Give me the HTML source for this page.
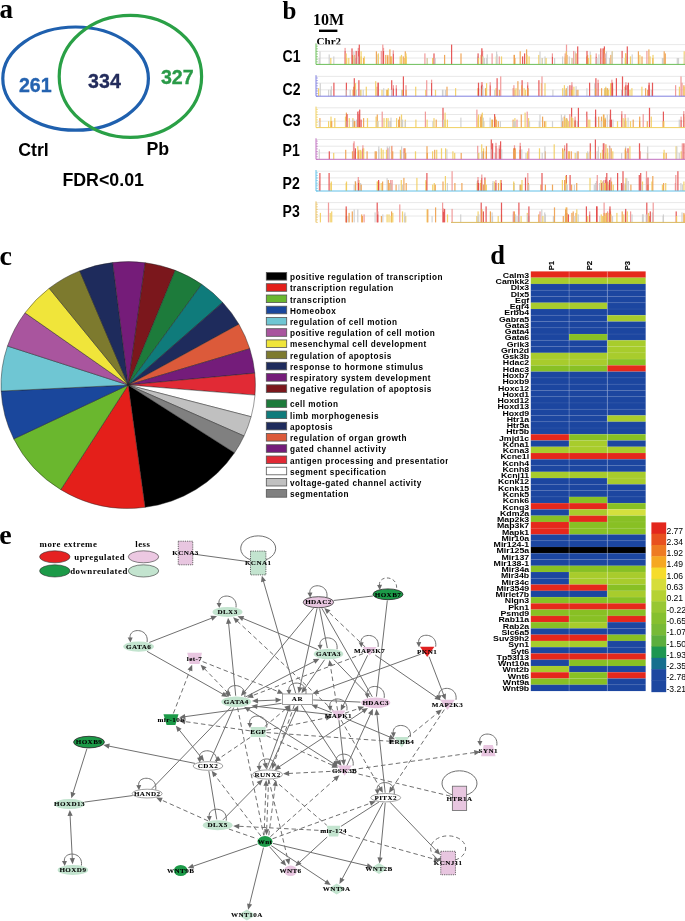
<!DOCTYPE html>
<html><head><meta charset="utf-8"><style>
html,body{margin:0;padding:0;background:#fff;overflow:hidden;}
svg{display:block;will-change:transform;}
</style></head><body>
<svg width="685" height="921" viewBox="0 0 685 921">
<rect width="685" height="921" fill="#fff"/>
<text x="-0.6" y="17.8" font-family='"Liberation Serif", serif' font-weight="bold" font-size="27">a</text>
<ellipse cx="75.6" cy="78.6" rx="72.8" ry="51.6" fill="none" stroke="#1f60ae" stroke-width="3.2"/>
<ellipse cx="130.4" cy="76.4" rx="71.2" ry="61" fill="none" stroke="#2aa046" stroke-width="3.2"/>
<text x="18.9" y="92.1" font-family='"Liberation Sans", sans-serif' font-weight="bold" font-size="19.6" fill="#2563b0" stroke="#2563b0" stroke-width="0.35">261</text>
<text x="88.1" y="87.8" font-family='"Liberation Sans", sans-serif' font-weight="bold" font-size="19.6" fill="#232c5c" stroke="#232c5c" stroke-width="0.35">334</text>
<text x="160.9" y="84" font-family='"Liberation Sans", sans-serif' font-weight="bold" font-size="19.6" fill="#2a9a48" stroke="#2a9a48" stroke-width="0.35">327</text>
<text x="18.2" y="156" font-family='"Liberation Sans", sans-serif' font-weight="bold" font-size="17.8">Ctrl</text>
<text x="146.5" y="155" font-family='"Liberation Sans", sans-serif' font-weight="bold" font-size="17.8">Pb</text>
<text x="62.4" y="185.8" font-family='"Liberation Sans", sans-serif' font-weight="bold" font-size="17.8">FDR&lt;0.01</text>
<text x="282.6" y="18.5" font-family='"Liberation Serif", serif' font-weight="bold" font-size="25">b</text>
<text x="313" y="24.6" font-family='"Liberation Serif", serif' font-weight="bold" font-size="16">10M</text>
<rect x="319" y="29.6" width="18.4" height="2.4" fill="#000"/>
<text x="316.6" y="45.4" font-family='"Liberation Serif", serif' font-weight="bold" font-size="11">Chr2</text>
<text x="282.6" y="61.9" font-family='"Liberation Sans", sans-serif' font-weight="bold" font-size="15.6" transform="translate(282.6 0) scale(0.9 1) translate(-282.6 0)">C1</text>
<line x1="316" y1="44.6" x2="685" y2="44.6" stroke="#e2e2e2" stroke-width="0.8"/>
<line x1="316" y1="51.3" x2="685" y2="51.3" stroke="#e2e2e2" stroke-width="0.8"/>
<line x1="316" y1="58.0" x2="685" y2="58.0" stroke="#e2e2e2" stroke-width="0.8"/>
<rect x="319.4" y="51.4" width="1.2" height="13.0" fill="#cdcdcd" opacity="0.9"/>
<rect x="318.6" y="58.0" width="1.2" height="6.4" fill="#cdcdcd" opacity="0.9"/>
<rect x="328.6" y="54.4" width="1.2" height="10.0" fill="#cdcdcd" opacity="0.9"/>
<rect x="330.2" y="58.0" width="1.2" height="6.4" fill="#f2cd5e" opacity="0.9"/>
<rect x="333.2" y="56.4" width="1.2" height="8.0" fill="#cdcdcd" opacity="0.9"/>
<rect x="344.5" y="50.9" width="1.2" height="13.5" fill="#e34747" opacity="0.9"/>
<rect x="344.5" y="47.9" width="1.2" height="3" fill="#f09090" opacity="0.9"/>
<rect x="345.6" y="53.4" width="1.2" height="11.0" fill="#f2cd5e" opacity="0.9"/>
<rect x="346.1" y="58.0" width="1.2" height="6.4" fill="#f2cd5e" opacity="0.9"/>
<rect x="348.2" y="58.0" width="1.2" height="6.4" fill="#f2cd5e" opacity="0.9"/>
<rect x="351.9" y="54.9" width="1.2" height="9.5" fill="#ee9f4a" opacity="0.9"/>
<rect x="351.4" y="48.4" width="1.2" height="16.0" fill="#e34747" opacity="0.9"/>
<rect x="353.0" y="58.0" width="1.2" height="6.4" fill="#f2cd5e" opacity="0.9"/>
<rect x="353.0" y="56.4" width="1.2" height="8.0" fill="#f2cd5e" opacity="0.9"/>
<rect x="353.9" y="54.9" width="1.2" height="9.5" fill="#ee9f4a" opacity="0.9"/>
<rect x="353.3" y="51.4" width="1.2" height="13.0" fill="#cdcdcd" opacity="0.9"/>
<rect x="355.2" y="58.0" width="1.2" height="6.4" fill="#cdcdcd" opacity="0.9"/>
<rect x="355.6" y="50.9" width="1.2" height="13.5" fill="#e34747" opacity="0.9"/>
<rect x="357.7" y="50.9" width="1.2" height="13.5" fill="#e34747" opacity="0.9"/>
<rect x="357.7" y="47.9" width="1.2" height="3" fill="#f09090" opacity="0.9"/>
<rect x="358.1" y="56.4" width="1.2" height="8.0" fill="#cdcdcd" opacity="0.9"/>
<rect x="358.7" y="44.6" width="1.2" height="19.8" fill="#e34747" opacity="0.9"/>
<rect x="360.5" y="51.3" width="1.2" height="13.1" fill="#f2cd5e" opacity="0.9"/>
<rect x="360.5" y="56.4" width="1.2" height="8.0" fill="#f2cd5e" opacity="0.9"/>
<rect x="362.9" y="58.0" width="1.2" height="6.4" fill="#ee9f4a" opacity="0.9"/>
<rect x="363.7" y="56.4" width="1.2" height="8.0" fill="#f2cd5e" opacity="0.9"/>
<rect x="376.5" y="54.4" width="1.2" height="10.0" fill="#cdcdcd" opacity="0.9"/>
<rect x="375.8" y="51.3" width="1.2" height="13.1" fill="#ee9f4a" opacity="0.9"/>
<rect x="377.8" y="53.4" width="1.2" height="11.0" fill="#f2cd5e" opacity="0.9"/>
<rect x="380.7" y="50.9" width="1.2" height="13.5" fill="#f09090" opacity="0.9"/>
<rect x="382.2" y="44.6" width="1.2" height="19.8" fill="#f09090" opacity="0.9"/>
<rect x="382.9" y="50.9" width="1.2" height="13.5" fill="#e34747" opacity="0.9"/>
<rect x="382.9" y="47.9" width="1.2" height="3" fill="#f09090" opacity="0.9"/>
<rect x="385.2" y="54.9" width="1.2" height="9.5" fill="#ee9f4a" opacity="0.9"/>
<rect x="387.0" y="56.4" width="1.2" height="8.0" fill="#ee9f4a" opacity="0.9"/>
<rect x="387.2" y="54.9" width="1.2" height="9.5" fill="#ee9f4a" opacity="0.9"/>
<rect x="389.3" y="49.4" width="1.2" height="15.0" fill="#ee9f4a" opacity="0.9"/>
<rect x="391.0" y="56.4" width="1.2" height="8.0" fill="#f2cd5e" opacity="0.9"/>
<rect x="390.1" y="56.4" width="1.2" height="8.0" fill="#ee9f4a" opacity="0.9"/>
<rect x="392.7" y="53.4" width="1.2" height="11.0" fill="#e34747" opacity="0.9"/>
<rect x="392.7" y="50.4" width="1.2" height="3" fill="#f09090" opacity="0.9"/>
<rect x="399.6" y="56.4" width="1.2" height="8.0" fill="#f2cd5e" opacity="0.9"/>
<rect x="400.9" y="54.9" width="1.2" height="9.5" fill="#f2cd5e" opacity="0.9"/>
<rect x="402.7" y="56.4" width="1.2" height="8.0" fill="#ee9f4a" opacity="0.9"/>
<rect x="404.2" y="58.0" width="1.2" height="6.4" fill="#f2cd5e" opacity="0.9"/>
<rect x="404.7" y="51.3" width="1.2" height="13.1" fill="#ee9f4a" opacity="0.9"/>
<rect x="405.4" y="53.4" width="1.2" height="11.0" fill="#f2cd5e" opacity="0.9"/>
<rect x="405.6" y="56.4" width="1.2" height="8.0" fill="#f2cd5e" opacity="0.9"/>
<rect x="424.3" y="53.4" width="1.2" height="11.0" fill="#f09090" opacity="0.9"/>
<rect x="426.7" y="58.0" width="1.2" height="6.4" fill="#f2cd5e" opacity="0.9"/>
<rect x="426.5" y="58.0" width="1.2" height="6.4" fill="#cdcdcd" opacity="0.9"/>
<rect x="432.0" y="58.0" width="1.2" height="6.4" fill="#f2cd5e" opacity="0.9"/>
<rect x="433.4" y="53.4" width="1.2" height="11.0" fill="#e34747" opacity="0.9"/>
<rect x="434.6" y="58.0" width="1.2" height="6.4" fill="#cdcdcd" opacity="0.9"/>
<rect x="444.0" y="54.9" width="1.2" height="9.5" fill="#ee9f4a" opacity="0.9"/>
<rect x="451.0" y="44.6" width="1.2" height="19.8" fill="#e34747" opacity="0.9"/>
<rect x="460.4" y="53.4" width="1.2" height="11.0" fill="#ee9f4a" opacity="0.9"/>
<rect x="477.1" y="56.4" width="1.2" height="8.0" fill="#cdcdcd" opacity="0.9"/>
<rect x="477.5" y="53.4" width="1.2" height="11.0" fill="#e34747" opacity="0.9"/>
<rect x="478.0" y="58.0" width="1.2" height="6.4" fill="#f2cd5e" opacity="0.9"/>
<rect x="481.1" y="48.4" width="1.2" height="16.0" fill="#e34747" opacity="0.9"/>
<rect x="480.5" y="54.9" width="1.2" height="9.5" fill="#ee9f4a" opacity="0.9"/>
<rect x="481.2" y="53.4" width="1.2" height="11.0" fill="#e34747" opacity="0.9"/>
<rect x="481.9" y="50.9" width="1.2" height="13.5" fill="#e34747" opacity="0.9"/>
<rect x="481.5" y="48.4" width="1.2" height="16.0" fill="#f09090" opacity="0.9"/>
<rect x="482.0" y="56.4" width="1.2" height="8.0" fill="#f2cd5e" opacity="0.9"/>
<rect x="482.5" y="56.4" width="1.2" height="8.0" fill="#cdcdcd" opacity="0.9"/>
<rect x="483.9" y="58.0" width="1.2" height="6.4" fill="#cdcdcd" opacity="0.9"/>
<rect x="486.1" y="58.0" width="1.2" height="6.4" fill="#cdcdcd" opacity="0.9"/>
<rect x="486.7" y="54.4" width="1.2" height="10.0" fill="#cdcdcd" opacity="0.9"/>
<rect x="491.5" y="53.4" width="1.2" height="11.0" fill="#f09090" opacity="0.9"/>
<rect x="495.7" y="56.4" width="1.2" height="8.0" fill="#f2cd5e" opacity="0.9"/>
<rect x="496.0" y="51.4" width="1.2" height="13.0" fill="#cdcdcd" opacity="0.9"/>
<rect x="496.5" y="54.4" width="1.2" height="10.0" fill="#cdcdcd" opacity="0.9"/>
<rect x="498.7" y="56.4" width="1.2" height="8.0" fill="#f09090" opacity="0.9"/>
<rect x="500.9" y="56.4" width="1.2" height="8.0" fill="#f2cd5e" opacity="0.9"/>
<rect x="513.7" y="54.9" width="1.2" height="9.5" fill="#ee9f4a" opacity="0.9"/>
<rect x="513.7" y="54.9" width="1.2" height="9.5" fill="#ee9f4a" opacity="0.9"/>
<rect x="514.3" y="58.0" width="1.2" height="6.4" fill="#ee9f4a" opacity="0.9"/>
<rect x="519.6" y="51.3" width="1.2" height="13.1" fill="#ee9f4a" opacity="0.9"/>
<rect x="522.0" y="56.4" width="1.2" height="8.0" fill="#e34747" opacity="0.9"/>
<rect x="524.0" y="53.4" width="1.2" height="11.0" fill="#e34747" opacity="0.9"/>
<rect x="526.0" y="49.4" width="1.2" height="15.0" fill="#ee9f4a" opacity="0.9"/>
<rect x="526.4" y="54.9" width="1.2" height="9.5" fill="#f2cd5e" opacity="0.9"/>
<rect x="528.5" y="56.4" width="1.2" height="8.0" fill="#f2cd5e" opacity="0.9"/>
<rect x="538.2" y="54.9" width="1.2" height="9.5" fill="#f2cd5e" opacity="0.9"/>
<rect x="539.4" y="51.4" width="1.2" height="13.0" fill="#cdcdcd" opacity="0.9"/>
<rect x="541.6" y="58.0" width="1.2" height="6.4" fill="#f2cd5e" opacity="0.9"/>
<rect x="541.8" y="58.0" width="1.2" height="6.4" fill="#cdcdcd" opacity="0.9"/>
<rect x="544.4" y="56.4" width="1.2" height="8.0" fill="#cdcdcd" opacity="0.9"/>
<rect x="545.5" y="58.0" width="1.2" height="6.4" fill="#f2cd5e" opacity="0.9"/>
<rect x="551.8" y="56.4" width="1.2" height="8.0" fill="#e34747" opacity="0.9"/>
<rect x="551.8" y="53.4" width="1.2" height="3" fill="#f09090" opacity="0.9"/>
<rect x="554.0" y="58.0" width="1.2" height="6.4" fill="#cdcdcd" opacity="0.9"/>
<rect x="562.0" y="56.4" width="1.2" height="8.0" fill="#cdcdcd" opacity="0.9"/>
<rect x="564.6" y="56.4" width="1.2" height="8.0" fill="#f2cd5e" opacity="0.9"/>
<rect x="564.7" y="58.0" width="1.2" height="6.4" fill="#f2cd5e" opacity="0.9"/>
<rect x="564.6" y="53.4" width="1.2" height="11.0" fill="#f09090" opacity="0.9"/>
<rect x="566.4" y="54.9" width="1.2" height="9.5" fill="#ee9f4a" opacity="0.9"/>
<rect x="565.9" y="44.6" width="1.2" height="19.8" fill="#f09090" opacity="0.9"/>
<rect x="565.6" y="51.3" width="1.2" height="13.1" fill="#f2cd5e" opacity="0.9"/>
<rect x="568.7" y="56.4" width="1.2" height="8.0" fill="#cdcdcd" opacity="0.9"/>
<rect x="571.4" y="58.0" width="1.2" height="6.4" fill="#f2cd5e" opacity="0.9"/>
<rect x="571.5" y="58.0" width="1.2" height="6.4" fill="#cdcdcd" opacity="0.9"/>
<rect x="573.1" y="50.9" width="1.2" height="13.5" fill="#f09090" opacity="0.9"/>
<rect x="574.7" y="51.4" width="1.2" height="13.0" fill="#cdcdcd" opacity="0.9"/>
<rect x="575.5" y="53.4" width="1.2" height="11.0" fill="#ee9f4a" opacity="0.9"/>
<rect x="577.1" y="46.4" width="1.2" height="18.0" fill="#e34747" opacity="0.9"/>
<rect x="586.3" y="56.4" width="1.2" height="8.0" fill="#ee9f4a" opacity="0.9"/>
<rect x="587.1" y="54.9" width="1.2" height="9.5" fill="#f2cd5e" opacity="0.9"/>
<rect x="586.4" y="50.9" width="1.2" height="13.5" fill="#e34747" opacity="0.9"/>
<rect x="588.0" y="58.0" width="1.2" height="6.4" fill="#f2cd5e" opacity="0.9"/>
<rect x="589.6" y="51.4" width="1.2" height="13.0" fill="#cdcdcd" opacity="0.9"/>
<rect x="590.1" y="54.9" width="1.2" height="9.5" fill="#f2cd5e" opacity="0.9"/>
<rect x="595.6" y="56.4" width="1.2" height="8.0" fill="#e34747" opacity="0.9"/>
<rect x="595.6" y="53.4" width="1.2" height="3" fill="#f09090" opacity="0.9"/>
<rect x="596.4" y="58.0" width="1.2" height="6.4" fill="#cdcdcd" opacity="0.9"/>
<rect x="598.3" y="54.4" width="1.2" height="10.0" fill="#cdcdcd" opacity="0.9"/>
<rect x="600.2" y="48.4" width="1.2" height="16.0" fill="#e34747" opacity="0.9"/>
<rect x="601.9" y="48.4" width="1.2" height="16.0" fill="#f09090" opacity="0.9"/>
<rect x="603.1" y="48.4" width="1.2" height="16.0" fill="#e34747" opacity="0.9"/>
<rect x="603.8" y="46.4" width="1.2" height="18.0" fill="#e34747" opacity="0.9"/>
<rect x="604.3" y="54.4" width="1.2" height="10.0" fill="#cdcdcd" opacity="0.9"/>
<rect x="604.4" y="58.0" width="1.2" height="6.4" fill="#ee9f4a" opacity="0.9"/>
<rect x="603.7" y="58.0" width="1.2" height="6.4" fill="#ee9f4a" opacity="0.9"/>
<rect x="603.6" y="49.4" width="1.2" height="15.0" fill="#ee9f4a" opacity="0.9"/>
<rect x="604.5" y="53.4" width="1.2" height="11.0" fill="#f09090" opacity="0.9"/>
<rect x="605.9" y="51.4" width="1.2" height="13.0" fill="#cdcdcd" opacity="0.9"/>
<rect x="608.9" y="58.0" width="1.2" height="6.4" fill="#cdcdcd" opacity="0.9"/>
<rect x="610.3" y="54.9" width="1.2" height="9.5" fill="#ee9f4a" opacity="0.9"/>
<rect x="611.7" y="51.3" width="1.2" height="13.1" fill="#f2cd5e" opacity="0.9"/>
<rect x="611.5" y="51.4" width="1.2" height="13.0" fill="#cdcdcd" opacity="0.9"/>
<rect x="621.5" y="50.9" width="1.2" height="13.5" fill="#e34747" opacity="0.9"/>
<rect x="621.7" y="58.0" width="1.2" height="6.4" fill="#cdcdcd" opacity="0.9"/>
<rect x="625.0" y="53.4" width="1.2" height="11.0" fill="#ee9f4a" opacity="0.9"/>
<rect x="624.6" y="58.0" width="1.2" height="6.4" fill="#f2cd5e" opacity="0.9"/>
<rect x="626.2" y="56.4" width="1.2" height="8.0" fill="#cdcdcd" opacity="0.9"/>
<rect x="625.1" y="53.4" width="1.2" height="11.0" fill="#f2cd5e" opacity="0.9"/>
<rect x="626.7" y="46.4" width="1.2" height="18.0" fill="#e34747" opacity="0.9"/>
<rect x="629.9" y="56.4" width="1.2" height="8.0" fill="#f2cd5e" opacity="0.9"/>
<rect x="631.6" y="54.4" width="1.2" height="10.0" fill="#cdcdcd" opacity="0.9"/>
<rect x="637.8" y="51.3" width="1.2" height="13.1" fill="#ee9f4a" opacity="0.9"/>
<rect x="639.3" y="54.9" width="1.2" height="9.5" fill="#f2cd5e" opacity="0.9"/>
<rect x="641.4" y="56.4" width="1.2" height="8.0" fill="#ee9f4a" opacity="0.9"/>
<rect x="646.3" y="50.9" width="1.2" height="13.5" fill="#f09090" opacity="0.9"/>
<rect x="648.3" y="49.4" width="1.2" height="15.0" fill="#ee9f4a" opacity="0.9"/>
<rect x="649.5" y="56.4" width="1.2" height="8.0" fill="#f2cd5e" opacity="0.9"/>
<rect x="652.2" y="58.0" width="1.2" height="6.4" fill="#ee9f4a" opacity="0.9"/>
<rect x="652.4" y="54.9" width="1.2" height="9.5" fill="#f2cd5e" opacity="0.9"/>
<rect x="661.8" y="58.0" width="1.2" height="6.4" fill="#cdcdcd" opacity="0.9"/>
<rect x="662.5" y="58.0" width="1.2" height="6.4" fill="#cdcdcd" opacity="0.9"/>
<rect x="663.6" y="51.3" width="1.2" height="13.1" fill="#ee9f4a" opacity="0.9"/>
<rect x="664.7" y="53.4" width="1.2" height="11.0" fill="#ee9f4a" opacity="0.9"/>
<rect x="676.7" y="58.0" width="1.2" height="6.4" fill="#cdcdcd" opacity="0.9"/>
<rect x="677.9" y="58.0" width="1.2" height="6.4" fill="#cdcdcd" opacity="0.9"/>
<rect x="683.6" y="51.3" width="1.2" height="13.1" fill="#f2cd5e" opacity="0.9"/>
<rect x="684.4" y="54.4" width="1.2" height="10.0" fill="#cdcdcd" opacity="0.9"/>
<line x1="316" y1="43.400000000000006" x2="316" y2="64.4" stroke="#6cbf5a" stroke-width="1"/>
<line x1="316" y1="64.4" x2="318" y2="64.4" stroke="#6cbf5a" stroke-width="0.6"/>
<line x1="316" y1="61.8" x2="318" y2="61.8" stroke="#6cbf5a" stroke-width="0.6"/>
<line x1="316" y1="59.2" x2="318" y2="59.2" stroke="#6cbf5a" stroke-width="0.6"/>
<line x1="316" y1="56.6" x2="318" y2="56.6" stroke="#6cbf5a" stroke-width="0.6"/>
<line x1="316" y1="54.0" x2="318" y2="54.0" stroke="#6cbf5a" stroke-width="0.6"/>
<line x1="316" y1="51.4" x2="318" y2="51.4" stroke="#6cbf5a" stroke-width="0.6"/>
<line x1="316" y1="48.8" x2="318" y2="48.8" stroke="#6cbf5a" stroke-width="0.6"/>
<line x1="316" y1="46.2" x2="318" y2="46.2" stroke="#6cbf5a" stroke-width="0.6"/>
<line x1="316" y1="64.4" x2="685" y2="64.4" stroke="#6cbf5a" stroke-width="1"/>
<text x="282.6" y="95.3" font-family='"Liberation Sans", sans-serif' font-weight="bold" font-size="15.6" transform="translate(282.6 0) scale(0.9 1) translate(-282.6 0)">C2</text>
<line x1="316" y1="76.4" x2="685" y2="76.4" stroke="#e2e2e2" stroke-width="0.8"/>
<line x1="316" y1="83.1" x2="685" y2="83.1" stroke="#e2e2e2" stroke-width="0.8"/>
<line x1="316" y1="89.8" x2="685" y2="89.8" stroke="#e2e2e2" stroke-width="0.8"/>
<rect x="318.0" y="88.2" width="1.2" height="8.0" fill="#f2cd5e" opacity="0.9"/>
<rect x="319.7" y="83.2" width="1.2" height="13.0" fill="#cdcdcd" opacity="0.9"/>
<rect x="328.0" y="89.8" width="1.2" height="6.4" fill="#cdcdcd" opacity="0.9"/>
<rect x="330.1" y="89.8" width="1.2" height="6.4" fill="#cdcdcd" opacity="0.9"/>
<rect x="330.8" y="86.2" width="1.2" height="10.0" fill="#cdcdcd" opacity="0.9"/>
<rect x="333.3" y="82.7" width="1.2" height="13.5" fill="#e34747" opacity="0.9"/>
<rect x="345.8" y="82.7" width="1.2" height="13.5" fill="#e34747" opacity="0.9"/>
<rect x="345.5" y="89.8" width="1.2" height="6.4" fill="#cdcdcd" opacity="0.9"/>
<rect x="349.6" y="89.8" width="1.2" height="6.4" fill="#cdcdcd" opacity="0.9"/>
<rect x="352.5" y="89.8" width="1.2" height="6.4" fill="#ee9f4a" opacity="0.9"/>
<rect x="353.1" y="86.7" width="1.2" height="9.5" fill="#ee9f4a" opacity="0.9"/>
<rect x="353.7" y="78.2" width="1.2" height="18.0" fill="#e34747" opacity="0.9"/>
<rect x="354.9" y="83.1" width="1.2" height="13.1" fill="#f2cd5e" opacity="0.9"/>
<rect x="355.6" y="89.8" width="1.2" height="6.4" fill="#cdcdcd" opacity="0.9"/>
<rect x="358.3" y="80.2" width="1.2" height="16.0" fill="#e34747" opacity="0.9"/>
<rect x="360.0" y="89.8" width="1.2" height="6.4" fill="#cdcdcd" opacity="0.9"/>
<rect x="360.3" y="89.8" width="1.2" height="6.4" fill="#f2cd5e" opacity="0.9"/>
<rect x="362.6" y="89.8" width="1.2" height="6.4" fill="#cdcdcd" opacity="0.9"/>
<rect x="365.7" y="86.7" width="1.2" height="9.5" fill="#f2cd5e" opacity="0.9"/>
<rect x="375.1" y="81.2" width="1.2" height="15.0" fill="#f2cd5e" opacity="0.9"/>
<rect x="376.5" y="86.7" width="1.2" height="9.5" fill="#ee9f4a" opacity="0.9"/>
<rect x="377.3" y="88.2" width="1.2" height="8.0" fill="#cdcdcd" opacity="0.9"/>
<rect x="377.4" y="82.7" width="1.2" height="13.5" fill="#f09090" opacity="0.9"/>
<rect x="377.6" y="82.7" width="1.2" height="13.5" fill="#e34747" opacity="0.9"/>
<rect x="381.4" y="89.8" width="1.2" height="6.4" fill="#f2cd5e" opacity="0.9"/>
<rect x="383.1" y="88.2" width="1.2" height="8.0" fill="#cdcdcd" opacity="0.9"/>
<rect x="385.9" y="89.8" width="1.2" height="6.4" fill="#f2cd5e" opacity="0.9"/>
<rect x="386.8" y="89.8" width="1.2" height="6.4" fill="#ee9f4a" opacity="0.9"/>
<rect x="387.7" y="88.2" width="1.2" height="8.0" fill="#f2cd5e" opacity="0.9"/>
<rect x="391.1" y="80.2" width="1.2" height="16.0" fill="#e34747" opacity="0.9"/>
<rect x="391.0" y="89.8" width="1.2" height="6.4" fill="#cdcdcd" opacity="0.9"/>
<rect x="392.8" y="88.2" width="1.2" height="8.0" fill="#e34747" opacity="0.9"/>
<rect x="392.8" y="85.2" width="1.2" height="3" fill="#f09090" opacity="0.9"/>
<rect x="395.7" y="88.2" width="1.2" height="8.0" fill="#e34747" opacity="0.9"/>
<rect x="395.7" y="85.2" width="1.2" height="3" fill="#f09090" opacity="0.9"/>
<rect x="401.0" y="89.8" width="1.2" height="6.4" fill="#cdcdcd" opacity="0.9"/>
<rect x="401.9" y="89.8" width="1.2" height="6.4" fill="#f2cd5e" opacity="0.9"/>
<rect x="402.8" y="76.4" width="1.2" height="19.8" fill="#e34747" opacity="0.9"/>
<rect x="405.4" y="85.2" width="1.2" height="11.0" fill="#f09090" opacity="0.9"/>
<rect x="405.5" y="89.8" width="1.2" height="6.4" fill="#ee9f4a" opacity="0.9"/>
<rect x="415.1" y="86.7" width="1.2" height="9.5" fill="#f2cd5e" opacity="0.9"/>
<rect x="425.1" y="89.8" width="1.2" height="6.4" fill="#f2cd5e" opacity="0.9"/>
<rect x="426.1" y="80.2" width="1.2" height="16.0" fill="#f09090" opacity="0.9"/>
<rect x="431.0" y="82.7" width="1.2" height="13.5" fill="#e34747" opacity="0.9"/>
<rect x="431.0" y="79.7" width="1.2" height="3" fill="#f09090" opacity="0.9"/>
<rect x="434.9" y="89.8" width="1.2" height="6.4" fill="#f2cd5e" opacity="0.9"/>
<rect x="441.9" y="89.8" width="1.2" height="6.4" fill="#cdcdcd" opacity="0.9"/>
<rect x="442.3" y="89.8" width="1.2" height="6.4" fill="#cdcdcd" opacity="0.9"/>
<rect x="444.8" y="89.8" width="1.2" height="6.4" fill="#cdcdcd" opacity="0.9"/>
<rect x="446.4" y="86.7" width="1.2" height="9.5" fill="#ee9f4a" opacity="0.9"/>
<rect x="455.0" y="88.2" width="1.2" height="8.0" fill="#f2cd5e" opacity="0.9"/>
<rect x="477.4" y="88.2" width="1.2" height="8.0" fill="#f2cd5e" opacity="0.9"/>
<rect x="477.9" y="88.2" width="1.2" height="8.0" fill="#e34747" opacity="0.9"/>
<rect x="477.9" y="82.7" width="1.2" height="13.5" fill="#e34747" opacity="0.9"/>
<rect x="481.0" y="86.7" width="1.2" height="9.5" fill="#ee9f4a" opacity="0.9"/>
<rect x="480.8" y="86.2" width="1.2" height="10.0" fill="#cdcdcd" opacity="0.9"/>
<rect x="480.9" y="85.2" width="1.2" height="11.0" fill="#e34747" opacity="0.9"/>
<rect x="480.9" y="82.2" width="1.2" height="3" fill="#f09090" opacity="0.9"/>
<rect x="481.7" y="88.2" width="1.2" height="8.0" fill="#f2cd5e" opacity="0.9"/>
<rect x="481.7" y="85.2" width="1.2" height="11.0" fill="#e34747" opacity="0.9"/>
<rect x="481.7" y="82.2" width="1.2" height="3" fill="#f09090" opacity="0.9"/>
<rect x="482.2" y="89.8" width="1.2" height="6.4" fill="#cdcdcd" opacity="0.9"/>
<rect x="482.2" y="86.2" width="1.2" height="10.0" fill="#cdcdcd" opacity="0.9"/>
<rect x="484.9" y="88.2" width="1.2" height="8.0" fill="#ee9f4a" opacity="0.9"/>
<rect x="486.0" y="83.1" width="1.2" height="13.1" fill="#f2cd5e" opacity="0.9"/>
<rect x="489.6" y="85.2" width="1.2" height="11.0" fill="#e34747" opacity="0.9"/>
<rect x="489.6" y="82.2" width="1.2" height="3" fill="#f09090" opacity="0.9"/>
<rect x="494.1" y="89.8" width="1.2" height="6.4" fill="#cdcdcd" opacity="0.9"/>
<rect x="495.4" y="88.2" width="1.2" height="8.0" fill="#f2cd5e" opacity="0.9"/>
<rect x="496.5" y="78.2" width="1.2" height="18.0" fill="#e34747" opacity="0.9"/>
<rect x="498.8" y="89.8" width="1.2" height="6.4" fill="#ee9f4a" opacity="0.9"/>
<rect x="500.1" y="76.4" width="1.2" height="19.8" fill="#f09090" opacity="0.9"/>
<rect x="512.5" y="88.2" width="1.2" height="8.0" fill="#f09090" opacity="0.9"/>
<rect x="513.2" y="88.2" width="1.2" height="8.0" fill="#f2cd5e" opacity="0.9"/>
<rect x="514.4" y="89.8" width="1.2" height="6.4" fill="#f2cd5e" opacity="0.9"/>
<rect x="513.3" y="85.2" width="1.2" height="11.0" fill="#f09090" opacity="0.9"/>
<rect x="515.4" y="88.2" width="1.2" height="8.0" fill="#f2cd5e" opacity="0.9"/>
<rect x="517.3" y="81.2" width="1.2" height="15.0" fill="#ee9f4a" opacity="0.9"/>
<rect x="518.9" y="89.8" width="1.2" height="6.4" fill="#cdcdcd" opacity="0.9"/>
<rect x="521.5" y="80.2" width="1.2" height="16.0" fill="#e34747" opacity="0.9"/>
<rect x="521.2" y="85.2" width="1.2" height="11.0" fill="#ee9f4a" opacity="0.9"/>
<rect x="523.5" y="88.2" width="1.2" height="8.0" fill="#f2cd5e" opacity="0.9"/>
<rect x="525.0" y="89.8" width="1.2" height="6.4" fill="#f2cd5e" opacity="0.9"/>
<rect x="527.3" y="88.2" width="1.2" height="8.0" fill="#ee9f4a" opacity="0.9"/>
<rect x="527.1" y="85.2" width="1.2" height="11.0" fill="#e34747" opacity="0.9"/>
<rect x="527.1" y="82.2" width="1.2" height="3" fill="#f09090" opacity="0.9"/>
<rect x="527.1" y="88.2" width="1.2" height="8.0" fill="#ee9f4a" opacity="0.9"/>
<rect x="538.3" y="80.2" width="1.2" height="16.0" fill="#e34747" opacity="0.9"/>
<rect x="540.8" y="83.1" width="1.2" height="13.1" fill="#f2cd5e" opacity="0.9"/>
<rect x="541.4" y="76.4" width="1.2" height="19.8" fill="#f09090" opacity="0.9"/>
<rect x="544.4" y="83.1" width="1.2" height="13.1" fill="#f2cd5e" opacity="0.9"/>
<rect x="552.3" y="89.8" width="1.2" height="6.4" fill="#cdcdcd" opacity="0.9"/>
<rect x="562.1" y="88.2" width="1.2" height="8.0" fill="#f2cd5e" opacity="0.9"/>
<rect x="563.8" y="85.2" width="1.2" height="11.0" fill="#f2cd5e" opacity="0.9"/>
<rect x="563.7" y="89.8" width="1.2" height="6.4" fill="#cdcdcd" opacity="0.9"/>
<rect x="565.7" y="88.2" width="1.2" height="8.0" fill="#ee9f4a" opacity="0.9"/>
<rect x="565.2" y="89.8" width="1.2" height="6.4" fill="#f2cd5e" opacity="0.9"/>
<rect x="567.1" y="86.2" width="1.2" height="10.0" fill="#cdcdcd" opacity="0.9"/>
<rect x="569.3" y="85.2" width="1.2" height="11.0" fill="#e34747" opacity="0.9"/>
<rect x="571.3" y="85.2" width="1.2" height="11.0" fill="#e34747" opacity="0.9"/>
<rect x="571.3" y="82.2" width="1.2" height="3" fill="#f09090" opacity="0.9"/>
<rect x="571.1" y="89.8" width="1.2" height="6.4" fill="#ee9f4a" opacity="0.9"/>
<rect x="571.9" y="89.8" width="1.2" height="6.4" fill="#f2cd5e" opacity="0.9"/>
<rect x="573.3" y="86.7" width="1.2" height="9.5" fill="#f2cd5e" opacity="0.9"/>
<rect x="575.9" y="89.8" width="1.2" height="6.4" fill="#ee9f4a" opacity="0.9"/>
<rect x="575.5" y="86.2" width="1.2" height="10.0" fill="#cdcdcd" opacity="0.9"/>
<rect x="577.3" y="89.8" width="1.2" height="6.4" fill="#ee9f4a" opacity="0.9"/>
<rect x="586.3" y="88.2" width="1.2" height="8.0" fill="#cdcdcd" opacity="0.9"/>
<rect x="589.0" y="82.7" width="1.2" height="13.5" fill="#e34747" opacity="0.9"/>
<rect x="594.1" y="83.2" width="1.2" height="13.0" fill="#cdcdcd" opacity="0.9"/>
<rect x="595.3" y="78.2" width="1.2" height="18.0" fill="#e34747" opacity="0.9"/>
<rect x="595.0" y="88.2" width="1.2" height="8.0" fill="#ee9f4a" opacity="0.9"/>
<rect x="597.5" y="82.7" width="1.2" height="13.5" fill="#e34747" opacity="0.9"/>
<rect x="597.5" y="79.7" width="1.2" height="3" fill="#f09090" opacity="0.9"/>
<rect x="601.0" y="88.2" width="1.2" height="8.0" fill="#ee9f4a" opacity="0.9"/>
<rect x="603.9" y="89.8" width="1.2" height="6.4" fill="#f2cd5e" opacity="0.9"/>
<rect x="604.2" y="88.2" width="1.2" height="8.0" fill="#f2cd5e" opacity="0.9"/>
<rect x="604.7" y="88.2" width="1.2" height="8.0" fill="#cdcdcd" opacity="0.9"/>
<rect x="604.9" y="88.2" width="1.2" height="8.0" fill="#ee9f4a" opacity="0.9"/>
<rect x="605.9" y="88.2" width="1.2" height="8.0" fill="#cdcdcd" opacity="0.9"/>
<rect x="605.2" y="86.7" width="1.2" height="9.5" fill="#f2cd5e" opacity="0.9"/>
<rect x="607.0" y="88.2" width="1.2" height="8.0" fill="#ee9f4a" opacity="0.9"/>
<rect x="606.3" y="89.8" width="1.2" height="6.4" fill="#f2cd5e" opacity="0.9"/>
<rect x="607.9" y="89.8" width="1.2" height="6.4" fill="#f2cd5e" opacity="0.9"/>
<rect x="609.8" y="88.2" width="1.2" height="8.0" fill="#f2cd5e" opacity="0.9"/>
<rect x="610.0" y="83.1" width="1.2" height="13.1" fill="#f2cd5e" opacity="0.9"/>
<rect x="611.3" y="82.7" width="1.2" height="13.5" fill="#e34747" opacity="0.9"/>
<rect x="611.3" y="79.7" width="1.2" height="3" fill="#f09090" opacity="0.9"/>
<rect x="611.9" y="88.2" width="1.2" height="8.0" fill="#ee9f4a" opacity="0.9"/>
<rect x="611.9" y="82.7" width="1.2" height="13.5" fill="#e34747" opacity="0.9"/>
<rect x="615.8" y="78.2" width="1.2" height="18.0" fill="#e34747" opacity="0.9"/>
<rect x="621.0" y="89.8" width="1.2" height="6.4" fill="#cdcdcd" opacity="0.9"/>
<rect x="621.9" y="76.4" width="1.2" height="19.8" fill="#e34747" opacity="0.9"/>
<rect x="624.5" y="86.7" width="1.2" height="9.5" fill="#ee9f4a" opacity="0.9"/>
<rect x="625.2" y="88.2" width="1.2" height="8.0" fill="#e34747" opacity="0.9"/>
<rect x="625.2" y="85.2" width="1.2" height="3" fill="#f09090" opacity="0.9"/>
<rect x="625.3" y="85.2" width="1.2" height="11.0" fill="#e34747" opacity="0.9"/>
<rect x="625.3" y="82.2" width="1.2" height="3" fill="#f09090" opacity="0.9"/>
<rect x="625.6" y="89.8" width="1.2" height="6.4" fill="#cdcdcd" opacity="0.9"/>
<rect x="627.2" y="85.2" width="1.2" height="11.0" fill="#e34747" opacity="0.9"/>
<rect x="627.8" y="82.7" width="1.2" height="13.5" fill="#e34747" opacity="0.9"/>
<rect x="629.4" y="89.8" width="1.2" height="6.4" fill="#f2cd5e" opacity="0.9"/>
<rect x="631.3" y="88.2" width="1.2" height="8.0" fill="#f2cd5e" opacity="0.9"/>
<rect x="641.3" y="86.7" width="1.2" height="9.5" fill="#f2cd5e" opacity="0.9"/>
<rect x="645.0" y="88.2" width="1.2" height="8.0" fill="#ee9f4a" opacity="0.9"/>
<rect x="647.1" y="89.8" width="1.2" height="6.4" fill="#ee9f4a" opacity="0.9"/>
<rect x="648.4" y="85.2" width="1.2" height="11.0" fill="#e34747" opacity="0.9"/>
<rect x="648.5" y="82.7" width="1.2" height="13.5" fill="#e34747" opacity="0.9"/>
<rect x="650.7" y="89.8" width="1.2" height="6.4" fill="#cdcdcd" opacity="0.9"/>
<rect x="651.9" y="82.7" width="1.2" height="13.5" fill="#e34747" opacity="0.9"/>
<rect x="675.0" y="85.2" width="1.2" height="11.0" fill="#f09090" opacity="0.9"/>
<rect x="678.8" y="86.7" width="1.2" height="9.5" fill="#f2cd5e" opacity="0.9"/>
<rect x="681.4" y="82.7" width="1.2" height="13.5" fill="#f09090" opacity="0.9"/>
<rect x="680.4" y="76.4" width="1.2" height="19.8" fill="#f09090" opacity="0.9"/>
<rect x="683.3" y="85.2" width="1.2" height="11.0" fill="#ee9f4a" opacity="0.9"/>
<rect x="683.5" y="86.7" width="1.2" height="9.5" fill="#f2cd5e" opacity="0.9"/>
<line x1="316" y1="75.2" x2="316" y2="96.2" stroke="#8080e0" stroke-width="1"/>
<line x1="316" y1="96.2" x2="318" y2="96.2" stroke="#8080e0" stroke-width="0.6"/>
<line x1="316" y1="93.6" x2="318" y2="93.6" stroke="#8080e0" stroke-width="0.6"/>
<line x1="316" y1="91.0" x2="318" y2="91.0" stroke="#8080e0" stroke-width="0.6"/>
<line x1="316" y1="88.4" x2="318" y2="88.4" stroke="#8080e0" stroke-width="0.6"/>
<line x1="316" y1="85.8" x2="318" y2="85.8" stroke="#8080e0" stroke-width="0.6"/>
<line x1="316" y1="83.2" x2="318" y2="83.2" stroke="#8080e0" stroke-width="0.6"/>
<line x1="316" y1="80.6" x2="318" y2="80.6" stroke="#8080e0" stroke-width="0.6"/>
<line x1="316" y1="78.0" x2="318" y2="78.0" stroke="#8080e0" stroke-width="0.6"/>
<line x1="316" y1="96.2" x2="685" y2="96.2" stroke="#8080e0" stroke-width="1"/>
<text x="282.6" y="126.2" font-family='"Liberation Sans", sans-serif' font-weight="bold" font-size="15.6" transform="translate(282.6 0) scale(0.9 1) translate(-282.6 0)">C3</text>
<line x1="316" y1="107.8" x2="685" y2="107.8" stroke="#e2e2e2" stroke-width="0.8"/>
<line x1="316" y1="114.5" x2="685" y2="114.5" stroke="#e2e2e2" stroke-width="0.8"/>
<line x1="316" y1="121.2" x2="685" y2="121.2" stroke="#e2e2e2" stroke-width="0.8"/>
<rect x="319.3" y="118.1" width="1.2" height="9.5" fill="#ee9f4a" opacity="0.9"/>
<rect x="318.8" y="121.2" width="1.2" height="6.4" fill="#cdcdcd" opacity="0.9"/>
<rect x="328.0" y="121.2" width="1.2" height="6.4" fill="#f2cd5e" opacity="0.9"/>
<rect x="330.4" y="116.6" width="1.2" height="11.0" fill="#f2cd5e" opacity="0.9"/>
<rect x="330.0" y="121.2" width="1.2" height="6.4" fill="#f2cd5e" opacity="0.9"/>
<rect x="331.1" y="121.2" width="1.2" height="6.4" fill="#ee9f4a" opacity="0.9"/>
<rect x="334.2" y="118.1" width="1.2" height="9.5" fill="#f2cd5e" opacity="0.9"/>
<rect x="344.9" y="116.6" width="1.2" height="11.0" fill="#f2cd5e" opacity="0.9"/>
<rect x="345.8" y="112.6" width="1.2" height="15.0" fill="#ee9f4a" opacity="0.9"/>
<rect x="345.8" y="121.2" width="1.2" height="6.4" fill="#cdcdcd" opacity="0.9"/>
<rect x="346.5" y="114.1" width="1.2" height="13.5" fill="#e34747" opacity="0.9"/>
<rect x="348.7" y="118.1" width="1.2" height="9.5" fill="#f2cd5e" opacity="0.9"/>
<rect x="352.3" y="118.1" width="1.2" height="9.5" fill="#f2cd5e" opacity="0.9"/>
<rect x="352.0" y="119.6" width="1.2" height="8.0" fill="#cdcdcd" opacity="0.9"/>
<rect x="353.5" y="119.6" width="1.2" height="8.0" fill="#cdcdcd" opacity="0.9"/>
<rect x="353.7" y="121.2" width="1.2" height="6.4" fill="#ee9f4a" opacity="0.9"/>
<rect x="354.2" y="121.2" width="1.2" height="6.4" fill="#ee9f4a" opacity="0.9"/>
<rect x="356.0" y="119.6" width="1.2" height="8.0" fill="#cdcdcd" opacity="0.9"/>
<rect x="357.2" y="111.6" width="1.2" height="16.0" fill="#e34747" opacity="0.9"/>
<rect x="358.4" y="114.1" width="1.2" height="13.5" fill="#e34747" opacity="0.9"/>
<rect x="358.4" y="111.1" width="1.2" height="3" fill="#f09090" opacity="0.9"/>
<rect x="358.8" y="121.2" width="1.2" height="6.4" fill="#ee9f4a" opacity="0.9"/>
<rect x="359.1" y="109.6" width="1.2" height="18.0" fill="#e34747" opacity="0.9"/>
<rect x="360.5" y="119.6" width="1.2" height="8.0" fill="#e34747" opacity="0.9"/>
<rect x="363.0" y="118.1" width="1.2" height="9.5" fill="#ee9f4a" opacity="0.9"/>
<rect x="366.9" y="118.1" width="1.2" height="9.5" fill="#f2cd5e" opacity="0.9"/>
<rect x="375.5" y="116.6" width="1.2" height="11.0" fill="#f2cd5e" opacity="0.9"/>
<rect x="376.7" y="114.5" width="1.2" height="13.1" fill="#ee9f4a" opacity="0.9"/>
<rect x="377.3" y="121.2" width="1.2" height="6.4" fill="#f2cd5e" opacity="0.9"/>
<rect x="377.1" y="121.2" width="1.2" height="6.4" fill="#cdcdcd" opacity="0.9"/>
<rect x="381.6" y="111.6" width="1.2" height="16.0" fill="#f09090" opacity="0.9"/>
<rect x="383.4" y="118.1" width="1.2" height="9.5" fill="#f2cd5e" opacity="0.9"/>
<rect x="385.9" y="118.1" width="1.2" height="9.5" fill="#f2cd5e" opacity="0.9"/>
<rect x="387.5" y="118.1" width="1.2" height="9.5" fill="#f2cd5e" opacity="0.9"/>
<rect x="388.0" y="121.2" width="1.2" height="6.4" fill="#cdcdcd" opacity="0.9"/>
<rect x="389.7" y="121.2" width="1.2" height="6.4" fill="#ee9f4a" opacity="0.9"/>
<rect x="390.0" y="121.2" width="1.2" height="6.4" fill="#cdcdcd" opacity="0.9"/>
<rect x="390.4" y="117.6" width="1.2" height="10.0" fill="#cdcdcd" opacity="0.9"/>
<rect x="396.0" y="118.1" width="1.2" height="9.5" fill="#f2cd5e" opacity="0.9"/>
<rect x="398.0" y="119.6" width="1.2" height="8.0" fill="#ee9f4a" opacity="0.9"/>
<rect x="399.0" y="116.6" width="1.2" height="11.0" fill="#ee9f4a" opacity="0.9"/>
<rect x="400.9" y="114.5" width="1.2" height="13.1" fill="#f2cd5e" opacity="0.9"/>
<rect x="402.0" y="119.6" width="1.2" height="8.0" fill="#cdcdcd" opacity="0.9"/>
<rect x="401.2" y="119.6" width="1.2" height="8.0" fill="#cdcdcd" opacity="0.9"/>
<rect x="404.7" y="119.6" width="1.2" height="8.0" fill="#f2cd5e" opacity="0.9"/>
<rect x="404.8" y="121.2" width="1.2" height="6.4" fill="#cdcdcd" opacity="0.9"/>
<rect x="415.3" y="119.6" width="1.2" height="8.0" fill="#f2cd5e" opacity="0.9"/>
<rect x="424.8" y="111.6" width="1.2" height="16.0" fill="#f09090" opacity="0.9"/>
<rect x="426.5" y="119.6" width="1.2" height="8.0" fill="#f2cd5e" opacity="0.9"/>
<rect x="432.3" y="121.2" width="1.2" height="6.4" fill="#cdcdcd" opacity="0.9"/>
<rect x="433.4" y="118.1" width="1.2" height="9.5" fill="#f2cd5e" opacity="0.9"/>
<rect x="435.6" y="119.6" width="1.2" height="8.0" fill="#ee9f4a" opacity="0.9"/>
<rect x="442.4" y="107.8" width="1.2" height="19.8" fill="#e34747" opacity="0.9"/>
<rect x="442.9" y="119.6" width="1.2" height="8.0" fill="#cdcdcd" opacity="0.9"/>
<rect x="444.4" y="119.6" width="1.2" height="8.0" fill="#f2cd5e" opacity="0.9"/>
<rect x="444.5" y="112.6" width="1.2" height="15.0" fill="#f2cd5e" opacity="0.9"/>
<rect x="446.8" y="119.6" width="1.2" height="8.0" fill="#f2cd5e" opacity="0.9"/>
<rect x="460.3" y="117.6" width="1.2" height="10.0" fill="#cdcdcd" opacity="0.9"/>
<rect x="476.3" y="109.6" width="1.2" height="18.0" fill="#f09090" opacity="0.9"/>
<rect x="478.0" y="114.5" width="1.2" height="13.1" fill="#f2cd5e" opacity="0.9"/>
<rect x="477.7" y="119.6" width="1.2" height="8.0" fill="#f2cd5e" opacity="0.9"/>
<rect x="477.7" y="116.6" width="1.2" height="11.0" fill="#f2cd5e" opacity="0.9"/>
<rect x="477.8" y="118.1" width="1.2" height="9.5" fill="#f2cd5e" opacity="0.9"/>
<rect x="480.1" y="116.6" width="1.2" height="11.0" fill="#ee9f4a" opacity="0.9"/>
<rect x="480.4" y="121.2" width="1.2" height="6.4" fill="#f2cd5e" opacity="0.9"/>
<rect x="480.7" y="114.5" width="1.2" height="13.1" fill="#ee9f4a" opacity="0.9"/>
<rect x="481.7" y="112.6" width="1.2" height="15.0" fill="#f2cd5e" opacity="0.9"/>
<rect x="482.7" y="117.6" width="1.2" height="10.0" fill="#cdcdcd" opacity="0.9"/>
<rect x="483.2" y="121.2" width="1.2" height="6.4" fill="#f2cd5e" opacity="0.9"/>
<rect x="482.9" y="121.2" width="1.2" height="6.4" fill="#cdcdcd" opacity="0.9"/>
<rect x="489.5" y="117.6" width="1.2" height="10.0" fill="#cdcdcd" opacity="0.9"/>
<rect x="491.1" y="119.6" width="1.2" height="8.0" fill="#f2cd5e" opacity="0.9"/>
<rect x="491.9" y="119.6" width="1.2" height="8.0" fill="#ee9f4a" opacity="0.9"/>
<rect x="494.0" y="114.1" width="1.2" height="13.5" fill="#e34747" opacity="0.9"/>
<rect x="494.7" y="116.6" width="1.2" height="11.0" fill="#ee9f4a" opacity="0.9"/>
<rect x="495.7" y="119.6" width="1.2" height="8.0" fill="#ee9f4a" opacity="0.9"/>
<rect x="497.7" y="121.2" width="1.2" height="6.4" fill="#ee9f4a" opacity="0.9"/>
<rect x="499.8" y="121.2" width="1.2" height="6.4" fill="#cdcdcd" opacity="0.9"/>
<rect x="512.5" y="119.6" width="1.2" height="8.0" fill="#ee9f4a" opacity="0.9"/>
<rect x="513.4" y="121.2" width="1.2" height="6.4" fill="#cdcdcd" opacity="0.9"/>
<rect x="514.3" y="118.1" width="1.2" height="9.5" fill="#f2cd5e" opacity="0.9"/>
<rect x="513.4" y="121.2" width="1.2" height="6.4" fill="#cdcdcd" opacity="0.9"/>
<rect x="514.7" y="121.2" width="1.2" height="6.4" fill="#cdcdcd" opacity="0.9"/>
<rect x="516.4" y="119.6" width="1.2" height="8.0" fill="#f09090" opacity="0.9"/>
<rect x="520.7" y="114.5" width="1.2" height="13.1" fill="#ee9f4a" opacity="0.9"/>
<rect x="524.5" y="112.6" width="1.2" height="15.0" fill="#f2cd5e" opacity="0.9"/>
<rect x="526.6" y="111.6" width="1.2" height="16.0" fill="#f09090" opacity="0.9"/>
<rect x="528.0" y="118.1" width="1.2" height="9.5" fill="#f2cd5e" opacity="0.9"/>
<rect x="528.9" y="121.2" width="1.2" height="6.4" fill="#cdcdcd" opacity="0.9"/>
<rect x="538.7" y="121.2" width="1.2" height="6.4" fill="#cdcdcd" opacity="0.9"/>
<rect x="539.4" y="114.6" width="1.2" height="13.0" fill="#cdcdcd" opacity="0.9"/>
<rect x="542.0" y="116.6" width="1.2" height="11.0" fill="#ee9f4a" opacity="0.9"/>
<rect x="543.9" y="121.2" width="1.2" height="6.4" fill="#ee9f4a" opacity="0.9"/>
<rect x="545.2" y="121.2" width="1.2" height="6.4" fill="#f2cd5e" opacity="0.9"/>
<rect x="551.9" y="121.2" width="1.2" height="6.4" fill="#cdcdcd" opacity="0.9"/>
<rect x="560.8" y="114.6" width="1.2" height="13.0" fill="#cdcdcd" opacity="0.9"/>
<rect x="561.5" y="117.6" width="1.2" height="10.0" fill="#cdcdcd" opacity="0.9"/>
<rect x="562.1" y="121.2" width="1.2" height="6.4" fill="#ee9f4a" opacity="0.9"/>
<rect x="564.2" y="114.6" width="1.2" height="13.0" fill="#cdcdcd" opacity="0.9"/>
<rect x="563.6" y="116.6" width="1.2" height="11.0" fill="#ee9f4a" opacity="0.9"/>
<rect x="564.2" y="118.1" width="1.2" height="9.5" fill="#f2cd5e" opacity="0.9"/>
<rect x="565.2" y="119.6" width="1.2" height="8.0" fill="#f2cd5e" opacity="0.9"/>
<rect x="566.1" y="118.1" width="1.2" height="9.5" fill="#ee9f4a" opacity="0.9"/>
<rect x="566.6" y="119.6" width="1.2" height="8.0" fill="#cdcdcd" opacity="0.9"/>
<rect x="566.7" y="119.6" width="1.2" height="8.0" fill="#f2cd5e" opacity="0.9"/>
<rect x="568.1" y="121.2" width="1.2" height="6.4" fill="#f2cd5e" opacity="0.9"/>
<rect x="569.2" y="114.1" width="1.2" height="13.5" fill="#f09090" opacity="0.9"/>
<rect x="571.0" y="107.8" width="1.2" height="19.8" fill="#e34747" opacity="0.9"/>
<rect x="570.7" y="116.6" width="1.2" height="11.0" fill="#f2cd5e" opacity="0.9"/>
<rect x="572.2" y="118.1" width="1.2" height="9.5" fill="#f2cd5e" opacity="0.9"/>
<rect x="574.4" y="121.2" width="1.2" height="6.4" fill="#ee9f4a" opacity="0.9"/>
<rect x="574.5" y="119.6" width="1.2" height="8.0" fill="#e34747" opacity="0.9"/>
<rect x="574.5" y="116.6" width="1.2" height="3" fill="#f09090" opacity="0.9"/>
<rect x="576.7" y="121.2" width="1.2" height="6.4" fill="#cdcdcd" opacity="0.9"/>
<rect x="577.8" y="107.8" width="1.2" height="19.8" fill="#e34747" opacity="0.9"/>
<rect x="586.2" y="111.6" width="1.2" height="16.0" fill="#e34747" opacity="0.9"/>
<rect x="586.2" y="116.6" width="1.2" height="11.0" fill="#f09090" opacity="0.9"/>
<rect x="587.6" y="119.6" width="1.2" height="8.0" fill="#f2cd5e" opacity="0.9"/>
<rect x="589.2" y="119.6" width="1.2" height="8.0" fill="#f2cd5e" opacity="0.9"/>
<rect x="594.9" y="116.6" width="1.2" height="11.0" fill="#e34747" opacity="0.9"/>
<rect x="595.2" y="117.6" width="1.2" height="10.0" fill="#cdcdcd" opacity="0.9"/>
<rect x="595.0" y="109.6" width="1.2" height="18.0" fill="#e34747" opacity="0.9"/>
<rect x="598.1" y="116.6" width="1.2" height="11.0" fill="#ee9f4a" opacity="0.9"/>
<rect x="600.9" y="116.6" width="1.2" height="11.0" fill="#ee9f4a" opacity="0.9"/>
<rect x="600.8" y="121.2" width="1.2" height="6.4" fill="#cdcdcd" opacity="0.9"/>
<rect x="602.8" y="114.5" width="1.2" height="13.1" fill="#f2cd5e" opacity="0.9"/>
<rect x="603.2" y="118.1" width="1.2" height="9.5" fill="#f2cd5e" opacity="0.9"/>
<rect x="603.3" y="114.5" width="1.2" height="13.1" fill="#ee9f4a" opacity="0.9"/>
<rect x="604.3" y="121.2" width="1.2" height="6.4" fill="#f2cd5e" opacity="0.9"/>
<rect x="604.8" y="117.6" width="1.2" height="10.0" fill="#cdcdcd" opacity="0.9"/>
<rect x="604.5" y="118.1" width="1.2" height="9.5" fill="#f2cd5e" opacity="0.9"/>
<rect x="604.7" y="119.6" width="1.2" height="8.0" fill="#ee9f4a" opacity="0.9"/>
<rect x="604.5" y="119.6" width="1.2" height="8.0" fill="#ee9f4a" opacity="0.9"/>
<rect x="606.7" y="114.6" width="1.2" height="13.0" fill="#cdcdcd" opacity="0.9"/>
<rect x="609.4" y="114.6" width="1.2" height="13.0" fill="#cdcdcd" opacity="0.9"/>
<rect x="609.9" y="109.6" width="1.2" height="18.0" fill="#e34747" opacity="0.9"/>
<rect x="609.6" y="119.6" width="1.2" height="8.0" fill="#cdcdcd" opacity="0.9"/>
<rect x="609.7" y="119.6" width="1.2" height="8.0" fill="#e34747" opacity="0.9"/>
<rect x="610.8" y="119.6" width="1.2" height="8.0" fill="#e34747" opacity="0.9"/>
<rect x="612.4" y="119.6" width="1.2" height="8.0" fill="#cdcdcd" opacity="0.9"/>
<rect x="616.9" y="121.2" width="1.2" height="6.4" fill="#f2cd5e" opacity="0.9"/>
<rect x="621.2" y="114.1" width="1.2" height="13.5" fill="#e34747" opacity="0.9"/>
<rect x="621.2" y="111.1" width="1.2" height="3" fill="#f09090" opacity="0.9"/>
<rect x="622.5" y="118.1" width="1.2" height="9.5" fill="#f2cd5e" opacity="0.9"/>
<rect x="624.3" y="119.6" width="1.2" height="8.0" fill="#cdcdcd" opacity="0.9"/>
<rect x="624.5" y="121.2" width="1.2" height="6.4" fill="#f2cd5e" opacity="0.9"/>
<rect x="624.5" y="114.1" width="1.2" height="13.5" fill="#f09090" opacity="0.9"/>
<rect x="625.0" y="118.1" width="1.2" height="9.5" fill="#f2cd5e" opacity="0.9"/>
<rect x="625.3" y="121.2" width="1.2" height="6.4" fill="#f2cd5e" opacity="0.9"/>
<rect x="627.5" y="117.6" width="1.2" height="10.0" fill="#cdcdcd" opacity="0.9"/>
<rect x="629.9" y="121.2" width="1.2" height="6.4" fill="#f2cd5e" opacity="0.9"/>
<rect x="632.6" y="119.6" width="1.2" height="8.0" fill="#ee9f4a" opacity="0.9"/>
<rect x="639.0" y="121.2" width="1.2" height="6.4" fill="#ee9f4a" opacity="0.9"/>
<rect x="639.1" y="116.6" width="1.2" height="11.0" fill="#ee9f4a" opacity="0.9"/>
<rect x="642.6" y="114.1" width="1.2" height="13.5" fill="#f09090" opacity="0.9"/>
<rect x="646.7" y="121.2" width="1.2" height="6.4" fill="#ee9f4a" opacity="0.9"/>
<rect x="648.9" y="107.8" width="1.2" height="19.8" fill="#e34747" opacity="0.9"/>
<rect x="650.7" y="116.6" width="1.2" height="11.0" fill="#f2cd5e" opacity="0.9"/>
<rect x="662.8" y="111.6" width="1.2" height="16.0" fill="#e34747" opacity="0.9"/>
<rect x="662.6" y="121.2" width="1.2" height="6.4" fill="#ee9f4a" opacity="0.9"/>
<rect x="663.3" y="121.2" width="1.2" height="6.4" fill="#f2cd5e" opacity="0.9"/>
<rect x="678.7" y="119.6" width="1.2" height="8.0" fill="#cdcdcd" opacity="0.9"/>
<rect x="680.5" y="119.6" width="1.2" height="8.0" fill="#e34747" opacity="0.9"/>
<rect x="680.5" y="116.6" width="1.2" height="3" fill="#f09090" opacity="0.9"/>
<rect x="683.2" y="114.1" width="1.2" height="13.5" fill="#e34747" opacity="0.9"/>
<rect x="683.2" y="111.1" width="1.2" height="3" fill="#f09090" opacity="0.9"/>
<rect x="684.7" y="116.6" width="1.2" height="11.0" fill="#ee9f4a" opacity="0.9"/>
<line x1="316" y1="106.6" x2="316" y2="127.6" stroke="#f0d060" stroke-width="1"/>
<line x1="316" y1="127.6" x2="318" y2="127.6" stroke="#f0d060" stroke-width="0.6"/>
<line x1="316" y1="125.0" x2="318" y2="125.0" stroke="#f0d060" stroke-width="0.6"/>
<line x1="316" y1="122.4" x2="318" y2="122.4" stroke="#f0d060" stroke-width="0.6"/>
<line x1="316" y1="119.8" x2="318" y2="119.8" stroke="#f0d060" stroke-width="0.6"/>
<line x1="316" y1="117.2" x2="318" y2="117.2" stroke="#f0d060" stroke-width="0.6"/>
<line x1="316" y1="114.6" x2="318" y2="114.6" stroke="#f0d060" stroke-width="0.6"/>
<line x1="316" y1="112.0" x2="318" y2="112.0" stroke="#f0d060" stroke-width="0.6"/>
<line x1="316" y1="109.4" x2="318" y2="109.4" stroke="#f0d060" stroke-width="0.6"/>
<line x1="316" y1="127.6" x2="685" y2="127.6" stroke="#f0d060" stroke-width="1"/>
<text x="282.6" y="156.5" font-family='"Liberation Sans", sans-serif' font-weight="bold" font-size="15.6" transform="translate(282.6 0) scale(0.9 1) translate(-282.6 0)">P1</text>
<line x1="316" y1="139.5" x2="685" y2="139.5" stroke="#e2e2e2" stroke-width="0.8"/>
<line x1="316" y1="146.2" x2="685" y2="146.2" stroke="#e2e2e2" stroke-width="0.8"/>
<line x1="316" y1="152.9" x2="685" y2="152.9" stroke="#e2e2e2" stroke-width="0.8"/>
<rect x="318.7" y="149.3" width="1.2" height="10.0" fill="#cdcdcd" opacity="0.9"/>
<rect x="328.7" y="151.3" width="1.2" height="8.0" fill="#e34747" opacity="0.9"/>
<rect x="333.1" y="152.9" width="1.2" height="6.4" fill="#f2cd5e" opacity="0.9"/>
<rect x="345.1" y="149.8" width="1.2" height="9.5" fill="#ee9f4a" opacity="0.9"/>
<rect x="351.9" y="151.3" width="1.2" height="8.0" fill="#ee9f4a" opacity="0.9"/>
<rect x="352.9" y="143.3" width="1.2" height="16.0" fill="#f09090" opacity="0.9"/>
<rect x="353.9" y="151.3" width="1.2" height="8.0" fill="#ee9f4a" opacity="0.9"/>
<rect x="353.5" y="141.3" width="1.2" height="18.0" fill="#f09090" opacity="0.9"/>
<rect x="354.8" y="148.3" width="1.2" height="11.0" fill="#e34747" opacity="0.9"/>
<rect x="357.2" y="146.2" width="1.2" height="13.1" fill="#f2cd5e" opacity="0.9"/>
<rect x="358.3" y="149.8" width="1.2" height="9.5" fill="#ee9f4a" opacity="0.9"/>
<rect x="357.8" y="151.3" width="1.2" height="8.0" fill="#ee9f4a" opacity="0.9"/>
<rect x="360.1" y="149.8" width="1.2" height="9.5" fill="#f2cd5e" opacity="0.9"/>
<rect x="360.4" y="151.3" width="1.2" height="8.0" fill="#f2cd5e" opacity="0.9"/>
<rect x="362.3" y="148.3" width="1.2" height="11.0" fill="#e34747" opacity="0.9"/>
<rect x="362.3" y="145.3" width="1.2" height="3" fill="#f09090" opacity="0.9"/>
<rect x="363.1" y="148.3" width="1.2" height="11.0" fill="#f2cd5e" opacity="0.9"/>
<rect x="366.5" y="151.3" width="1.2" height="8.0" fill="#ee9f4a" opacity="0.9"/>
<rect x="374.6" y="151.3" width="1.2" height="8.0" fill="#ee9f4a" opacity="0.9"/>
<rect x="375.7" y="151.3" width="1.2" height="8.0" fill="#ee9f4a" opacity="0.9"/>
<rect x="378.2" y="146.3" width="1.2" height="13.0" fill="#cdcdcd" opacity="0.9"/>
<rect x="378.1" y="149.3" width="1.2" height="10.0" fill="#cdcdcd" opacity="0.9"/>
<rect x="380.7" y="148.3" width="1.2" height="11.0" fill="#f2cd5e" opacity="0.9"/>
<rect x="382.5" y="149.8" width="1.2" height="9.5" fill="#f2cd5e" opacity="0.9"/>
<rect x="386.7" y="146.3" width="1.2" height="13.0" fill="#cdcdcd" opacity="0.9"/>
<rect x="385.9" y="149.8" width="1.2" height="9.5" fill="#f2cd5e" opacity="0.9"/>
<rect x="387.4" y="148.3" width="1.2" height="11.0" fill="#f09090" opacity="0.9"/>
<rect x="388.8" y="146.3" width="1.2" height="13.0" fill="#cdcdcd" opacity="0.9"/>
<rect x="390.9" y="146.2" width="1.2" height="13.1" fill="#f2cd5e" opacity="0.9"/>
<rect x="391.3" y="145.8" width="1.2" height="13.5" fill="#f09090" opacity="0.9"/>
<rect x="392.1" y="151.3" width="1.2" height="8.0" fill="#ee9f4a" opacity="0.9"/>
<rect x="399.8" y="149.8" width="1.2" height="9.5" fill="#f2cd5e" opacity="0.9"/>
<rect x="400.8" y="151.3" width="1.2" height="8.0" fill="#ee9f4a" opacity="0.9"/>
<rect x="401.0" y="146.3" width="1.2" height="13.0" fill="#cdcdcd" opacity="0.9"/>
<rect x="403.5" y="148.3" width="1.2" height="11.0" fill="#e34747" opacity="0.9"/>
<rect x="403.6" y="152.9" width="1.2" height="6.4" fill="#cdcdcd" opacity="0.9"/>
<rect x="405.1" y="152.9" width="1.2" height="6.4" fill="#ee9f4a" opacity="0.9"/>
<rect x="404.5" y="148.3" width="1.2" height="11.0" fill="#ee9f4a" opacity="0.9"/>
<rect x="414.9" y="151.3" width="1.2" height="8.0" fill="#f2cd5e" opacity="0.9"/>
<rect x="426.4" y="146.2" width="1.2" height="13.1" fill="#ee9f4a" opacity="0.9"/>
<rect x="426.7" y="152.9" width="1.2" height="6.4" fill="#ee9f4a" opacity="0.9"/>
<rect x="432.0" y="151.3" width="1.2" height="8.0" fill="#f2cd5e" opacity="0.9"/>
<rect x="434.1" y="149.8" width="1.2" height="9.5" fill="#ee9f4a" opacity="0.9"/>
<rect x="436.1" y="149.8" width="1.2" height="9.5" fill="#f2cd5e" opacity="0.9"/>
<rect x="440.9" y="148.3" width="1.2" height="11.0" fill="#f2cd5e" opacity="0.9"/>
<rect x="445.0" y="148.3" width="1.2" height="11.0" fill="#f2cd5e" opacity="0.9"/>
<rect x="446.3" y="149.3" width="1.2" height="10.0" fill="#cdcdcd" opacity="0.9"/>
<rect x="452.3" y="151.3" width="1.2" height="8.0" fill="#f2cd5e" opacity="0.9"/>
<rect x="454.1" y="152.9" width="1.2" height="6.4" fill="#f2cd5e" opacity="0.9"/>
<rect x="460.6" y="152.9" width="1.2" height="6.4" fill="#ee9f4a" opacity="0.9"/>
<rect x="477.1" y="145.8" width="1.2" height="13.5" fill="#f09090" opacity="0.9"/>
<rect x="477.6" y="152.9" width="1.2" height="6.4" fill="#cdcdcd" opacity="0.9"/>
<rect x="478.2" y="152.9" width="1.2" height="6.4" fill="#f2cd5e" opacity="0.9"/>
<rect x="481.1" y="144.3" width="1.2" height="15.0" fill="#f2cd5e" opacity="0.9"/>
<rect x="481.3" y="152.9" width="1.2" height="6.4" fill="#cdcdcd" opacity="0.9"/>
<rect x="481.8" y="151.3" width="1.2" height="8.0" fill="#cdcdcd" opacity="0.9"/>
<rect x="483.0" y="148.3" width="1.2" height="11.0" fill="#f2cd5e" opacity="0.9"/>
<rect x="482.8" y="151.3" width="1.2" height="8.0" fill="#ee9f4a" opacity="0.9"/>
<rect x="485.7" y="151.3" width="1.2" height="8.0" fill="#ee9f4a" opacity="0.9"/>
<rect x="485.8" y="146.2" width="1.2" height="13.1" fill="#ee9f4a" opacity="0.9"/>
<rect x="490.7" y="139.5" width="1.2" height="19.8" fill="#e34747" opacity="0.9"/>
<rect x="491.4" y="149.3" width="1.2" height="10.0" fill="#cdcdcd" opacity="0.9"/>
<rect x="492.0" y="143.3" width="1.2" height="16.0" fill="#e34747" opacity="0.9"/>
<rect x="494.4" y="152.9" width="1.2" height="6.4" fill="#cdcdcd" opacity="0.9"/>
<rect x="495.4" y="145.8" width="1.2" height="13.5" fill="#e34747" opacity="0.9"/>
<rect x="495.4" y="142.8" width="1.2" height="3" fill="#f09090" opacity="0.9"/>
<rect x="496.1" y="148.3" width="1.2" height="11.0" fill="#f09090" opacity="0.9"/>
<rect x="498.7" y="148.3" width="1.2" height="11.0" fill="#e34747" opacity="0.9"/>
<rect x="498.7" y="145.3" width="1.2" height="3" fill="#f09090" opacity="0.9"/>
<rect x="500.0" y="141.3" width="1.2" height="18.0" fill="#e34747" opacity="0.9"/>
<rect x="501.1" y="149.3" width="1.2" height="10.0" fill="#cdcdcd" opacity="0.9"/>
<rect x="513.0" y="148.3" width="1.2" height="11.0" fill="#f2cd5e" opacity="0.9"/>
<rect x="513.9" y="148.3" width="1.2" height="11.0" fill="#e34747" opacity="0.9"/>
<rect x="513.9" y="145.3" width="1.2" height="3" fill="#f09090" opacity="0.9"/>
<rect x="513.7" y="148.3" width="1.2" height="11.0" fill="#e34747" opacity="0.9"/>
<rect x="514.3" y="149.8" width="1.2" height="9.5" fill="#f2cd5e" opacity="0.9"/>
<rect x="514.6" y="148.3" width="1.2" height="11.0" fill="#ee9f4a" opacity="0.9"/>
<rect x="519.4" y="149.8" width="1.2" height="9.5" fill="#ee9f4a" opacity="0.9"/>
<rect x="519.6" y="145.8" width="1.2" height="13.5" fill="#e34747" opacity="0.9"/>
<rect x="519.6" y="142.8" width="1.2" height="3" fill="#f09090" opacity="0.9"/>
<rect x="521.2" y="149.3" width="1.2" height="10.0" fill="#cdcdcd" opacity="0.9"/>
<rect x="525.3" y="152.9" width="1.2" height="6.4" fill="#cdcdcd" opacity="0.9"/>
<rect x="527.1" y="151.3" width="1.2" height="8.0" fill="#f2cd5e" opacity="0.9"/>
<rect x="526.7" y="152.9" width="1.2" height="6.4" fill="#f2cd5e" opacity="0.9"/>
<rect x="528.2" y="148.3" width="1.2" height="11.0" fill="#f09090" opacity="0.9"/>
<rect x="538.9" y="148.3" width="1.2" height="11.0" fill="#f2cd5e" opacity="0.9"/>
<rect x="541.6" y="152.9" width="1.2" height="6.4" fill="#cdcdcd" opacity="0.9"/>
<rect x="544.7" y="151.3" width="1.2" height="8.0" fill="#ee9f4a" opacity="0.9"/>
<rect x="544.3" y="146.3" width="1.2" height="13.0" fill="#cdcdcd" opacity="0.9"/>
<rect x="553.6" y="144.3" width="1.2" height="15.0" fill="#f2cd5e" opacity="0.9"/>
<rect x="562.0" y="148.3" width="1.2" height="11.0" fill="#ee9f4a" opacity="0.9"/>
<rect x="562.4" y="151.3" width="1.2" height="8.0" fill="#f2cd5e" opacity="0.9"/>
<rect x="564.0" y="148.3" width="1.2" height="11.0" fill="#e34747" opacity="0.9"/>
<rect x="564.0" y="145.3" width="1.2" height="3" fill="#f09090" opacity="0.9"/>
<rect x="563.5" y="149.8" width="1.2" height="9.5" fill="#f2cd5e" opacity="0.9"/>
<rect x="564.1" y="151.3" width="1.2" height="8.0" fill="#cdcdcd" opacity="0.9"/>
<rect x="566.2" y="143.3" width="1.2" height="16.0" fill="#e34747" opacity="0.9"/>
<rect x="567.9" y="151.3" width="1.2" height="8.0" fill="#f2cd5e" opacity="0.9"/>
<rect x="568.7" y="151.3" width="1.2" height="8.0" fill="#ee9f4a" opacity="0.9"/>
<rect x="570.7" y="151.3" width="1.2" height="8.0" fill="#ee9f4a" opacity="0.9"/>
<rect x="574.6" y="152.9" width="1.2" height="6.4" fill="#f2cd5e" opacity="0.9"/>
<rect x="576.4" y="152.9" width="1.2" height="6.4" fill="#cdcdcd" opacity="0.9"/>
<rect x="576.6" y="151.3" width="1.2" height="8.0" fill="#cdcdcd" opacity="0.9"/>
<rect x="577.5" y="151.3" width="1.2" height="8.0" fill="#ee9f4a" opacity="0.9"/>
<rect x="587.0" y="151.3" width="1.2" height="8.0" fill="#cdcdcd" opacity="0.9"/>
<rect x="586.3" y="152.9" width="1.2" height="6.4" fill="#f2cd5e" opacity="0.9"/>
<rect x="587.5" y="152.9" width="1.2" height="6.4" fill="#cdcdcd" opacity="0.9"/>
<rect x="589.7" y="143.3" width="1.2" height="16.0" fill="#e34747" opacity="0.9"/>
<rect x="589.7" y="151.3" width="1.2" height="8.0" fill="#ee9f4a" opacity="0.9"/>
<rect x="594.8" y="139.5" width="1.2" height="19.8" fill="#e34747" opacity="0.9"/>
<rect x="596.5" y="151.3" width="1.2" height="8.0" fill="#cdcdcd" opacity="0.9"/>
<rect x="597.8" y="146.3" width="1.2" height="13.0" fill="#cdcdcd" opacity="0.9"/>
<rect x="600.0" y="152.9" width="1.2" height="6.4" fill="#f2cd5e" opacity="0.9"/>
<rect x="601.9" y="149.8" width="1.2" height="9.5" fill="#f2cd5e" opacity="0.9"/>
<rect x="602.6" y="143.3" width="1.2" height="16.0" fill="#f09090" opacity="0.9"/>
<rect x="603.3" y="143.3" width="1.2" height="16.0" fill="#e34747" opacity="0.9"/>
<rect x="604.1" y="152.9" width="1.2" height="6.4" fill="#cdcdcd" opacity="0.9"/>
<rect x="604.5" y="152.9" width="1.2" height="6.4" fill="#f2cd5e" opacity="0.9"/>
<rect x="605.3" y="144.3" width="1.2" height="15.0" fill="#ee9f4a" opacity="0.9"/>
<rect x="607.0" y="148.3" width="1.2" height="11.0" fill="#f2cd5e" opacity="0.9"/>
<rect x="607.1" y="152.9" width="1.2" height="6.4" fill="#f2cd5e" opacity="0.9"/>
<rect x="609.0" y="145.8" width="1.2" height="13.5" fill="#e34747" opacity="0.9"/>
<rect x="609.1" y="146.3" width="1.2" height="13.0" fill="#cdcdcd" opacity="0.9"/>
<rect x="610.6" y="148.3" width="1.2" height="11.0" fill="#ee9f4a" opacity="0.9"/>
<rect x="612.2" y="151.3" width="1.2" height="8.0" fill="#f2cd5e" opacity="0.9"/>
<rect x="621.0" y="152.9" width="1.2" height="6.4" fill="#cdcdcd" opacity="0.9"/>
<rect x="625.0" y="146.3" width="1.2" height="13.0" fill="#cdcdcd" opacity="0.9"/>
<rect x="624.9" y="148.3" width="1.2" height="11.0" fill="#ee9f4a" opacity="0.9"/>
<rect x="624.7" y="149.8" width="1.2" height="9.5" fill="#ee9f4a" opacity="0.9"/>
<rect x="625.3" y="151.3" width="1.2" height="8.0" fill="#ee9f4a" opacity="0.9"/>
<rect x="627.4" y="148.3" width="1.2" height="11.0" fill="#e34747" opacity="0.9"/>
<rect x="627.0" y="152.9" width="1.2" height="6.4" fill="#cdcdcd" opacity="0.9"/>
<rect x="629.3" y="146.2" width="1.2" height="13.1" fill="#f2cd5e" opacity="0.9"/>
<rect x="638.9" y="143.3" width="1.2" height="16.0" fill="#e34747" opacity="0.9"/>
<rect x="639.8" y="151.3" width="1.2" height="8.0" fill="#f09090" opacity="0.9"/>
<rect x="646.9" y="152.9" width="1.2" height="6.4" fill="#ee9f4a" opacity="0.9"/>
<rect x="647.1" y="146.3" width="1.2" height="13.0" fill="#cdcdcd" opacity="0.9"/>
<rect x="663.1" y="152.9" width="1.2" height="6.4" fill="#f2cd5e" opacity="0.9"/>
<rect x="663.5" y="149.8" width="1.2" height="9.5" fill="#f2cd5e" opacity="0.9"/>
<rect x="665.6" y="152.9" width="1.2" height="6.4" fill="#ee9f4a" opacity="0.9"/>
<rect x="675.5" y="146.2" width="1.2" height="13.1" fill="#f2cd5e" opacity="0.9"/>
<rect x="676.3" y="146.3" width="1.2" height="13.0" fill="#cdcdcd" opacity="0.9"/>
<rect x="678.6" y="152.9" width="1.2" height="6.4" fill="#cdcdcd" opacity="0.9"/>
<rect x="680.6" y="151.3" width="1.2" height="8.0" fill="#f2cd5e" opacity="0.9"/>
<rect x="681.7" y="143.3" width="1.2" height="16.0" fill="#f09090" opacity="0.9"/>
<rect x="683.3" y="143.3" width="1.2" height="16.0" fill="#e34747" opacity="0.9"/>
<line x1="316" y1="138.3" x2="316" y2="159.3" stroke="#c070c0" stroke-width="1"/>
<line x1="316" y1="159.3" x2="318" y2="159.3" stroke="#c070c0" stroke-width="0.6"/>
<line x1="316" y1="156.7" x2="318" y2="156.7" stroke="#c070c0" stroke-width="0.6"/>
<line x1="316" y1="154.1" x2="318" y2="154.1" stroke="#c070c0" stroke-width="0.6"/>
<line x1="316" y1="151.5" x2="318" y2="151.5" stroke="#c070c0" stroke-width="0.6"/>
<line x1="316" y1="148.9" x2="318" y2="148.9" stroke="#c070c0" stroke-width="0.6"/>
<line x1="316" y1="146.3" x2="318" y2="146.3" stroke="#c070c0" stroke-width="0.6"/>
<line x1="316" y1="143.7" x2="318" y2="143.7" stroke="#c070c0" stroke-width="0.6"/>
<line x1="316" y1="141.1" x2="318" y2="141.1" stroke="#c070c0" stroke-width="0.6"/>
<line x1="316" y1="159.3" x2="685" y2="159.3" stroke="#c070c0" stroke-width="1"/>
<text x="282.6" y="188.9" font-family='"Liberation Sans", sans-serif' font-weight="bold" font-size="15.6" transform="translate(282.6 0) scale(0.9 1) translate(-282.6 0)">P2</text>
<line x1="316" y1="171.2" x2="685" y2="171.2" stroke="#e2e2e2" stroke-width="0.8"/>
<line x1="316" y1="177.9" x2="685" y2="177.9" stroke="#e2e2e2" stroke-width="0.8"/>
<line x1="316" y1="184.6" x2="685" y2="184.6" stroke="#e2e2e2" stroke-width="0.8"/>
<rect x="318.6" y="181.0" width="1.2" height="10.0" fill="#cdcdcd" opacity="0.9"/>
<rect x="319.3" y="173.0" width="1.2" height="18.0" fill="#e34747" opacity="0.9"/>
<rect x="328.5" y="173.0" width="1.2" height="18.0" fill="#e34747" opacity="0.9"/>
<rect x="330.4" y="183.0" width="1.2" height="8.0" fill="#f2cd5e" opacity="0.9"/>
<rect x="330.7" y="181.5" width="1.2" height="9.5" fill="#f2cd5e" opacity="0.9"/>
<rect x="345.8" y="183.0" width="1.2" height="8.0" fill="#f2cd5e" opacity="0.9"/>
<rect x="345.8" y="183.0" width="1.2" height="8.0" fill="#f2cd5e" opacity="0.9"/>
<rect x="345.9" y="181.5" width="1.2" height="9.5" fill="#f2cd5e" opacity="0.9"/>
<rect x="353.5" y="184.6" width="1.2" height="6.4" fill="#cdcdcd" opacity="0.9"/>
<rect x="354.7" y="181.0" width="1.2" height="10.0" fill="#cdcdcd" opacity="0.9"/>
<rect x="355.0" y="183.0" width="1.2" height="8.0" fill="#f2cd5e" opacity="0.9"/>
<rect x="354.9" y="181.5" width="1.2" height="9.5" fill="#ee9f4a" opacity="0.9"/>
<rect x="357.7" y="180.0" width="1.2" height="11.0" fill="#e34747" opacity="0.9"/>
<rect x="357.7" y="177.0" width="1.2" height="3" fill="#f09090" opacity="0.9"/>
<rect x="358.4" y="180.0" width="1.2" height="11.0" fill="#f2cd5e" opacity="0.9"/>
<rect x="358.0" y="183.0" width="1.2" height="8.0" fill="#e34747" opacity="0.9"/>
<rect x="358.0" y="180.0" width="1.2" height="3" fill="#f09090" opacity="0.9"/>
<rect x="360.0" y="183.0" width="1.2" height="8.0" fill="#cdcdcd" opacity="0.9"/>
<rect x="360.6" y="184.6" width="1.2" height="6.4" fill="#ee9f4a" opacity="0.9"/>
<rect x="376.7" y="181.5" width="1.2" height="9.5" fill="#f2cd5e" opacity="0.9"/>
<rect x="376.9" y="181.5" width="1.2" height="9.5" fill="#f2cd5e" opacity="0.9"/>
<rect x="378.1" y="181.5" width="1.2" height="9.5" fill="#ee9f4a" opacity="0.9"/>
<rect x="378.0" y="180.0" width="1.2" height="11.0" fill="#e34747" opacity="0.9"/>
<rect x="380.6" y="183.0" width="1.2" height="8.0" fill="#f2cd5e" opacity="0.9"/>
<rect x="382.0" y="181.5" width="1.2" height="9.5" fill="#ee9f4a" opacity="0.9"/>
<rect x="386.5" y="178.0" width="1.2" height="13.0" fill="#cdcdcd" opacity="0.9"/>
<rect x="387.7" y="180.0" width="1.2" height="11.0" fill="#ee9f4a" opacity="0.9"/>
<rect x="388.6" y="183.0" width="1.2" height="8.0" fill="#ee9f4a" opacity="0.9"/>
<rect x="390.1" y="183.0" width="1.2" height="8.0" fill="#e34747" opacity="0.9"/>
<rect x="390.1" y="180.0" width="1.2" height="3" fill="#f09090" opacity="0.9"/>
<rect x="390.4" y="184.6" width="1.2" height="6.4" fill="#f2cd5e" opacity="0.9"/>
<rect x="390.3" y="183.0" width="1.2" height="8.0" fill="#cdcdcd" opacity="0.9"/>
<rect x="391.5" y="180.0" width="1.2" height="11.0" fill="#f09090" opacity="0.9"/>
<rect x="395.5" y="184.6" width="1.2" height="6.4" fill="#ee9f4a" opacity="0.9"/>
<rect x="398.3" y="184.6" width="1.2" height="6.4" fill="#cdcdcd" opacity="0.9"/>
<rect x="401.9" y="184.6" width="1.2" height="6.4" fill="#cdcdcd" opacity="0.9"/>
<rect x="400.7" y="180.0" width="1.2" height="11.0" fill="#f2cd5e" opacity="0.9"/>
<rect x="403.3" y="177.9" width="1.2" height="13.1" fill="#ee9f4a" opacity="0.9"/>
<rect x="405.6" y="183.0" width="1.2" height="8.0" fill="#ee9f4a" opacity="0.9"/>
<rect x="416.3" y="177.9" width="1.2" height="13.1" fill="#f2cd5e" opacity="0.9"/>
<rect x="425.3" y="180.0" width="1.2" height="11.0" fill="#f2cd5e" opacity="0.9"/>
<rect x="425.6" y="181.5" width="1.2" height="9.5" fill="#f2cd5e" opacity="0.9"/>
<rect x="426.3" y="173.0" width="1.2" height="18.0" fill="#e34747" opacity="0.9"/>
<rect x="432.1" y="184.6" width="1.2" height="6.4" fill="#f2cd5e" opacity="0.9"/>
<rect x="433.7" y="183.0" width="1.2" height="8.0" fill="#f2cd5e" opacity="0.9"/>
<rect x="434.7" y="184.6" width="1.2" height="6.4" fill="#ee9f4a" opacity="0.9"/>
<rect x="442.4" y="181.5" width="1.2" height="9.5" fill="#ee9f4a" opacity="0.9"/>
<rect x="444.8" y="176.0" width="1.2" height="15.0" fill="#f2cd5e" opacity="0.9"/>
<rect x="446.8" y="183.0" width="1.2" height="8.0" fill="#cdcdcd" opacity="0.9"/>
<rect x="451.5" y="171.2" width="1.2" height="19.8" fill="#f09090" opacity="0.9"/>
<rect x="454.3" y="183.0" width="1.2" height="8.0" fill="#ee9f4a" opacity="0.9"/>
<rect x="461.3" y="183.0" width="1.2" height="8.0" fill="#ee9f4a" opacity="0.9"/>
<rect x="476.7" y="181.0" width="1.2" height="10.0" fill="#cdcdcd" opacity="0.9"/>
<rect x="476.7" y="183.0" width="1.2" height="8.0" fill="#f2cd5e" opacity="0.9"/>
<rect x="477.4" y="180.0" width="1.2" height="11.0" fill="#e34747" opacity="0.9"/>
<rect x="477.4" y="177.0" width="1.2" height="3" fill="#f09090" opacity="0.9"/>
<rect x="478.0" y="183.0" width="1.2" height="8.0" fill="#e34747" opacity="0.9"/>
<rect x="480.0" y="183.0" width="1.2" height="8.0" fill="#ee9f4a" opacity="0.9"/>
<rect x="480.5" y="180.0" width="1.2" height="11.0" fill="#f2cd5e" opacity="0.9"/>
<rect x="481.2" y="177.5" width="1.2" height="13.5" fill="#e34747" opacity="0.9"/>
<rect x="481.2" y="174.5" width="1.2" height="3" fill="#f09090" opacity="0.9"/>
<rect x="482.6" y="184.6" width="1.2" height="6.4" fill="#cdcdcd" opacity="0.9"/>
<rect x="482.8" y="184.6" width="1.2" height="6.4" fill="#ee9f4a" opacity="0.9"/>
<rect x="484.3" y="177.5" width="1.2" height="13.5" fill="#e34747" opacity="0.9"/>
<rect x="484.6" y="180.0" width="1.2" height="11.0" fill="#f2cd5e" opacity="0.9"/>
<rect x="485.8" y="184.6" width="1.2" height="6.4" fill="#f2cd5e" opacity="0.9"/>
<rect x="492.4" y="181.0" width="1.2" height="10.0" fill="#cdcdcd" opacity="0.9"/>
<rect x="492.1" y="183.0" width="1.2" height="8.0" fill="#cdcdcd" opacity="0.9"/>
<rect x="493.9" y="181.5" width="1.2" height="9.5" fill="#f2cd5e" opacity="0.9"/>
<rect x="495.2" y="183.0" width="1.2" height="8.0" fill="#cdcdcd" opacity="0.9"/>
<rect x="495.3" y="183.0" width="1.2" height="8.0" fill="#e34747" opacity="0.9"/>
<rect x="495.3" y="180.0" width="1.2" height="3" fill="#f09090" opacity="0.9"/>
<rect x="497.9" y="183.0" width="1.2" height="8.0" fill="#ee9f4a" opacity="0.9"/>
<rect x="499.9" y="180.0" width="1.2" height="11.0" fill="#f2cd5e" opacity="0.9"/>
<rect x="500.8" y="183.0" width="1.2" height="8.0" fill="#e34747" opacity="0.9"/>
<rect x="500.8" y="180.0" width="1.2" height="3" fill="#f09090" opacity="0.9"/>
<rect x="513.3" y="183.0" width="1.2" height="8.0" fill="#f2cd5e" opacity="0.9"/>
<rect x="513.5" y="183.0" width="1.2" height="8.0" fill="#cdcdcd" opacity="0.9"/>
<rect x="513.1" y="181.5" width="1.2" height="9.5" fill="#f2cd5e" opacity="0.9"/>
<rect x="519.4" y="184.6" width="1.2" height="6.4" fill="#cdcdcd" opacity="0.9"/>
<rect x="519.7" y="184.6" width="1.2" height="6.4" fill="#ee9f4a" opacity="0.9"/>
<rect x="521.4" y="180.0" width="1.2" height="11.0" fill="#f2cd5e" opacity="0.9"/>
<rect x="520.9" y="184.6" width="1.2" height="6.4" fill="#f2cd5e" opacity="0.9"/>
<rect x="524.9" y="177.5" width="1.2" height="13.5" fill="#e34747" opacity="0.9"/>
<rect x="527.2" y="173.0" width="1.2" height="18.0" fill="#f09090" opacity="0.9"/>
<rect x="527.8" y="183.0" width="1.2" height="8.0" fill="#ee9f4a" opacity="0.9"/>
<rect x="528.3" y="184.6" width="1.2" height="6.4" fill="#cdcdcd" opacity="0.9"/>
<rect x="540.3" y="184.6" width="1.2" height="6.4" fill="#ee9f4a" opacity="0.9"/>
<rect x="541.4" y="173.0" width="1.2" height="18.0" fill="#e34747" opacity="0.9"/>
<rect x="544.8" y="184.6" width="1.2" height="6.4" fill="#ee9f4a" opacity="0.9"/>
<rect x="551.9" y="184.6" width="1.2" height="6.4" fill="#ee9f4a" opacity="0.9"/>
<rect x="561.8" y="180.0" width="1.2" height="11.0" fill="#f2cd5e" opacity="0.9"/>
<rect x="564.1" y="180.0" width="1.2" height="11.0" fill="#f09090" opacity="0.9"/>
<rect x="564.3" y="180.0" width="1.2" height="11.0" fill="#ee9f4a" opacity="0.9"/>
<rect x="565.8" y="175.0" width="1.2" height="16.0" fill="#e34747" opacity="0.9"/>
<rect x="565.1" y="176.0" width="1.2" height="15.0" fill="#f2cd5e" opacity="0.9"/>
<rect x="565.7" y="183.0" width="1.2" height="8.0" fill="#f2cd5e" opacity="0.9"/>
<rect x="566.6" y="184.6" width="1.2" height="6.4" fill="#cdcdcd" opacity="0.9"/>
<rect x="566.0" y="184.6" width="1.2" height="6.4" fill="#cdcdcd" opacity="0.9"/>
<rect x="569.5" y="175.0" width="1.2" height="16.0" fill="#e34747" opacity="0.9"/>
<rect x="571.0" y="184.6" width="1.2" height="6.4" fill="#ee9f4a" opacity="0.9"/>
<rect x="573.8" y="184.6" width="1.2" height="6.4" fill="#cdcdcd" opacity="0.9"/>
<rect x="576.1" y="183.0" width="1.2" height="8.0" fill="#ee9f4a" opacity="0.9"/>
<rect x="589.4" y="177.9" width="1.2" height="13.1" fill="#f2cd5e" opacity="0.9"/>
<rect x="593.7" y="184.6" width="1.2" height="6.4" fill="#cdcdcd" opacity="0.9"/>
<rect x="594.9" y="183.0" width="1.2" height="8.0" fill="#cdcdcd" opacity="0.9"/>
<rect x="595.9" y="181.0" width="1.2" height="10.0" fill="#cdcdcd" opacity="0.9"/>
<rect x="596.7" y="175.0" width="1.2" height="16.0" fill="#f09090" opacity="0.9"/>
<rect x="599.0" y="183.0" width="1.2" height="8.0" fill="#cdcdcd" opacity="0.9"/>
<rect x="600.4" y="180.0" width="1.2" height="11.0" fill="#f2cd5e" opacity="0.9"/>
<rect x="601.2" y="183.0" width="1.2" height="8.0" fill="#e34747" opacity="0.9"/>
<rect x="601.9" y="181.5" width="1.2" height="9.5" fill="#f2cd5e" opacity="0.9"/>
<rect x="602.8" y="181.0" width="1.2" height="10.0" fill="#cdcdcd" opacity="0.9"/>
<rect x="604.2" y="184.6" width="1.2" height="6.4" fill="#f2cd5e" opacity="0.9"/>
<rect x="603.3" y="180.0" width="1.2" height="11.0" fill="#f09090" opacity="0.9"/>
<rect x="604.9" y="183.0" width="1.2" height="8.0" fill="#f09090" opacity="0.9"/>
<rect x="604.0" y="183.0" width="1.2" height="8.0" fill="#f2cd5e" opacity="0.9"/>
<rect x="605.1" y="180.0" width="1.2" height="11.0" fill="#e34747" opacity="0.9"/>
<rect x="605.1" y="177.0" width="1.2" height="3" fill="#f09090" opacity="0.9"/>
<rect x="605.1" y="183.0" width="1.2" height="8.0" fill="#f2cd5e" opacity="0.9"/>
<rect x="607.3" y="181.5" width="1.2" height="9.5" fill="#ee9f4a" opacity="0.9"/>
<rect x="606.2" y="173.0" width="1.2" height="18.0" fill="#e34747" opacity="0.9"/>
<rect x="608.4" y="183.0" width="1.2" height="8.0" fill="#cdcdcd" opacity="0.9"/>
<rect x="608.5" y="184.6" width="1.2" height="6.4" fill="#ee9f4a" opacity="0.9"/>
<rect x="609.0" y="183.0" width="1.2" height="8.0" fill="#e34747" opacity="0.9"/>
<rect x="609.0" y="180.0" width="1.2" height="3" fill="#f09090" opacity="0.9"/>
<rect x="609.1" y="180.0" width="1.2" height="11.0" fill="#e34747" opacity="0.9"/>
<rect x="610.2" y="177.5" width="1.2" height="13.5" fill="#f09090" opacity="0.9"/>
<rect x="611.0" y="184.6" width="1.2" height="6.4" fill="#cdcdcd" opacity="0.9"/>
<rect x="610.9" y="181.5" width="1.2" height="9.5" fill="#ee9f4a" opacity="0.9"/>
<rect x="612.7" y="184.6" width="1.2" height="6.4" fill="#f2cd5e" opacity="0.9"/>
<rect x="617.0" y="173.0" width="1.2" height="18.0" fill="#e34747" opacity="0.9"/>
<rect x="621.9" y="184.6" width="1.2" height="6.4" fill="#cdcdcd" opacity="0.9"/>
<rect x="620.9" y="183.0" width="1.2" height="8.0" fill="#e34747" opacity="0.9"/>
<rect x="622.4" y="171.2" width="1.2" height="19.8" fill="#e34747" opacity="0.9"/>
<rect x="624.5" y="183.0" width="1.2" height="8.0" fill="#cdcdcd" opacity="0.9"/>
<rect x="625.3" y="177.9" width="1.2" height="13.1" fill="#f2cd5e" opacity="0.9"/>
<rect x="624.8" y="184.6" width="1.2" height="6.4" fill="#ee9f4a" opacity="0.9"/>
<rect x="624.6" y="184.6" width="1.2" height="6.4" fill="#cdcdcd" opacity="0.9"/>
<rect x="625.2" y="184.6" width="1.2" height="6.4" fill="#f2cd5e" opacity="0.9"/>
<rect x="626.2" y="178.0" width="1.2" height="13.0" fill="#cdcdcd" opacity="0.9"/>
<rect x="627.7" y="181.0" width="1.2" height="10.0" fill="#cdcdcd" opacity="0.9"/>
<rect x="630.3" y="184.6" width="1.2" height="6.4" fill="#ee9f4a" opacity="0.9"/>
<rect x="638.7" y="175.0" width="1.2" height="16.0" fill="#e34747" opacity="0.9"/>
<rect x="640.1" y="173.0" width="1.2" height="18.0" fill="#e34747" opacity="0.9"/>
<rect x="641.9" y="181.5" width="1.2" height="9.5" fill="#f2cd5e" opacity="0.9"/>
<rect x="641.3" y="184.6" width="1.2" height="6.4" fill="#cdcdcd" opacity="0.9"/>
<rect x="645.8" y="178.0" width="1.2" height="13.0" fill="#cdcdcd" opacity="0.9"/>
<rect x="645.9" y="171.2" width="1.2" height="19.8" fill="#f09090" opacity="0.9"/>
<rect x="647.3" y="184.6" width="1.2" height="6.4" fill="#ee9f4a" opacity="0.9"/>
<rect x="647.4" y="177.5" width="1.2" height="13.5" fill="#e34747" opacity="0.9"/>
<rect x="651.3" y="181.5" width="1.2" height="9.5" fill="#f2cd5e" opacity="0.9"/>
<rect x="652.2" y="176.0" width="1.2" height="15.0" fill="#ee9f4a" opacity="0.9"/>
<rect x="661.8" y="184.6" width="1.2" height="6.4" fill="#f2cd5e" opacity="0.9"/>
<rect x="663.0" y="183.0" width="1.2" height="8.0" fill="#ee9f4a" opacity="0.9"/>
<rect x="665.1" y="183.0" width="1.2" height="8.0" fill="#f2cd5e" opacity="0.9"/>
<rect x="675.2" y="175.0" width="1.2" height="16.0" fill="#f09090" opacity="0.9"/>
<rect x="674.8" y="183.0" width="1.2" height="8.0" fill="#f09090" opacity="0.9"/>
<rect x="677.3" y="171.2" width="1.2" height="19.8" fill="#e34747" opacity="0.9"/>
<rect x="680.3" y="183.0" width="1.2" height="8.0" fill="#cdcdcd" opacity="0.9"/>
<rect x="681.8" y="184.6" width="1.2" height="6.4" fill="#cdcdcd" opacity="0.9"/>
<rect x="683.3" y="181.5" width="1.2" height="9.5" fill="#f2cd5e" opacity="0.9"/>
<line x1="316" y1="170.0" x2="316" y2="191.0" stroke="#60c0e8" stroke-width="1"/>
<line x1="316" y1="191.0" x2="318" y2="191.0" stroke="#60c0e8" stroke-width="0.6"/>
<line x1="316" y1="188.4" x2="318" y2="188.4" stroke="#60c0e8" stroke-width="0.6"/>
<line x1="316" y1="185.8" x2="318" y2="185.8" stroke="#60c0e8" stroke-width="0.6"/>
<line x1="316" y1="183.2" x2="318" y2="183.2" stroke="#60c0e8" stroke-width="0.6"/>
<line x1="316" y1="180.6" x2="318" y2="180.6" stroke="#60c0e8" stroke-width="0.6"/>
<line x1="316" y1="178.0" x2="318" y2="178.0" stroke="#60c0e8" stroke-width="0.6"/>
<line x1="316" y1="175.4" x2="318" y2="175.4" stroke="#60c0e8" stroke-width="0.6"/>
<line x1="316" y1="172.8" x2="318" y2="172.8" stroke="#60c0e8" stroke-width="0.6"/>
<line x1="316" y1="191.0" x2="685" y2="191.0" stroke="#60c0e8" stroke-width="1"/>
<text x="282.6" y="217.3" font-family='"Liberation Sans", sans-serif' font-weight="bold" font-size="15.6" transform="translate(282.6 0) scale(0.9 1) translate(-282.6 0)">P3</text>
<line x1="316" y1="202.6" x2="685" y2="202.6" stroke="#e2e2e2" stroke-width="0.8"/>
<line x1="316" y1="209.3" x2="685" y2="209.3" stroke="#e2e2e2" stroke-width="0.8"/>
<line x1="316" y1="216.0" x2="685" y2="216.0" stroke="#e2e2e2" stroke-width="0.8"/>
<rect x="319.8" y="212.9" width="1.2" height="9.5" fill="#f2cd5e" opacity="0.9"/>
<rect x="327.9" y="202.6" width="1.2" height="19.8" fill="#f09090" opacity="0.9"/>
<rect x="329.6" y="212.9" width="1.2" height="9.5" fill="#f2cd5e" opacity="0.9"/>
<rect x="331.1" y="211.4" width="1.2" height="11.0" fill="#f2cd5e" opacity="0.9"/>
<rect x="345.7" y="209.3" width="1.2" height="13.1" fill="#f2cd5e" opacity="0.9"/>
<rect x="345.8" y="216.0" width="1.2" height="6.4" fill="#ee9f4a" opacity="0.9"/>
<rect x="345.6" y="206.4" width="1.2" height="16.0" fill="#e34747" opacity="0.9"/>
<rect x="347.4" y="216.0" width="1.2" height="6.4" fill="#cdcdcd" opacity="0.9"/>
<rect x="348.5" y="212.9" width="1.2" height="9.5" fill="#ee9f4a" opacity="0.9"/>
<rect x="351.7" y="211.4" width="1.2" height="11.0" fill="#ee9f4a" opacity="0.9"/>
<rect x="353.6" y="209.4" width="1.2" height="13.0" fill="#cdcdcd" opacity="0.9"/>
<rect x="357.2" y="209.4" width="1.2" height="13.0" fill="#cdcdcd" opacity="0.9"/>
<rect x="361.1" y="214.4" width="1.2" height="8.0" fill="#ee9f4a" opacity="0.9"/>
<rect x="361.8" y="216.0" width="1.2" height="6.4" fill="#ee9f4a" opacity="0.9"/>
<rect x="363.5" y="214.4" width="1.2" height="8.0" fill="#f09090" opacity="0.9"/>
<rect x="374.5" y="212.4" width="1.2" height="10.0" fill="#cdcdcd" opacity="0.9"/>
<rect x="376.6" y="202.6" width="1.2" height="19.8" fill="#e34747" opacity="0.9"/>
<rect x="377.3" y="214.4" width="1.2" height="8.0" fill="#e34747" opacity="0.9"/>
<rect x="377.3" y="211.4" width="1.2" height="3" fill="#f09090" opacity="0.9"/>
<rect x="380.8" y="216.0" width="1.2" height="6.4" fill="#ee9f4a" opacity="0.9"/>
<rect x="382.2" y="214.4" width="1.2" height="8.0" fill="#cdcdcd" opacity="0.9"/>
<rect x="386.5" y="214.4" width="1.2" height="8.0" fill="#f2cd5e" opacity="0.9"/>
<rect x="388.4" y="214.4" width="1.2" height="8.0" fill="#f2cd5e" opacity="0.9"/>
<rect x="391.0" y="211.4" width="1.2" height="11.0" fill="#ee9f4a" opacity="0.9"/>
<rect x="390.5" y="216.0" width="1.2" height="6.4" fill="#f2cd5e" opacity="0.9"/>
<rect x="392.2" y="212.9" width="1.2" height="9.5" fill="#f2cd5e" opacity="0.9"/>
<rect x="399.2" y="204.4" width="1.2" height="18.0" fill="#f09090" opacity="0.9"/>
<rect x="401.9" y="211.4" width="1.2" height="11.0" fill="#f2cd5e" opacity="0.9"/>
<rect x="403.9" y="214.4" width="1.2" height="8.0" fill="#cdcdcd" opacity="0.9"/>
<rect x="405.1" y="216.0" width="1.2" height="6.4" fill="#f2cd5e" opacity="0.9"/>
<rect x="404.3" y="212.4" width="1.2" height="10.0" fill="#cdcdcd" opacity="0.9"/>
<rect x="426.5" y="209.3" width="1.2" height="13.1" fill="#f2cd5e" opacity="0.9"/>
<rect x="427.2" y="209.3" width="1.2" height="13.1" fill="#ee9f4a" opacity="0.9"/>
<rect x="431.5" y="216.0" width="1.2" height="6.4" fill="#cdcdcd" opacity="0.9"/>
<rect x="435.0" y="207.4" width="1.2" height="15.0" fill="#ee9f4a" opacity="0.9"/>
<rect x="442.0" y="202.6" width="1.2" height="19.8" fill="#f09090" opacity="0.9"/>
<rect x="442.8" y="211.4" width="1.2" height="11.0" fill="#e34747" opacity="0.9"/>
<rect x="442.8" y="208.4" width="1.2" height="3" fill="#f09090" opacity="0.9"/>
<rect x="444.0" y="208.9" width="1.2" height="13.5" fill="#e34747" opacity="0.9"/>
<rect x="446.9" y="214.4" width="1.2" height="8.0" fill="#f2cd5e" opacity="0.9"/>
<rect x="451.5" y="208.9" width="1.2" height="13.5" fill="#f09090" opacity="0.9"/>
<rect x="460.1" y="214.4" width="1.2" height="8.0" fill="#cdcdcd" opacity="0.9"/>
<rect x="476.2" y="216.0" width="1.2" height="6.4" fill="#f2cd5e" opacity="0.9"/>
<rect x="477.5" y="211.4" width="1.2" height="11.0" fill="#f2cd5e" opacity="0.9"/>
<rect x="477.2" y="216.0" width="1.2" height="6.4" fill="#cdcdcd" opacity="0.9"/>
<rect x="478.2" y="214.4" width="1.2" height="8.0" fill="#cdcdcd" opacity="0.9"/>
<rect x="480.6" y="202.6" width="1.2" height="19.8" fill="#e34747" opacity="0.9"/>
<rect x="481.2" y="209.3" width="1.2" height="13.1" fill="#ee9f4a" opacity="0.9"/>
<rect x="482.8" y="211.4" width="1.2" height="11.0" fill="#e34747" opacity="0.9"/>
<rect x="485.5" y="206.4" width="1.2" height="16.0" fill="#e34747" opacity="0.9"/>
<rect x="489.8" y="211.4" width="1.2" height="11.0" fill="#ee9f4a" opacity="0.9"/>
<rect x="491.5" y="212.4" width="1.2" height="10.0" fill="#cdcdcd" opacity="0.9"/>
<rect x="491.9" y="216.0" width="1.2" height="6.4" fill="#cdcdcd" opacity="0.9"/>
<rect x="497.6" y="216.0" width="1.2" height="6.4" fill="#f2cd5e" opacity="0.9"/>
<rect x="500.9" y="214.4" width="1.2" height="8.0" fill="#f2cd5e" opacity="0.9"/>
<rect x="500.9" y="202.6" width="1.2" height="19.8" fill="#e34747" opacity="0.9"/>
<rect x="512.6" y="214.4" width="1.2" height="8.0" fill="#cdcdcd" opacity="0.9"/>
<rect x="513.7" y="216.0" width="1.2" height="6.4" fill="#cdcdcd" opacity="0.9"/>
<rect x="512.8" y="211.4" width="1.2" height="11.0" fill="#f09090" opacity="0.9"/>
<rect x="513.8" y="211.4" width="1.2" height="11.0" fill="#ee9f4a" opacity="0.9"/>
<rect x="515.0" y="214.4" width="1.2" height="8.0" fill="#cdcdcd" opacity="0.9"/>
<rect x="516.5" y="216.0" width="1.2" height="6.4" fill="#cdcdcd" opacity="0.9"/>
<rect x="518.3" y="202.6" width="1.2" height="19.8" fill="#e34747" opacity="0.9"/>
<rect x="518.7" y="214.4" width="1.2" height="8.0" fill="#cdcdcd" opacity="0.9"/>
<rect x="520.5" y="216.0" width="1.2" height="6.4" fill="#f2cd5e" opacity="0.9"/>
<rect x="526.7" y="212.9" width="1.2" height="9.5" fill="#f2cd5e" opacity="0.9"/>
<rect x="527.0" y="214.4" width="1.2" height="8.0" fill="#cdcdcd" opacity="0.9"/>
<rect x="528.3" y="216.0" width="1.2" height="6.4" fill="#cdcdcd" opacity="0.9"/>
<rect x="528.3" y="206.4" width="1.2" height="16.0" fill="#e34747" opacity="0.9"/>
<rect x="538.2" y="214.4" width="1.2" height="8.0" fill="#ee9f4a" opacity="0.9"/>
<rect x="539.4" y="211.4" width="1.2" height="11.0" fill="#f09090" opacity="0.9"/>
<rect x="541.2" y="209.4" width="1.2" height="13.0" fill="#cdcdcd" opacity="0.9"/>
<rect x="542.3" y="216.0" width="1.2" height="6.4" fill="#f2cd5e" opacity="0.9"/>
<rect x="544.1" y="212.4" width="1.2" height="10.0" fill="#cdcdcd" opacity="0.9"/>
<rect x="544.8" y="214.4" width="1.2" height="8.0" fill="#cdcdcd" opacity="0.9"/>
<rect x="552.8" y="216.0" width="1.2" height="6.4" fill="#cdcdcd" opacity="0.9"/>
<rect x="553.9" y="207.4" width="1.2" height="15.0" fill="#ee9f4a" opacity="0.9"/>
<rect x="562.7" y="216.0" width="1.2" height="6.4" fill="#ee9f4a" opacity="0.9"/>
<rect x="565.0" y="212.9" width="1.2" height="9.5" fill="#f2cd5e" opacity="0.9"/>
<rect x="565.4" y="207.4" width="1.2" height="15.0" fill="#f2cd5e" opacity="0.9"/>
<rect x="564.6" y="214.4" width="1.2" height="8.0" fill="#cdcdcd" opacity="0.9"/>
<rect x="565.0" y="209.3" width="1.2" height="13.1" fill="#ee9f4a" opacity="0.9"/>
<rect x="566.3" y="212.9" width="1.2" height="9.5" fill="#ee9f4a" opacity="0.9"/>
<rect x="566.2" y="207.4" width="1.2" height="15.0" fill="#ee9f4a" opacity="0.9"/>
<rect x="567.8" y="214.4" width="1.2" height="8.0" fill="#e34747" opacity="0.9"/>
<rect x="571.3" y="212.9" width="1.2" height="9.5" fill="#ee9f4a" opacity="0.9"/>
<rect x="572.6" y="211.4" width="1.2" height="11.0" fill="#ee9f4a" opacity="0.9"/>
<rect x="573.6" y="216.0" width="1.2" height="6.4" fill="#cdcdcd" opacity="0.9"/>
<rect x="575.4" y="212.9" width="1.2" height="9.5" fill="#ee9f4a" opacity="0.9"/>
<rect x="576.2" y="209.3" width="1.2" height="13.1" fill="#f2cd5e" opacity="0.9"/>
<rect x="577.6" y="214.4" width="1.2" height="8.0" fill="#cdcdcd" opacity="0.9"/>
<rect x="585.8" y="206.4" width="1.2" height="16.0" fill="#e34747" opacity="0.9"/>
<rect x="587.1" y="216.0" width="1.2" height="6.4" fill="#f2cd5e" opacity="0.9"/>
<rect x="589.1" y="214.4" width="1.2" height="8.0" fill="#e34747" opacity="0.9"/>
<rect x="589.1" y="211.4" width="1.2" height="3" fill="#f09090" opacity="0.9"/>
<rect x="596.0" y="206.4" width="1.2" height="16.0" fill="#e34747" opacity="0.9"/>
<rect x="596.4" y="206.4" width="1.2" height="16.0" fill="#e34747" opacity="0.9"/>
<rect x="599.2" y="216.0" width="1.2" height="6.4" fill="#cdcdcd" opacity="0.9"/>
<rect x="600.7" y="214.4" width="1.2" height="8.0" fill="#f2cd5e" opacity="0.9"/>
<rect x="602.0" y="216.0" width="1.2" height="6.4" fill="#f2cd5e" opacity="0.9"/>
<rect x="603.4" y="216.0" width="1.2" height="6.4" fill="#cdcdcd" opacity="0.9"/>
<rect x="603.5" y="202.6" width="1.2" height="19.8" fill="#f09090" opacity="0.9"/>
<rect x="603.5" y="212.9" width="1.2" height="9.5" fill="#ee9f4a" opacity="0.9"/>
<rect x="603.6" y="216.0" width="1.2" height="6.4" fill="#f2cd5e" opacity="0.9"/>
<rect x="605.4" y="214.4" width="1.2" height="8.0" fill="#f2cd5e" opacity="0.9"/>
<rect x="606.0" y="212.9" width="1.2" height="9.5" fill="#f2cd5e" opacity="0.9"/>
<rect x="605.5" y="212.9" width="1.2" height="9.5" fill="#ee9f4a" opacity="0.9"/>
<rect x="607.0" y="211.4" width="1.2" height="11.0" fill="#f09090" opacity="0.9"/>
<rect x="608.3" y="212.9" width="1.2" height="9.5" fill="#f2cd5e" opacity="0.9"/>
<rect x="609.9" y="211.4" width="1.2" height="11.0" fill="#ee9f4a" opacity="0.9"/>
<rect x="609.2" y="208.9" width="1.2" height="13.5" fill="#f09090" opacity="0.9"/>
<rect x="609.4" y="206.4" width="1.2" height="16.0" fill="#e34747" opacity="0.9"/>
<rect x="610.2" y="214.4" width="1.2" height="8.0" fill="#ee9f4a" opacity="0.9"/>
<rect x="611.9" y="216.0" width="1.2" height="6.4" fill="#cdcdcd" opacity="0.9"/>
<rect x="616.3" y="212.9" width="1.2" height="9.5" fill="#f2cd5e" opacity="0.9"/>
<rect x="621.6" y="211.4" width="1.2" height="11.0" fill="#ee9f4a" opacity="0.9"/>
<rect x="623.2" y="214.4" width="1.2" height="8.0" fill="#f2cd5e" opacity="0.9"/>
<rect x="624.9" y="211.4" width="1.2" height="11.0" fill="#f09090" opacity="0.9"/>
<rect x="625.1" y="208.9" width="1.2" height="13.5" fill="#e34747" opacity="0.9"/>
<rect x="626.7" y="211.4" width="1.2" height="11.0" fill="#f2cd5e" opacity="0.9"/>
<rect x="630.0" y="211.4" width="1.2" height="11.0" fill="#f09090" opacity="0.9"/>
<rect x="631.4" y="214.4" width="1.2" height="8.0" fill="#cdcdcd" opacity="0.9"/>
<rect x="641.9" y="214.4" width="1.2" height="8.0" fill="#cdcdcd" opacity="0.9"/>
<rect x="642.6" y="214.4" width="1.2" height="8.0" fill="#cdcdcd" opacity="0.9"/>
<rect x="646.2" y="202.6" width="1.2" height="19.8" fill="#e34747" opacity="0.9"/>
<rect x="645.6" y="214.4" width="1.2" height="8.0" fill="#cdcdcd" opacity="0.9"/>
<rect x="647.9" y="212.9" width="1.2" height="9.5" fill="#f2cd5e" opacity="0.9"/>
<rect x="648.9" y="216.0" width="1.2" height="6.4" fill="#ee9f4a" opacity="0.9"/>
<rect x="649.7" y="211.4" width="1.2" height="11.0" fill="#e34747" opacity="0.9"/>
<rect x="651.8" y="212.4" width="1.2" height="10.0" fill="#cdcdcd" opacity="0.9"/>
<rect x="652.6" y="202.6" width="1.2" height="19.8" fill="#f09090" opacity="0.9"/>
<rect x="662.6" y="216.0" width="1.2" height="6.4" fill="#cdcdcd" opacity="0.9"/>
<rect x="662.8" y="214.4" width="1.2" height="8.0" fill="#cdcdcd" opacity="0.9"/>
<rect x="675.6" y="211.4" width="1.2" height="11.0" fill="#e34747" opacity="0.9"/>
<rect x="676.0" y="216.0" width="1.2" height="6.4" fill="#f2cd5e" opacity="0.9"/>
<rect x="681.4" y="212.4" width="1.2" height="10.0" fill="#cdcdcd" opacity="0.9"/>
<rect x="683.7" y="214.4" width="1.2" height="8.0" fill="#f2cd5e" opacity="0.9"/>
<rect x="683.3" y="212.9" width="1.2" height="9.5" fill="#ee9f4a" opacity="0.9"/>
<line x1="316" y1="201.4" x2="316" y2="222.4" stroke="#e8c060" stroke-width="1"/>
<line x1="316" y1="222.4" x2="318" y2="222.4" stroke="#e8c060" stroke-width="0.6"/>
<line x1="316" y1="219.8" x2="318" y2="219.8" stroke="#e8c060" stroke-width="0.6"/>
<line x1="316" y1="217.2" x2="318" y2="217.2" stroke="#e8c060" stroke-width="0.6"/>
<line x1="316" y1="214.6" x2="318" y2="214.6" stroke="#e8c060" stroke-width="0.6"/>
<line x1="316" y1="212.0" x2="318" y2="212.0" stroke="#e8c060" stroke-width="0.6"/>
<line x1="316" y1="209.4" x2="318" y2="209.4" stroke="#e8c060" stroke-width="0.6"/>
<line x1="316" y1="206.8" x2="318" y2="206.8" stroke="#e8c060" stroke-width="0.6"/>
<line x1="316" y1="204.2" x2="318" y2="204.2" stroke="#e8c060" stroke-width="0.6"/>
<line x1="451" y1="222.4" x2="685" y2="222.4" stroke="#d8b860" stroke-width="1"/>
<text x="-0.6" y="264.6" font-family='"Liberation Serif", serif' font-weight="bold" font-size="28">c</text>
<path d="M128.2,385.0 L234.51,452.75 A127.2,123.4 0 0 1 145.02,507.32 Z" fill="#000000" stroke="#222" stroke-width="0.45" stroke-linejoin="round"/>
<path d="M128.2,385.0 L145.02,507.32 A127.2,123.4 0 0 1 60.79,489.65 Z" fill="#e41f1a" stroke="#222" stroke-width="0.45" stroke-linejoin="round"/>
<path d="M128.2,385.0 L60.79,489.65 A127.2,123.4 0 0 1 13.78,438.90 Z" fill="#6ab72e" stroke="#222" stroke-width="0.45" stroke-linejoin="round"/>
<path d="M128.2,385.0 L13.78,438.90 A127.2,123.4 0 0 1 1.15,391.03 Z" fill="#1a479c" stroke="#222" stroke-width="0.45" stroke-linejoin="round"/>
<path d="M128.2,385.0 L1.15,391.03 A127.2,123.4 0 0 1 7.50,346.05 Z" fill="#6fc6d3" stroke="#222" stroke-width="0.45" stroke-linejoin="round"/>
<path d="M128.2,385.0 L7.50,346.05 A127.2,123.4 0 0 1 25.03,312.82 Z" fill="#a9559e" stroke="#222" stroke-width="0.45" stroke-linejoin="round"/>
<path d="M128.2,385.0 L25.03,312.82 A127.2,123.4 0 0 1 49.19,288.29 Z" fill="#f0e53a" stroke="#222" stroke-width="0.45" stroke-linejoin="round"/>
<path d="M128.2,385.0 L49.19,288.29 A127.2,123.4 0 0 1 79.73,270.91 Z" fill="#7d7a2e" stroke="#222" stroke-width="0.45" stroke-linejoin="round"/>
<path d="M128.2,385.0 L79.73,270.91 A127.2,123.4 0 0 1 112.70,262.52 Z" fill="#1e2b5c" stroke="#222" stroke-width="0.45" stroke-linejoin="round"/>
<path d="M128.2,385.0 L112.70,262.52 A127.2,123.4 0 0 1 145.24,262.71 Z" fill="#751c79" stroke="#222" stroke-width="0.45" stroke-linejoin="round"/>
<path d="M128.2,385.0 L145.24,262.71 A127.2,123.4 0 0 1 175.23,270.35 Z" fill="#7b171c" stroke="#222" stroke-width="0.45" stroke-linejoin="round"/>
<path d="M128.2,385.0 L175.23,270.35 A127.2,123.4 0 0 1 201.70,284.29 Z" fill="#1d7b3b" stroke="#222" stroke-width="0.45" stroke-linejoin="round"/>
<path d="M128.2,385.0 L201.70,284.29 A127.2,123.4 0 0 1 222.73,302.43 Z" fill="#0f7b7b" stroke="#222" stroke-width="0.45" stroke-linejoin="round"/>
<path d="M128.2,385.0 L222.73,302.43 A127.2,123.4 0 0 1 238.91,324.23 Z" fill="#1e2b5c" stroke="#222" stroke-width="0.45" stroke-linejoin="round"/>
<path d="M128.2,385.0 L238.91,324.23 A127.2,123.4 0 0 1 249.78,348.72 Z" fill="#dc5a3a" stroke="#222" stroke-width="0.45" stroke-linejoin="round"/>
<path d="M128.2,385.0 L249.78,348.72 A127.2,123.4 0 0 1 254.81,373.17 Z" fill="#741c7a" stroke="#222" stroke-width="0.45" stroke-linejoin="round"/>
<path d="M128.2,385.0 L254.81,373.17 A127.2,123.4 0 0 1 254.97,395.11 Z" fill="#e12a35" stroke="#222" stroke-width="0.45" stroke-linejoin="round"/>
<path d="M128.2,385.0 L254.97,395.11 A127.2,123.4 0 0 1 251.12,416.73 Z" fill="#ffffff" stroke="#222" stroke-width="0.45" stroke-linejoin="round"/>
<path d="M128.2,385.0 L251.12,416.73 A127.2,123.4 0 0 1 244.04,435.98 Z" fill="#c0c0c0" stroke="#222" stroke-width="0.45" stroke-linejoin="round"/>
<path d="M128.2,385.0 L244.04,435.98 A127.2,123.4 0 0 1 234.51,452.75 Z" fill="#808080" stroke="#222" stroke-width="0.45" stroke-linejoin="round"/>
<defs><clipPath id="legclip"><rect x="260" y="260" width="188" height="240"/></clipPath></defs>
<g clip-path="url(#legclip)">
<rect x="266.3" y="272.5" width="20.4" height="7.6" fill="#000000" stroke="#555" stroke-width="0.8"/>
<text x="289.9" y="280.0" font-family='"Liberation Sans", sans-serif' font-weight="bold" font-size="8.2" letter-spacing="0.5">positive regulation of transcription</text>
<rect x="266.3" y="283.7" width="20.4" height="7.6" fill="#e41f1a" stroke="#555" stroke-width="0.8"/>
<text x="289.9" y="291.2" font-family='"Liberation Sans", sans-serif' font-weight="bold" font-size="8.2" letter-spacing="0.5">transcription regulation</text>
<rect x="266.3" y="295.0" width="20.4" height="7.6" fill="#6ab72e" stroke="#555" stroke-width="0.8"/>
<text x="289.9" y="302.5" font-family='"Liberation Sans", sans-serif' font-weight="bold" font-size="8.2" letter-spacing="0.5">transcription</text>
<rect x="266.3" y="306.2" width="20.4" height="7.6" fill="#1a479c" stroke="#555" stroke-width="0.8"/>
<text x="289.9" y="313.7" font-family='"Liberation Sans", sans-serif' font-weight="bold" font-size="8.2" letter-spacing="0.5">Homeobox</text>
<rect x="266.3" y="317.4" width="20.4" height="7.6" fill="#6fc6d3" stroke="#555" stroke-width="0.8"/>
<text x="289.9" y="324.9" font-family='"Liberation Sans", sans-serif' font-weight="bold" font-size="8.2" letter-spacing="0.5">regulation of cell motion</text>
<rect x="266.3" y="328.7" width="20.4" height="7.6" fill="#a9559e" stroke="#555" stroke-width="0.8"/>
<text x="289.9" y="336.2" font-family='"Liberation Sans", sans-serif' font-weight="bold" font-size="8.2" letter-spacing="0.5">positive regulation of cell motion</text>
<rect x="266.3" y="339.9" width="20.4" height="7.6" fill="#f0e53a" stroke="#555" stroke-width="0.8"/>
<text x="289.9" y="347.4" font-family='"Liberation Sans", sans-serif' font-weight="bold" font-size="8.2" letter-spacing="0.5">mesenchymal cell development</text>
<rect x="266.3" y="351.1" width="20.4" height="7.6" fill="#7d7a2e" stroke="#555" stroke-width="0.8"/>
<text x="289.9" y="358.6" font-family='"Liberation Sans", sans-serif' font-weight="bold" font-size="8.2" letter-spacing="0.5">regulation of apoptosis</text>
<rect x="266.3" y="362.3" width="20.4" height="7.6" fill="#1e2b5c" stroke="#555" stroke-width="0.8"/>
<text x="289.9" y="369.8" font-family='"Liberation Sans", sans-serif' font-weight="bold" font-size="8.2" letter-spacing="0.5">response to hormone stimulus</text>
<rect x="266.3" y="373.6" width="20.4" height="7.6" fill="#751c79" stroke="#555" stroke-width="0.8"/>
<text x="289.9" y="381.1" font-family='"Liberation Sans", sans-serif' font-weight="bold" font-size="8.2" letter-spacing="0.5">respiratory system development</text>
<rect x="266.3" y="384.8" width="20.4" height="7.6" fill="#7b171c" stroke="#555" stroke-width="0.8"/>
<text x="289.9" y="392.3" font-family='"Liberation Sans", sans-serif' font-weight="bold" font-size="8.2" letter-spacing="0.5">negative regulation of apoptosis</text>
<rect x="266.3" y="399.8" width="20.4" height="7.6" fill="#1d7b3b" stroke="#555" stroke-width="0.8"/>
<text x="289.9" y="407.3" font-family='"Liberation Sans", sans-serif' font-weight="bold" font-size="8.2" letter-spacing="0.5">cell motion</text>
<rect x="266.3" y="411.0" width="20.4" height="7.6" fill="#0f7b7b" stroke="#555" stroke-width="0.8"/>
<text x="289.9" y="418.5" font-family='"Liberation Sans", sans-serif' font-weight="bold" font-size="8.2" letter-spacing="0.5">limb morphogenesis</text>
<rect x="266.3" y="422.3" width="20.4" height="7.6" fill="#1e2b5c" stroke="#555" stroke-width="0.8"/>
<text x="289.9" y="429.8" font-family='"Liberation Sans", sans-serif' font-weight="bold" font-size="8.2" letter-spacing="0.5">apoptosis</text>
<rect x="266.3" y="433.5" width="20.4" height="7.6" fill="#dc5a3a" stroke="#555" stroke-width="0.8"/>
<text x="289.9" y="441.0" font-family='"Liberation Sans", sans-serif' font-weight="bold" font-size="8.2" letter-spacing="0.5">regulation of organ growth</text>
<rect x="266.3" y="444.7" width="20.4" height="7.6" fill="#741c7a" stroke="#555" stroke-width="0.8"/>
<text x="289.9" y="452.2" font-family='"Liberation Sans", sans-serif' font-weight="bold" font-size="8.2" letter-spacing="0.5">gated channel activity</text>
<rect x="266.3" y="456.0" width="20.4" height="7.6" fill="#e12a35" stroke="#555" stroke-width="0.8"/>
<text x="289.9" y="463.5" font-family='"Liberation Sans", sans-serif' font-weight="bold" font-size="8.2" letter-spacing="0.5">antigen processing and presentation</text>
<rect x="266.3" y="467.2" width="20.4" height="7.6" fill="#ffffff" stroke="#555" stroke-width="0.8"/>
<text x="289.9" y="474.7" font-family='"Liberation Sans", sans-serif' font-weight="bold" font-size="8.2" letter-spacing="0.5">segment specification</text>
<rect x="266.3" y="478.4" width="20.4" height="7.6" fill="#c0c0c0" stroke="#555" stroke-width="0.8"/>
<text x="289.9" y="485.9" font-family='"Liberation Sans", sans-serif' font-weight="bold" font-size="8.2" letter-spacing="0.5">voltage-gated channel activity</text>
<rect x="266.3" y="489.6" width="20.4" height="7.6" fill="#808080" stroke="#555" stroke-width="0.8"/>
<text x="289.9" y="497.1" font-family='"Liberation Sans", sans-serif' font-weight="bold" font-size="8.2" letter-spacing="0.5">segmentation</text>
</g>
<text x="490.2" y="263.9" font-family='"Liberation Serif", serif' font-weight="bold" font-size="26.5">d</text>
<rect x="530.80" y="271.40" width="38.32" height="6.31" fill="#e5281c"/>
<rect x="569.07" y="271.40" width="38.32" height="6.31" fill="#e5281c"/>
<rect x="607.34" y="271.40" width="38.32" height="6.31" fill="#e5281c"/>
<rect x="530.80" y="277.66" width="38.32" height="6.31" fill="#a8cc2c"/>
<rect x="569.07" y="277.66" width="38.32" height="6.31" fill="#a8cc2c"/>
<rect x="607.34" y="277.66" width="38.32" height="6.31" fill="#a8cc2c"/>
<rect x="530.80" y="283.93" width="38.32" height="6.31" fill="#1c46a0"/>
<rect x="569.07" y="283.93" width="38.32" height="6.31" fill="#1c46a0"/>
<rect x="607.34" y="283.93" width="38.32" height="6.31" fill="#1c46a0"/>
<rect x="530.80" y="290.19" width="38.32" height="6.31" fill="#1c46a0"/>
<rect x="569.07" y="290.19" width="38.32" height="6.31" fill="#1c46a0"/>
<rect x="607.34" y="290.19" width="38.32" height="6.31" fill="#1c46a0"/>
<rect x="530.80" y="296.45" width="38.32" height="6.31" fill="#1c46a0"/>
<rect x="569.07" y="296.45" width="38.32" height="6.31" fill="#1c46a0"/>
<rect x="607.34" y="296.45" width="38.32" height="6.31" fill="#1c46a0"/>
<rect x="530.80" y="302.71" width="38.32" height="6.31" fill="#a8cc2c"/>
<rect x="569.07" y="302.71" width="38.32" height="6.31" fill="#a8cc2c"/>
<rect x="607.34" y="302.71" width="38.32" height="6.31" fill="#1c46a0"/>
<rect x="530.80" y="308.98" width="38.32" height="6.31" fill="#1c46a0"/>
<rect x="569.07" y="308.98" width="38.32" height="6.31" fill="#1c46a0"/>
<rect x="607.34" y="308.98" width="38.32" height="6.31" fill="#1c46a0"/>
<rect x="530.80" y="315.24" width="38.32" height="6.31" fill="#1c46a0"/>
<rect x="569.07" y="315.24" width="38.32" height="6.31" fill="#1c46a0"/>
<rect x="607.34" y="315.24" width="38.32" height="6.31" fill="#a8cc2c"/>
<rect x="530.80" y="321.50" width="38.32" height="6.31" fill="#1c46a0"/>
<rect x="569.07" y="321.50" width="38.32" height="6.31" fill="#1c46a0"/>
<rect x="607.34" y="321.50" width="38.32" height="6.31" fill="#1c46a0"/>
<rect x="530.80" y="327.77" width="38.32" height="6.31" fill="#1c46a0"/>
<rect x="569.07" y="327.77" width="38.32" height="6.31" fill="#1c46a0"/>
<rect x="607.34" y="327.77" width="38.32" height="6.31" fill="#1c46a0"/>
<rect x="530.80" y="334.03" width="38.32" height="6.31" fill="#1c46a0"/>
<rect x="569.07" y="334.03" width="38.32" height="6.31" fill="#88c024"/>
<rect x="607.34" y="334.03" width="38.32" height="6.31" fill="#1c46a0"/>
<rect x="530.80" y="340.29" width="38.32" height="6.31" fill="#1c46a0"/>
<rect x="569.07" y="340.29" width="38.32" height="6.31" fill="#1c46a0"/>
<rect x="607.34" y="340.29" width="38.32" height="6.31" fill="#a8cc2c"/>
<rect x="530.80" y="346.56" width="38.32" height="6.31" fill="#1c46a0"/>
<rect x="569.07" y="346.56" width="38.32" height="6.31" fill="#1c46a0"/>
<rect x="607.34" y="346.56" width="38.32" height="6.31" fill="#a8cc2c"/>
<rect x="530.80" y="352.82" width="38.32" height="6.31" fill="#a8cc2c"/>
<rect x="569.07" y="352.82" width="38.32" height="6.31" fill="#a8cc2c"/>
<rect x="607.34" y="352.82" width="38.32" height="6.31" fill="#a8cc2c"/>
<rect x="530.80" y="359.08" width="38.32" height="6.31" fill="#a8cc2c"/>
<rect x="569.07" y="359.08" width="38.32" height="6.31" fill="#a8cc2c"/>
<rect x="607.34" y="359.08" width="38.32" height="6.31" fill="#88c024"/>
<rect x="530.80" y="365.34" width="38.32" height="6.31" fill="#88c024"/>
<rect x="569.07" y="365.34" width="38.32" height="6.31" fill="#88c024"/>
<rect x="607.34" y="365.34" width="38.32" height="6.31" fill="#e5281c"/>
<rect x="530.80" y="371.61" width="38.32" height="6.31" fill="#1c46a0"/>
<rect x="569.07" y="371.61" width="38.32" height="6.31" fill="#1c46a0"/>
<rect x="607.34" y="371.61" width="38.32" height="6.31" fill="#1c46a0"/>
<rect x="530.80" y="377.87" width="38.32" height="6.31" fill="#1c46a0"/>
<rect x="569.07" y="377.87" width="38.32" height="6.31" fill="#1c46a0"/>
<rect x="607.34" y="377.87" width="38.32" height="6.31" fill="#1c46a0"/>
<rect x="530.80" y="384.13" width="38.32" height="6.31" fill="#1c46a0"/>
<rect x="569.07" y="384.13" width="38.32" height="6.31" fill="#1c46a0"/>
<rect x="607.34" y="384.13" width="38.32" height="6.31" fill="#1c46a0"/>
<rect x="530.80" y="390.40" width="38.32" height="6.31" fill="#1c46a0"/>
<rect x="569.07" y="390.40" width="38.32" height="6.31" fill="#1c46a0"/>
<rect x="607.34" y="390.40" width="38.32" height="6.31" fill="#1c46a0"/>
<rect x="530.80" y="396.66" width="38.32" height="6.31" fill="#1c46a0"/>
<rect x="569.07" y="396.66" width="38.32" height="6.31" fill="#1c46a0"/>
<rect x="607.34" y="396.66" width="38.32" height="6.31" fill="#1c46a0"/>
<rect x="530.80" y="402.92" width="38.32" height="6.31" fill="#1c46a0"/>
<rect x="569.07" y="402.92" width="38.32" height="6.31" fill="#1c46a0"/>
<rect x="607.34" y="402.92" width="38.32" height="6.31" fill="#1c46a0"/>
<rect x="530.80" y="409.19" width="38.32" height="6.31" fill="#1c46a0"/>
<rect x="569.07" y="409.19" width="38.32" height="6.31" fill="#1c46a0"/>
<rect x="607.34" y="409.19" width="38.32" height="6.31" fill="#1c46a0"/>
<rect x="530.80" y="415.45" width="38.32" height="6.31" fill="#1c46a0"/>
<rect x="569.07" y="415.45" width="38.32" height="6.31" fill="#1c46a0"/>
<rect x="607.34" y="415.45" width="38.32" height="6.31" fill="#a8cc2c"/>
<rect x="530.80" y="421.71" width="38.32" height="6.31" fill="#1c46a0"/>
<rect x="569.07" y="421.71" width="38.32" height="6.31" fill="#1c46a0"/>
<rect x="607.34" y="421.71" width="38.32" height="6.31" fill="#1c46a0"/>
<rect x="530.80" y="427.97" width="38.32" height="6.31" fill="#1c46a0"/>
<rect x="569.07" y="427.97" width="38.32" height="6.31" fill="#1c46a0"/>
<rect x="607.34" y="427.97" width="38.32" height="6.31" fill="#1c46a0"/>
<rect x="530.80" y="434.24" width="38.32" height="6.31" fill="#e5281c"/>
<rect x="569.07" y="434.24" width="38.32" height="6.31" fill="#88c024"/>
<rect x="607.34" y="434.24" width="38.32" height="6.31" fill="#88c024"/>
<rect x="530.80" y="440.50" width="38.32" height="6.31" fill="#1c46a0"/>
<rect x="569.07" y="440.50" width="38.32" height="6.31" fill="#a8cc2c"/>
<rect x="607.34" y="440.50" width="38.32" height="6.31" fill="#1c46a0"/>
<rect x="530.80" y="446.76" width="38.32" height="6.31" fill="#a8cc2c"/>
<rect x="569.07" y="446.76" width="38.32" height="6.31" fill="#a8cc2c"/>
<rect x="607.34" y="446.76" width="38.32" height="6.31" fill="#a8cc2c"/>
<rect x="530.80" y="453.03" width="38.32" height="6.31" fill="#e5281c"/>
<rect x="569.07" y="453.03" width="38.32" height="6.31" fill="#e5281c"/>
<rect x="607.34" y="453.03" width="38.32" height="6.31" fill="#e5281c"/>
<rect x="530.80" y="459.29" width="38.32" height="6.31" fill="#1c46a0"/>
<rect x="569.07" y="459.29" width="38.32" height="6.31" fill="#1c46a0"/>
<rect x="607.34" y="459.29" width="38.32" height="6.31" fill="#1c46a0"/>
<rect x="530.80" y="465.55" width="38.32" height="6.31" fill="#1c46a0"/>
<rect x="569.07" y="465.55" width="38.32" height="6.31" fill="#1c46a0"/>
<rect x="607.34" y="465.55" width="38.32" height="6.31" fill="#1c46a0"/>
<rect x="530.80" y="471.82" width="38.32" height="6.31" fill="#a8cc2c"/>
<rect x="569.07" y="471.82" width="38.32" height="6.31" fill="#a8cc2c"/>
<rect x="607.34" y="471.82" width="38.32" height="6.31" fill="#a8cc2c"/>
<rect x="530.80" y="478.08" width="38.32" height="6.31" fill="#1c46a0"/>
<rect x="569.07" y="478.08" width="38.32" height="6.31" fill="#1c46a0"/>
<rect x="607.34" y="478.08" width="38.32" height="6.31" fill="#a8cc2c"/>
<rect x="530.80" y="484.34" width="38.32" height="6.31" fill="#1c46a0"/>
<rect x="569.07" y="484.34" width="38.32" height="6.31" fill="#1c46a0"/>
<rect x="607.34" y="484.34" width="38.32" height="6.31" fill="#1c46a0"/>
<rect x="530.80" y="490.60" width="38.32" height="6.31" fill="#1c46a0"/>
<rect x="569.07" y="490.60" width="38.32" height="6.31" fill="#1c46a0"/>
<rect x="607.34" y="490.60" width="38.32" height="6.31" fill="#1c46a0"/>
<rect x="530.80" y="496.87" width="38.32" height="6.31" fill="#1c46a0"/>
<rect x="569.07" y="496.87" width="38.32" height="6.31" fill="#88c024"/>
<rect x="607.34" y="496.87" width="38.32" height="6.31" fill="#1c46a0"/>
<rect x="530.80" y="503.13" width="38.32" height="6.31" fill="#e5281c"/>
<rect x="569.07" y="503.13" width="38.32" height="6.31" fill="#e5281c"/>
<rect x="607.34" y="503.13" width="38.32" height="6.31" fill="#88c024"/>
<rect x="530.80" y="509.39" width="38.32" height="6.31" fill="#1c46a0"/>
<rect x="569.07" y="509.39" width="38.32" height="6.31" fill="#a8cc2c"/>
<rect x="607.34" y="509.39" width="38.32" height="6.31" fill="#d4e03e"/>
<rect x="530.80" y="515.66" width="38.32" height="6.31" fill="#88c024"/>
<rect x="569.07" y="515.66" width="38.32" height="6.31" fill="#e5281c"/>
<rect x="607.34" y="515.66" width="38.32" height="6.31" fill="#88c024"/>
<rect x="530.80" y="521.92" width="38.32" height="6.31" fill="#e5281c"/>
<rect x="569.07" y="521.92" width="38.32" height="6.31" fill="#88c024"/>
<rect x="607.34" y="521.92" width="38.32" height="6.31" fill="#88c024"/>
<rect x="530.80" y="528.18" width="38.32" height="6.31" fill="#e5281c"/>
<rect x="569.07" y="528.18" width="38.32" height="6.31" fill="#88c024"/>
<rect x="607.34" y="528.18" width="38.32" height="6.31" fill="#88c024"/>
<rect x="530.80" y="534.45" width="38.32" height="6.31" fill="#1c46a0"/>
<rect x="569.07" y="534.45" width="38.32" height="6.31" fill="#1c46a0"/>
<rect x="607.34" y="534.45" width="38.32" height="6.31" fill="#1c46a0"/>
<rect x="530.80" y="540.71" width="38.32" height="6.31" fill="#1c46a0"/>
<rect x="569.07" y="540.71" width="38.32" height="6.31" fill="#1c46a0"/>
<rect x="607.34" y="540.71" width="38.32" height="6.31" fill="#1c46a0"/>
<rect x="530.80" y="546.97" width="38.32" height="6.31" fill="#000000"/>
<rect x="569.07" y="546.97" width="38.32" height="6.31" fill="#000000"/>
<rect x="607.34" y="546.97" width="38.32" height="6.31" fill="#000000"/>
<rect x="530.80" y="553.23" width="38.32" height="6.31" fill="#1c46a0"/>
<rect x="569.07" y="553.23" width="38.32" height="6.31" fill="#1c46a0"/>
<rect x="607.34" y="553.23" width="38.32" height="6.31" fill="#1c46a0"/>
<rect x="530.80" y="559.50" width="38.32" height="6.31" fill="#1c46a0"/>
<rect x="569.07" y="559.50" width="38.32" height="6.31" fill="#1c46a0"/>
<rect x="607.34" y="559.50" width="38.32" height="6.31" fill="#1c46a0"/>
<rect x="530.80" y="565.76" width="38.32" height="6.31" fill="#88c024"/>
<rect x="569.07" y="565.76" width="38.32" height="6.31" fill="#88c024"/>
<rect x="607.34" y="565.76" width="38.32" height="6.31" fill="#88c024"/>
<rect x="530.80" y="572.02" width="38.32" height="6.31" fill="#1c46a0"/>
<rect x="569.07" y="572.02" width="38.32" height="6.31" fill="#a8cc2c"/>
<rect x="607.34" y="572.02" width="38.32" height="6.31" fill="#a8cc2c"/>
<rect x="530.80" y="578.29" width="38.32" height="6.31" fill="#1c46a0"/>
<rect x="569.07" y="578.29" width="38.32" height="6.31" fill="#a8cc2c"/>
<rect x="607.34" y="578.29" width="38.32" height="6.31" fill="#a8cc2c"/>
<rect x="530.80" y="584.55" width="38.32" height="6.31" fill="#e5281c"/>
<rect x="569.07" y="584.55" width="38.32" height="6.31" fill="#e5281c"/>
<rect x="607.34" y="584.55" width="38.32" height="6.31" fill="#88c024"/>
<rect x="530.80" y="590.81" width="38.32" height="6.31" fill="#1c46a0"/>
<rect x="569.07" y="590.81" width="38.32" height="6.31" fill="#1c46a0"/>
<rect x="607.34" y="590.81" width="38.32" height="6.31" fill="#a8cc2c"/>
<rect x="530.80" y="597.08" width="38.32" height="6.31" fill="#88c024"/>
<rect x="569.07" y="597.08" width="38.32" height="6.31" fill="#88c024"/>
<rect x="607.34" y="597.08" width="38.32" height="6.31" fill="#88c024"/>
<rect x="530.80" y="603.34" width="38.32" height="6.31" fill="#e5281c"/>
<rect x="569.07" y="603.34" width="38.32" height="6.31" fill="#e5281c"/>
<rect x="607.34" y="603.34" width="38.32" height="6.31" fill="#e5281c"/>
<rect x="530.80" y="609.60" width="38.32" height="6.31" fill="#88c024"/>
<rect x="569.07" y="609.60" width="38.32" height="6.31" fill="#88c024"/>
<rect x="607.34" y="609.60" width="38.32" height="6.31" fill="#88c024"/>
<rect x="530.80" y="615.87" width="38.32" height="6.31" fill="#e5281c"/>
<rect x="569.07" y="615.87" width="38.32" height="6.31" fill="#88c024"/>
<rect x="607.34" y="615.87" width="38.32" height="6.31" fill="#e5281c"/>
<rect x="530.80" y="622.13" width="38.32" height="6.31" fill="#88c024"/>
<rect x="569.07" y="622.13" width="38.32" height="6.31" fill="#a8cc2c"/>
<rect x="607.34" y="622.13" width="38.32" height="6.31" fill="#1c46a0"/>
<rect x="530.80" y="628.39" width="38.32" height="6.31" fill="#1c46a0"/>
<rect x="569.07" y="628.39" width="38.32" height="6.31" fill="#1c46a0"/>
<rect x="607.34" y="628.39" width="38.32" height="6.31" fill="#1c46a0"/>
<rect x="530.80" y="634.65" width="38.32" height="6.31" fill="#e5281c"/>
<rect x="569.07" y="634.65" width="38.32" height="6.31" fill="#e5281c"/>
<rect x="607.34" y="634.65" width="38.32" height="6.31" fill="#88c024"/>
<rect x="530.80" y="640.92" width="38.32" height="6.31" fill="#a8cc2c"/>
<rect x="569.07" y="640.92" width="38.32" height="6.31" fill="#a8cc2c"/>
<rect x="607.34" y="640.92" width="38.32" height="6.31" fill="#1c46a0"/>
<rect x="530.80" y="647.18" width="38.32" height="6.31" fill="#1c46a0"/>
<rect x="569.07" y="647.18" width="38.32" height="6.31" fill="#1c46a0"/>
<rect x="607.34" y="647.18" width="38.32" height="6.31" fill="#1c46a0"/>
<rect x="530.80" y="653.44" width="38.32" height="6.31" fill="#e5281c"/>
<rect x="569.07" y="653.44" width="38.32" height="6.31" fill="#e5281c"/>
<rect x="607.34" y="653.44" width="38.32" height="6.31" fill="#e5281c"/>
<rect x="530.80" y="659.71" width="38.32" height="6.31" fill="#1c46a0"/>
<rect x="569.07" y="659.71" width="38.32" height="6.31" fill="#88c024"/>
<rect x="607.34" y="659.71" width="38.32" height="6.31" fill="#88c024"/>
<rect x="530.80" y="665.97" width="38.32" height="6.31" fill="#a8cc2c"/>
<rect x="569.07" y="665.97" width="38.32" height="6.31" fill="#1c46a0"/>
<rect x="607.34" y="665.97" width="38.32" height="6.31" fill="#1c46a0"/>
<rect x="530.80" y="672.23" width="38.32" height="6.31" fill="#e5281c"/>
<rect x="569.07" y="672.23" width="38.32" height="6.31" fill="#88c024"/>
<rect x="607.34" y="672.23" width="38.32" height="6.31" fill="#e5281c"/>
<rect x="530.80" y="678.49" width="38.32" height="6.31" fill="#88c024"/>
<rect x="569.07" y="678.49" width="38.32" height="6.31" fill="#88c024"/>
<rect x="607.34" y="678.49" width="38.32" height="6.31" fill="#1c46a0"/>
<rect x="530.80" y="684.76" width="38.32" height="6.31" fill="#1c46a0"/>
<rect x="569.07" y="684.76" width="38.32" height="6.31" fill="#1c46a0"/>
<rect x="607.34" y="684.76" width="38.32" height="6.31" fill="#1c46a0"/>
<line x1="530.8" y1="277.66" x2="645.61" y2="277.66" stroke="#ffffff" stroke-opacity="0.1" stroke-width="0.6"/>
<line x1="530.8" y1="283.93" x2="645.61" y2="283.93" stroke="#ffffff" stroke-opacity="0.1" stroke-width="0.6"/>
<line x1="530.8" y1="290.19" x2="645.61" y2="290.19" stroke="#ffffff" stroke-opacity="0.1" stroke-width="0.6"/>
<line x1="530.8" y1="296.45" x2="645.61" y2="296.45" stroke="#ffffff" stroke-opacity="0.1" stroke-width="0.6"/>
<line x1="530.8" y1="302.71" x2="645.61" y2="302.71" stroke="#ffffff" stroke-opacity="0.1" stroke-width="0.6"/>
<line x1="530.8" y1="308.98" x2="645.61" y2="308.98" stroke="#ffffff" stroke-opacity="0.1" stroke-width="0.6"/>
<line x1="530.8" y1="315.24" x2="645.61" y2="315.24" stroke="#ffffff" stroke-opacity="0.1" stroke-width="0.6"/>
<line x1="530.8" y1="321.50" x2="645.61" y2="321.50" stroke="#ffffff" stroke-opacity="0.1" stroke-width="0.6"/>
<line x1="530.8" y1="327.77" x2="645.61" y2="327.77" stroke="#ffffff" stroke-opacity="0.1" stroke-width="0.6"/>
<line x1="530.8" y1="334.03" x2="645.61" y2="334.03" stroke="#ffffff" stroke-opacity="0.1" stroke-width="0.6"/>
<line x1="530.8" y1="340.29" x2="645.61" y2="340.29" stroke="#ffffff" stroke-opacity="0.1" stroke-width="0.6"/>
<line x1="530.8" y1="346.56" x2="645.61" y2="346.56" stroke="#ffffff" stroke-opacity="0.1" stroke-width="0.6"/>
<line x1="530.8" y1="352.82" x2="645.61" y2="352.82" stroke="#ffffff" stroke-opacity="0.1" stroke-width="0.6"/>
<line x1="530.8" y1="359.08" x2="645.61" y2="359.08" stroke="#ffffff" stroke-opacity="0.1" stroke-width="0.6"/>
<line x1="530.8" y1="365.34" x2="645.61" y2="365.34" stroke="#ffffff" stroke-opacity="0.1" stroke-width="0.6"/>
<line x1="530.8" y1="371.61" x2="645.61" y2="371.61" stroke="#ffffff" stroke-opacity="0.1" stroke-width="0.6"/>
<line x1="530.8" y1="377.87" x2="645.61" y2="377.87" stroke="#ffffff" stroke-opacity="0.1" stroke-width="0.6"/>
<line x1="530.8" y1="384.13" x2="645.61" y2="384.13" stroke="#ffffff" stroke-opacity="0.1" stroke-width="0.6"/>
<line x1="530.8" y1="390.40" x2="645.61" y2="390.40" stroke="#ffffff" stroke-opacity="0.1" stroke-width="0.6"/>
<line x1="530.8" y1="396.66" x2="645.61" y2="396.66" stroke="#ffffff" stroke-opacity="0.1" stroke-width="0.6"/>
<line x1="530.8" y1="402.92" x2="645.61" y2="402.92" stroke="#ffffff" stroke-opacity="0.1" stroke-width="0.6"/>
<line x1="530.8" y1="409.19" x2="645.61" y2="409.19" stroke="#ffffff" stroke-opacity="0.1" stroke-width="0.6"/>
<line x1="530.8" y1="415.45" x2="645.61" y2="415.45" stroke="#ffffff" stroke-opacity="0.1" stroke-width="0.6"/>
<line x1="530.8" y1="421.71" x2="645.61" y2="421.71" stroke="#ffffff" stroke-opacity="0.1" stroke-width="0.6"/>
<line x1="530.8" y1="427.97" x2="645.61" y2="427.97" stroke="#ffffff" stroke-opacity="0.1" stroke-width="0.6"/>
<line x1="530.8" y1="434.24" x2="645.61" y2="434.24" stroke="#ffffff" stroke-opacity="0.1" stroke-width="0.6"/>
<line x1="530.8" y1="440.50" x2="645.61" y2="440.50" stroke="#ffffff" stroke-opacity="0.1" stroke-width="0.6"/>
<line x1="530.8" y1="446.76" x2="645.61" y2="446.76" stroke="#ffffff" stroke-opacity="0.1" stroke-width="0.6"/>
<line x1="530.8" y1="453.03" x2="645.61" y2="453.03" stroke="#ffffff" stroke-opacity="0.1" stroke-width="0.6"/>
<line x1="530.8" y1="459.29" x2="645.61" y2="459.29" stroke="#ffffff" stroke-opacity="0.1" stroke-width="0.6"/>
<line x1="530.8" y1="465.55" x2="645.61" y2="465.55" stroke="#ffffff" stroke-opacity="0.1" stroke-width="0.6"/>
<line x1="530.8" y1="471.82" x2="645.61" y2="471.82" stroke="#ffffff" stroke-opacity="0.1" stroke-width="0.6"/>
<line x1="530.8" y1="478.08" x2="645.61" y2="478.08" stroke="#ffffff" stroke-opacity="0.1" stroke-width="0.6"/>
<line x1="530.8" y1="484.34" x2="645.61" y2="484.34" stroke="#ffffff" stroke-opacity="0.1" stroke-width="0.6"/>
<line x1="530.8" y1="490.60" x2="645.61" y2="490.60" stroke="#ffffff" stroke-opacity="0.1" stroke-width="0.6"/>
<line x1="530.8" y1="496.87" x2="645.61" y2="496.87" stroke="#ffffff" stroke-opacity="0.1" stroke-width="0.6"/>
<line x1="530.8" y1="503.13" x2="645.61" y2="503.13" stroke="#ffffff" stroke-opacity="0.1" stroke-width="0.6"/>
<line x1="530.8" y1="509.39" x2="645.61" y2="509.39" stroke="#ffffff" stroke-opacity="0.1" stroke-width="0.6"/>
<line x1="530.8" y1="515.66" x2="645.61" y2="515.66" stroke="#ffffff" stroke-opacity="0.1" stroke-width="0.6"/>
<line x1="530.8" y1="521.92" x2="645.61" y2="521.92" stroke="#ffffff" stroke-opacity="0.1" stroke-width="0.6"/>
<line x1="530.8" y1="528.18" x2="645.61" y2="528.18" stroke="#ffffff" stroke-opacity="0.1" stroke-width="0.6"/>
<line x1="530.8" y1="534.45" x2="645.61" y2="534.45" stroke="#ffffff" stroke-opacity="0.1" stroke-width="0.6"/>
<line x1="530.8" y1="540.71" x2="645.61" y2="540.71" stroke="#ffffff" stroke-opacity="0.1" stroke-width="0.6"/>
<line x1="530.8" y1="546.97" x2="645.61" y2="546.97" stroke="#ffffff" stroke-opacity="0.1" stroke-width="0.6"/>
<line x1="530.8" y1="553.23" x2="645.61" y2="553.23" stroke="#ffffff" stroke-opacity="0.1" stroke-width="0.6"/>
<line x1="530.8" y1="559.50" x2="645.61" y2="559.50" stroke="#ffffff" stroke-opacity="0.1" stroke-width="0.6"/>
<line x1="530.8" y1="565.76" x2="645.61" y2="565.76" stroke="#ffffff" stroke-opacity="0.1" stroke-width="0.6"/>
<line x1="530.8" y1="572.02" x2="645.61" y2="572.02" stroke="#ffffff" stroke-opacity="0.1" stroke-width="0.6"/>
<line x1="530.8" y1="578.29" x2="645.61" y2="578.29" stroke="#ffffff" stroke-opacity="0.1" stroke-width="0.6"/>
<line x1="530.8" y1="584.55" x2="645.61" y2="584.55" stroke="#ffffff" stroke-opacity="0.1" stroke-width="0.6"/>
<line x1="530.8" y1="590.81" x2="645.61" y2="590.81" stroke="#ffffff" stroke-opacity="0.1" stroke-width="0.6"/>
<line x1="530.8" y1="597.08" x2="645.61" y2="597.08" stroke="#ffffff" stroke-opacity="0.1" stroke-width="0.6"/>
<line x1="530.8" y1="603.34" x2="645.61" y2="603.34" stroke="#ffffff" stroke-opacity="0.1" stroke-width="0.6"/>
<line x1="530.8" y1="609.60" x2="645.61" y2="609.60" stroke="#ffffff" stroke-opacity="0.1" stroke-width="0.6"/>
<line x1="530.8" y1="615.87" x2="645.61" y2="615.87" stroke="#ffffff" stroke-opacity="0.1" stroke-width="0.6"/>
<line x1="530.8" y1="622.13" x2="645.61" y2="622.13" stroke="#ffffff" stroke-opacity="0.1" stroke-width="0.6"/>
<line x1="530.8" y1="628.39" x2="645.61" y2="628.39" stroke="#ffffff" stroke-opacity="0.1" stroke-width="0.6"/>
<line x1="530.8" y1="634.65" x2="645.61" y2="634.65" stroke="#ffffff" stroke-opacity="0.1" stroke-width="0.6"/>
<line x1="530.8" y1="640.92" x2="645.61" y2="640.92" stroke="#ffffff" stroke-opacity="0.1" stroke-width="0.6"/>
<line x1="530.8" y1="647.18" x2="645.61" y2="647.18" stroke="#ffffff" stroke-opacity="0.1" stroke-width="0.6"/>
<line x1="530.8" y1="653.44" x2="645.61" y2="653.44" stroke="#ffffff" stroke-opacity="0.1" stroke-width="0.6"/>
<line x1="530.8" y1="659.71" x2="645.61" y2="659.71" stroke="#ffffff" stroke-opacity="0.1" stroke-width="0.6"/>
<line x1="530.8" y1="665.97" x2="645.61" y2="665.97" stroke="#ffffff" stroke-opacity="0.1" stroke-width="0.6"/>
<line x1="530.8" y1="672.23" x2="645.61" y2="672.23" stroke="#ffffff" stroke-opacity="0.1" stroke-width="0.6"/>
<line x1="530.8" y1="678.49" x2="645.61" y2="678.49" stroke="#ffffff" stroke-opacity="0.1" stroke-width="0.6"/>
<line x1="530.8" y1="684.76" x2="645.61" y2="684.76" stroke="#ffffff" stroke-opacity="0.1" stroke-width="0.6"/>
<line x1="569.07" y1="271.4" x2="569.07" y2="691.02" stroke="#ffffff" stroke-opacity="0.35" stroke-width="0.6"/>
<line x1="607.34" y1="271.4" x2="607.34" y2="691.02" stroke="#ffffff" stroke-opacity="0.35" stroke-width="0.6"/>
<text x="529.2" y="277.81" text-anchor="end" font-family='"Liberation Sans", sans-serif' font-weight="bold" font-size="7.2" transform="translate(529.2 0) scale(1.22 1) translate(-529.2 0)">Calm3</text>
<text x="529.2" y="284.08" text-anchor="end" font-family='"Liberation Sans", sans-serif' font-weight="bold" font-size="7.2" transform="translate(529.2 0) scale(1.22 1) translate(-529.2 0)">Camkk2</text>
<text x="529.2" y="290.34" text-anchor="end" font-family='"Liberation Sans", sans-serif' font-weight="bold" font-size="7.2" transform="translate(529.2 0) scale(1.22 1) translate(-529.2 0)">Dlx3</text>
<text x="529.2" y="296.60" text-anchor="end" font-family='"Liberation Sans", sans-serif' font-weight="bold" font-size="7.2" transform="translate(529.2 0) scale(1.22 1) translate(-529.2 0)">Dlx5</text>
<text x="529.2" y="302.86" text-anchor="end" font-family='"Liberation Sans", sans-serif' font-weight="bold" font-size="7.2" transform="translate(529.2 0) scale(1.22 1) translate(-529.2 0)">Egf</text>
<text x="529.2" y="309.13" text-anchor="end" font-family='"Liberation Sans", sans-serif' font-weight="bold" font-size="7.2" transform="translate(529.2 0) scale(1.22 1) translate(-529.2 0)">Egr4</text>
<text x="529.2" y="315.39" text-anchor="end" font-family='"Liberation Sans", sans-serif' font-weight="bold" font-size="7.2" transform="translate(529.2 0) scale(1.22 1) translate(-529.2 0)">Erbb4</text>
<text x="529.2" y="321.65" text-anchor="end" font-family='"Liberation Sans", sans-serif' font-weight="bold" font-size="7.2" transform="translate(529.2 0) scale(1.22 1) translate(-529.2 0)">Gabra5</text>
<text x="529.2" y="327.92" text-anchor="end" font-family='"Liberation Sans", sans-serif' font-weight="bold" font-size="7.2" transform="translate(529.2 0) scale(1.22 1) translate(-529.2 0)">Gata3</text>
<text x="529.2" y="334.18" text-anchor="end" font-family='"Liberation Sans", sans-serif' font-weight="bold" font-size="7.2" transform="translate(529.2 0) scale(1.22 1) translate(-529.2 0)">Gata4</text>
<text x="529.2" y="340.44" text-anchor="end" font-family='"Liberation Sans", sans-serif' font-weight="bold" font-size="7.2" transform="translate(529.2 0) scale(1.22 1) translate(-529.2 0)">Gata6</text>
<text x="529.2" y="346.71" text-anchor="end" font-family='"Liberation Sans", sans-serif' font-weight="bold" font-size="7.2" transform="translate(529.2 0) scale(1.22 1) translate(-529.2 0)">Grik3</text>
<text x="529.2" y="352.97" text-anchor="end" font-family='"Liberation Sans", sans-serif' font-weight="bold" font-size="7.2" transform="translate(529.2 0) scale(1.22 1) translate(-529.2 0)">Grin2d</text>
<text x="529.2" y="359.23" text-anchor="end" font-family='"Liberation Sans", sans-serif' font-weight="bold" font-size="7.2" transform="translate(529.2 0) scale(1.22 1) translate(-529.2 0)">Gsk3b</text>
<text x="529.2" y="365.49" text-anchor="end" font-family='"Liberation Sans", sans-serif' font-weight="bold" font-size="7.2" transform="translate(529.2 0) scale(1.22 1) translate(-529.2 0)">Hdac2</text>
<text x="529.2" y="371.76" text-anchor="end" font-family='"Liberation Sans", sans-serif' font-weight="bold" font-size="7.2" transform="translate(529.2 0) scale(1.22 1) translate(-529.2 0)">Hdac3</text>
<text x="529.2" y="378.02" text-anchor="end" font-family='"Liberation Sans", sans-serif' font-weight="bold" font-size="7.2" transform="translate(529.2 0) scale(1.22 1) translate(-529.2 0)">Hoxb7</text>
<text x="529.2" y="384.28" text-anchor="end" font-family='"Liberation Sans", sans-serif' font-weight="bold" font-size="7.2" transform="translate(529.2 0) scale(1.22 1) translate(-529.2 0)">Hoxb9</text>
<text x="529.2" y="390.55" text-anchor="end" font-family='"Liberation Sans", sans-serif' font-weight="bold" font-size="7.2" transform="translate(529.2 0) scale(1.22 1) translate(-529.2 0)">Hoxc12</text>
<text x="529.2" y="396.81" text-anchor="end" font-family='"Liberation Sans", sans-serif' font-weight="bold" font-size="7.2" transform="translate(529.2 0) scale(1.22 1) translate(-529.2 0)">Hoxd1</text>
<text x="529.2" y="403.07" text-anchor="end" font-family='"Liberation Sans", sans-serif' font-weight="bold" font-size="7.2" transform="translate(529.2 0) scale(1.22 1) translate(-529.2 0)">Hoxd12</text>
<text x="529.2" y="409.34" text-anchor="end" font-family='"Liberation Sans", sans-serif' font-weight="bold" font-size="7.2" transform="translate(529.2 0) scale(1.22 1) translate(-529.2 0)">Hoxd13</text>
<text x="529.2" y="415.60" text-anchor="end" font-family='"Liberation Sans", sans-serif' font-weight="bold" font-size="7.2" transform="translate(529.2 0) scale(1.22 1) translate(-529.2 0)">Hoxd9</text>
<text x="529.2" y="421.86" text-anchor="end" font-family='"Liberation Sans", sans-serif' font-weight="bold" font-size="7.2" transform="translate(529.2 0) scale(1.22 1) translate(-529.2 0)">Htr1a</text>
<text x="529.2" y="428.12" text-anchor="end" font-family='"Liberation Sans", sans-serif' font-weight="bold" font-size="7.2" transform="translate(529.2 0) scale(1.22 1) translate(-529.2 0)">Htr5a</text>
<text x="529.2" y="434.39" text-anchor="end" font-family='"Liberation Sans", sans-serif' font-weight="bold" font-size="7.2" transform="translate(529.2 0) scale(1.22 1) translate(-529.2 0)">Htr5b</text>
<text x="529.2" y="440.65" text-anchor="end" font-family='"Liberation Sans", sans-serif' font-weight="bold" font-size="7.2" transform="translate(529.2 0) scale(1.22 1) translate(-529.2 0)">Jmjd1c</text>
<text x="529.2" y="446.91" text-anchor="end" font-family='"Liberation Sans", sans-serif' font-weight="bold" font-size="7.2" transform="translate(529.2 0) scale(1.22 1) translate(-529.2 0)">Kcna1</text>
<text x="529.2" y="453.18" text-anchor="end" font-family='"Liberation Sans", sans-serif' font-weight="bold" font-size="7.2" transform="translate(529.2 0) scale(1.22 1) translate(-529.2 0)">Kcna3</text>
<text x="529.2" y="459.44" text-anchor="end" font-family='"Liberation Sans", sans-serif' font-weight="bold" font-size="7.2" transform="translate(529.2 0) scale(1.22 1) translate(-529.2 0)">Kcne1l</text>
<text x="529.2" y="465.70" text-anchor="end" font-family='"Liberation Sans", sans-serif' font-weight="bold" font-size="7.2" transform="translate(529.2 0) scale(1.22 1) translate(-529.2 0)">Kcnh4</text>
<text x="529.2" y="471.97" text-anchor="end" font-family='"Liberation Sans", sans-serif' font-weight="bold" font-size="7.2" transform="translate(529.2 0) scale(1.22 1) translate(-529.2 0)">Kcnh8</text>
<text x="529.2" y="478.23" text-anchor="end" font-family='"Liberation Sans", sans-serif' font-weight="bold" font-size="7.2" transform="translate(529.2 0) scale(1.22 1) translate(-529.2 0)">Kcnj11</text>
<text x="529.2" y="484.49" text-anchor="end" font-family='"Liberation Sans", sans-serif' font-weight="bold" font-size="7.2" transform="translate(529.2 0) scale(1.22 1) translate(-529.2 0)">Kcnk12</text>
<text x="529.2" y="490.75" text-anchor="end" font-family='"Liberation Sans", sans-serif' font-weight="bold" font-size="7.2" transform="translate(529.2 0) scale(1.22 1) translate(-529.2 0)">Kcnk15</text>
<text x="529.2" y="497.02" text-anchor="end" font-family='"Liberation Sans", sans-serif' font-weight="bold" font-size="7.2" transform="translate(529.2 0) scale(1.22 1) translate(-529.2 0)">Kcnk5</text>
<text x="529.2" y="503.28" text-anchor="end" font-family='"Liberation Sans", sans-serif' font-weight="bold" font-size="7.2" transform="translate(529.2 0) scale(1.22 1) translate(-529.2 0)">Kcnk6</text>
<text x="529.2" y="509.54" text-anchor="end" font-family='"Liberation Sans", sans-serif' font-weight="bold" font-size="7.2" transform="translate(529.2 0) scale(1.22 1) translate(-529.2 0)">Kcnq3</text>
<text x="529.2" y="515.81" text-anchor="end" font-family='"Liberation Sans", sans-serif' font-weight="bold" font-size="7.2" transform="translate(529.2 0) scale(1.22 1) translate(-529.2 0)">Kdm2a</text>
<text x="529.2" y="522.07" text-anchor="end" font-family='"Liberation Sans", sans-serif' font-weight="bold" font-size="7.2" transform="translate(529.2 0) scale(1.22 1) translate(-529.2 0)">Map2k3</text>
<text x="529.2" y="528.33" text-anchor="end" font-family='"Liberation Sans", sans-serif' font-weight="bold" font-size="7.2" transform="translate(529.2 0) scale(1.22 1) translate(-529.2 0)">Map3k7</text>
<text x="529.2" y="534.60" text-anchor="end" font-family='"Liberation Sans", sans-serif' font-weight="bold" font-size="7.2" transform="translate(529.2 0) scale(1.22 1) translate(-529.2 0)">Mapk1</text>
<text x="529.2" y="540.86" text-anchor="end" font-family='"Liberation Sans", sans-serif' font-weight="bold" font-size="7.2" transform="translate(529.2 0) scale(1.22 1) translate(-529.2 0)">Mir10a</text>
<text x="529.2" y="547.12" text-anchor="end" font-family='"Liberation Sans", sans-serif' font-weight="bold" font-size="7.2" transform="translate(529.2 0) scale(1.22 1) translate(-529.2 0)">Mir124-1</text>
<text x="529.2" y="553.38" text-anchor="end" font-family='"Liberation Sans", sans-serif' font-weight="bold" font-size="7.2" transform="translate(529.2 0) scale(1.22 1) translate(-529.2 0)">Mir125a</text>
<text x="529.2" y="559.65" text-anchor="end" font-family='"Liberation Sans", sans-serif' font-weight="bold" font-size="7.2" transform="translate(529.2 0) scale(1.22 1) translate(-529.2 0)">Mir137</text>
<text x="529.2" y="565.91" text-anchor="end" font-family='"Liberation Sans", sans-serif' font-weight="bold" font-size="7.2" transform="translate(529.2 0) scale(1.22 1) translate(-529.2 0)">Mir138-1</text>
<text x="529.2" y="572.17" text-anchor="end" font-family='"Liberation Sans", sans-serif' font-weight="bold" font-size="7.2" transform="translate(529.2 0) scale(1.22 1) translate(-529.2 0)">Mir34a</text>
<text x="529.2" y="578.44" text-anchor="end" font-family='"Liberation Sans", sans-serif' font-weight="bold" font-size="7.2" transform="translate(529.2 0) scale(1.22 1) translate(-529.2 0)">Mir34b</text>
<text x="529.2" y="584.70" text-anchor="end" font-family='"Liberation Sans", sans-serif' font-weight="bold" font-size="7.2" transform="translate(529.2 0) scale(1.22 1) translate(-529.2 0)">Mir34c</text>
<text x="529.2" y="590.96" text-anchor="end" font-family='"Liberation Sans", sans-serif' font-weight="bold" font-size="7.2" transform="translate(529.2 0) scale(1.22 1) translate(-529.2 0)">Mir3549</text>
<text x="529.2" y="597.23" text-anchor="end" font-family='"Liberation Sans", sans-serif' font-weight="bold" font-size="7.2" transform="translate(529.2 0) scale(1.22 1) translate(-529.2 0)">Mirlet7b</text>
<text x="529.2" y="603.49" text-anchor="end" font-family='"Liberation Sans", sans-serif' font-weight="bold" font-size="7.2" transform="translate(529.2 0) scale(1.22 1) translate(-529.2 0)">Nlgn3</text>
<text x="529.2" y="609.75" text-anchor="end" font-family='"Liberation Sans", sans-serif' font-weight="bold" font-size="7.2" transform="translate(529.2 0) scale(1.22 1) translate(-529.2 0)">Pkn1</text>
<text x="529.2" y="616.01" text-anchor="end" font-family='"Liberation Sans", sans-serif' font-weight="bold" font-size="7.2" transform="translate(529.2 0) scale(1.22 1) translate(-529.2 0)">Psmd9</text>
<text x="529.2" y="622.28" text-anchor="end" font-family='"Liberation Sans", sans-serif' font-weight="bold" font-size="7.2" transform="translate(529.2 0) scale(1.22 1) translate(-529.2 0)">Rab11a</text>
<text x="529.2" y="628.54" text-anchor="end" font-family='"Liberation Sans", sans-serif' font-weight="bold" font-size="7.2" transform="translate(529.2 0) scale(1.22 1) translate(-529.2 0)">Rab2a</text>
<text x="529.2" y="634.80" text-anchor="end" font-family='"Liberation Sans", sans-serif' font-weight="bold" font-size="7.2" transform="translate(529.2 0) scale(1.22 1) translate(-529.2 0)">Slc6a5</text>
<text x="529.2" y="641.07" text-anchor="end" font-family='"Liberation Sans", sans-serif' font-weight="bold" font-size="7.2" transform="translate(529.2 0) scale(1.22 1) translate(-529.2 0)">Suv39h2</text>
<text x="529.2" y="647.33" text-anchor="end" font-family='"Liberation Sans", sans-serif' font-weight="bold" font-size="7.2" transform="translate(529.2 0) scale(1.22 1) translate(-529.2 0)">Syn1</text>
<text x="529.2" y="653.59" text-anchor="end" font-family='"Liberation Sans", sans-serif' font-weight="bold" font-size="7.2" transform="translate(529.2 0) scale(1.22 1) translate(-529.2 0)">Syt6</text>
<text x="529.2" y="659.86" text-anchor="end" font-family='"Liberation Sans", sans-serif' font-weight="bold" font-size="7.2" transform="translate(529.2 0) scale(1.22 1) translate(-529.2 0)">Tp53i13</text>
<text x="529.2" y="666.12" text-anchor="end" font-family='"Liberation Sans", sans-serif' font-weight="bold" font-size="7.2" transform="translate(529.2 0) scale(1.22 1) translate(-529.2 0)">Wnt10a</text>
<text x="529.2" y="672.38" text-anchor="end" font-family='"Liberation Sans", sans-serif' font-weight="bold" font-size="7.2" transform="translate(529.2 0) scale(1.22 1) translate(-529.2 0)">Wnt2b</text>
<text x="529.2" y="678.64" text-anchor="end" font-family='"Liberation Sans", sans-serif' font-weight="bold" font-size="7.2" transform="translate(529.2 0) scale(1.22 1) translate(-529.2 0)">Wnt6</text>
<text x="529.2" y="684.91" text-anchor="end" font-family='"Liberation Sans", sans-serif' font-weight="bold" font-size="7.2" transform="translate(529.2 0) scale(1.22 1) translate(-529.2 0)">Wnt9a</text>
<text x="529.2" y="691.17" text-anchor="end" font-family='"Liberation Sans", sans-serif' font-weight="bold" font-size="7.2" transform="translate(529.2 0) scale(1.22 1) translate(-529.2 0)">Wnt9b</text>
<text transform="translate(553.5 270.2) rotate(-90)" font-family='"Liberation Sans", sans-serif' font-weight="bold" font-size="7.6" stroke="#000" stroke-width="0.15">P1</text>
<text transform="translate(591.8 270.2) rotate(-90)" font-family='"Liberation Sans", sans-serif' font-weight="bold" font-size="7.6" stroke="#000" stroke-width="0.15">P2</text>
<text transform="translate(630.1 270.2) rotate(-90)" font-family='"Liberation Sans", sans-serif' font-weight="bold" font-size="7.6" stroke="#000" stroke-width="0.15">P3</text>
<rect x="651.4" y="522.40" width="14.8" height="11.69" fill="#e3271d"/>
<text x="666.4" y="533.60" font-family='"Liberation Sans", sans-serif' font-size="8.6">2.77</text>
<rect x="651.4" y="533.69" width="14.8" height="11.69" fill="#e8511f"/>
<text x="666.4" y="544.89" font-family='"Liberation Sans", sans-serif' font-size="8.6">2.34</text>
<rect x="651.4" y="544.98" width="14.8" height="11.69" fill="#ee7b22"/>
<text x="666.4" y="556.18" font-family='"Liberation Sans", sans-serif' font-size="8.6">1.92</text>
<rect x="651.4" y="556.27" width="14.8" height="11.69" fill="#f6a821"/>
<text x="666.4" y="567.47" font-family='"Liberation Sans", sans-serif' font-size="8.6">1.49</text>
<rect x="651.4" y="567.56" width="14.8" height="11.69" fill="#f6dc2c"/>
<text x="666.4" y="578.76" font-family='"Liberation Sans", sans-serif' font-size="8.6">1.06</text>
<rect x="651.4" y="578.85" width="14.8" height="11.69" fill="#d6dd3b"/>
<text x="666.4" y="590.05" font-family='"Liberation Sans", sans-serif' font-size="8.6">0.63</text>
<rect x="651.4" y="590.14" width="14.8" height="11.69" fill="#b5d233"/>
<text x="666.4" y="601.34" font-family='"Liberation Sans", sans-serif' font-size="8.6">0.21</text>
<rect x="651.4" y="601.43" width="14.8" height="11.69" fill="#98c733"/>
<text x="666.4" y="612.63" font-family='"Liberation Sans", sans-serif' font-size="8.6">-0.22</text>
<rect x="651.4" y="612.72" width="14.8" height="11.69" fill="#86c02f"/>
<text x="666.4" y="623.92" font-family='"Liberation Sans", sans-serif' font-size="8.6">-0.65</text>
<rect x="651.4" y="624.01" width="14.8" height="11.69" fill="#78ba36"/>
<text x="666.4" y="635.21" font-family='"Liberation Sans", sans-serif' font-size="8.6">-1.07</text>
<rect x="651.4" y="635.30" width="14.8" height="11.69" fill="#5cae3d"/>
<text x="666.4" y="646.50" font-family='"Liberation Sans", sans-serif' font-size="8.6">-1.50</text>
<rect x="651.4" y="646.59" width="14.8" height="11.69" fill="#1d9651"/>
<text x="666.4" y="657.79" font-family='"Liberation Sans", sans-serif' font-size="8.6">-1.93</text>
<rect x="651.4" y="657.88" width="14.8" height="11.69" fill="#166f8e"/>
<text x="666.4" y="669.08" font-family='"Liberation Sans", sans-serif' font-size="8.6">-2.35</text>
<rect x="651.4" y="669.17" width="14.8" height="11.69" fill="#1d47a0"/>
<text x="666.4" y="680.37" font-family='"Liberation Sans", sans-serif' font-size="8.6">-2.78</text>
<rect x="651.4" y="680.46" width="14.8" height="11.69" fill="#1d47a0"/>
<text x="666.4" y="691.66" font-family='"Liberation Sans", sans-serif' font-size="8.6">-3.21</text>
<text x="-0.8" y="543.9" font-family='"Liberation Serif", serif' font-weight="bold" font-size="28">e</text>
<text x="39.6" y="547" font-family='"Liberation Serif", serif' font-weight="bold" font-size="8.8" letter-spacing="0.5">more extreme</text>
<text x="135.2" y="547" font-family='"Liberation Serif", serif' font-weight="bold" font-size="8.8" letter-spacing="0.5">less</text>
<ellipse cx="54.8" cy="556.8" rx="15.2" ry="6" fill="#e52222" stroke="#333" stroke-width="0.6"/>
<ellipse cx="143.5" cy="556.8" rx="15.2" ry="6" fill="#ecc8e2" stroke="#333" stroke-width="0.6"/>
<ellipse cx="54.8" cy="570.9" rx="15.2" ry="6.1" fill="#1c9a48" stroke="#333" stroke-width="0.6"/>
<ellipse cx="143.5" cy="570.9" rx="15.2" ry="6.1" fill="#c3e4cf" stroke="#333" stroke-width="0.6"/>
<text x="74.3" y="559.5" font-family='"Liberation Serif", serif' font-weight="bold" font-size="8.8" letter-spacing="0.5">upregulated</text>
<text x="70.2" y="573.6" font-family='"Liberation Serif", serif' font-weight="bold" font-size="8.8" letter-spacing="0.5">downreulated</text>
<line x1="193.54" y1="554.11" x2="249.71" y2="561.83" stroke="#707070" stroke-width="1"/>
<line x1="295.67" y1="693.18" x2="263.23" y2="580.47" stroke="#707070" stroke-width="1"/>
<path d="M261.85,575.67 L266.00,580.72 L261.01,582.15 Z" fill="#6b6b6b"/>
<line x1="149.30" y1="642.44" x2="212.34" y2="617.90" stroke="#707070" stroke-width="1"/>
<path d="M217.00,616.09 L212.35,620.69 L210.46,615.84 Z" fill="#6b6b6b"/>
<line x1="147.08" y1="651.38" x2="223.39" y2="694.42" stroke="#707070" stroke-width="1"/>
<path d="M227.75,696.88 L221.24,696.19 L223.80,691.66 Z" fill="#6b6b6b"/>
<line x1="235.71" y1="695.71" x2="228.56" y2="622.77" stroke="#707070" stroke-width="1"/>
<path d="M228.07,617.79 L231.24,623.51 L226.07,624.02 Z" fill="#6b6b6b"/>
<line x1="318.21" y1="649.72" x2="242.24" y2="618.13" stroke="#707070" stroke-width="1"/>
<path d="M237.62,616.21 L244.16,616.11 L242.16,620.91 Z" fill="#6b6b6b"/>
<line x1="333.52" y1="710.85" x2="236.79" y2="620.66" stroke="#707070" stroke-width="1" stroke-dasharray="4.5 3"/>
<path d="M233.13,617.25 L239.30,619.44 L235.75,623.25 Z" fill="#6b6b6b"/>
<line x1="333.70" y1="600.46" x2="372.90" y2="596.01" stroke="#707070" stroke-width="1"/>
<line x1="313.54" y1="608.09" x2="244.12" y2="692.23" stroke="#707070" stroke-width="1"/>
<path d="M240.93,696.08 L242.75,689.80 L246.76,693.11 Z" fill="#6b6b6b"/>
<line x1="317.04" y1="608.47" x2="299.76" y2="688.28" stroke="#707070" stroke-width="1"/>
<path d="M298.71,693.17 L297.43,686.75 L302.52,687.85 Z" fill="#6b6b6b"/>
<line x1="319.62" y1="608.47" x2="327.34" y2="648.03" stroke="#707070" stroke-width="1"/>
<line x1="321.86" y1="608.28" x2="372.29" y2="696.82" stroke="#707070" stroke-width="1"/>
<line x1="365.43" y1="647.21" x2="327.97" y2="611.35" stroke="#707070" stroke-width="1" stroke-dasharray="4.5 3"/>
<path d="M324.35,607.90 L330.49,610.17 L326.89,613.92 Z" fill="#6b6b6b"/>
<line x1="387.30" y1="600.49" x2="376.40" y2="696.61" stroke="#707070" stroke-width="1"/>
<line x1="173.37" y1="713.45" x2="190.33" y2="669.46" stroke="#707070" stroke-width="1" stroke-dasharray="4.5 3"/>
<path d="M192.13,664.80 L192.40,671.33 L187.55,669.46 Z" fill="#6b6b6b"/>
<line x1="204.06" y1="668.23" x2="227.53" y2="692.59" stroke="#707070" stroke-width="1" stroke-dasharray="4.5 3"/>
<path d="M230.99,696.19 L224.96,693.67 L228.71,690.07 Z" fill="#6b6b6b"/>
<path d="M200.60,664.63 L206.63,667.14 L202.89,670.75 Z" fill="#6b6b6b"/>
<line x1="202.69" y1="661.61" x2="278.78" y2="691.81" stroke="#707070" stroke-width="1" stroke-dasharray="4.5 3"/>
<path d="M283.43,693.65 L276.89,693.86 L278.81,689.02 Z" fill="#6b6b6b"/>
<line x1="245.36" y1="697.01" x2="315.03" y2="660.97" stroke="#707070" stroke-width="1"/>
<path d="M319.47,658.67 L315.34,663.74 L312.95,659.12 Z" fill="#6b6b6b"/>
<line x1="256.99" y1="700.85" x2="276.60" y2="700.05" stroke="#707070" stroke-width="1"/>
<path d="M281.60,699.85 L275.71,702.69 L275.50,697.49 Z" fill="#6b6b6b"/>
<path d="M252.00,701.06 L257.88,698.21 L258.10,703.41 Z" fill="#6b6b6b"/>
<line x1="281.61" y1="703.37" x2="184.25" y2="716.78" stroke="#707070" stroke-width="1"/>
<path d="M179.29,717.46 L184.88,714.06 L185.59,719.22 Z" fill="#6b6b6b"/>
<line x1="249.91" y1="730.82" x2="184.24" y2="721.48" stroke="#707070" stroke-width="1" stroke-dasharray="4.5 3"/>
<path d="M179.29,720.78 L185.60,719.05 L184.87,724.20 Z" fill="#6b6b6b"/>
<line x1="178.92" y1="729.53" x2="201.04" y2="757.27" stroke="#707070" stroke-width="1"/>
<path d="M204.16,761.18 L198.39,758.11 L202.45,754.87 Z" fill="#6b6b6b"/>
<path d="M175.80,725.63 L181.58,728.70 L177.51,731.94 Z" fill="#6b6b6b"/>
<line x1="194.99" y1="763.39" x2="108.28" y2="745.97" stroke="#707070" stroke-width="1"/>
<path d="M103.37,744.99 L109.77,743.62 L108.74,748.72 Z" fill="#6b6b6b"/>
<line x1="86.95" y1="748.62" x2="72.80" y2="793.59" stroke="#707070" stroke-width="1"/>
<path d="M71.30,798.36 L70.62,791.86 L75.58,793.42 Z" fill="#6b6b6b"/>
<line x1="132.78" y1="795.55" x2="84.43" y2="802.08" stroke="#707070" stroke-width="1"/>
<line x1="70.06" y1="814.89" x2="72.34" y2="859.21" stroke="#707070" stroke-width="1"/>
<path d="M72.60,864.20 L69.70,858.34 L74.89,858.08 Z" fill="#6b6b6b"/>
<path d="M69.80,809.90 L72.70,815.76 L67.51,816.02 Z" fill="#6b6b6b"/>
<line x1="151.86" y1="788.79" x2="230.96" y2="707.20" stroke="#707070" stroke-width="1"/>
<line x1="208.04" y1="820.87" x2="160.71" y2="799.65" stroke="#707070" stroke-width="1" stroke-dasharray="4.5 3"/>
<path d="M156.14,797.61 L162.68,797.69 L160.56,802.44 Z" fill="#6b6b6b"/>
<line x1="216.75" y1="819.42" x2="208.83" y2="771.08" stroke="#707070" stroke-width="1"/>
<line x1="222.93" y1="819.88" x2="259.20" y2="783.04" stroke="#707070" stroke-width="1"/>
<path d="M262.71,779.47 L260.35,785.57 L256.65,781.92 Z" fill="#6b6b6b"/>
<line x1="233.72" y1="707.57" x2="210.20" y2="761.00" stroke="#707070" stroke-width="1"/>
<line x1="250.16" y1="737.45" x2="218.64" y2="758.79" stroke="#707070" stroke-width="1" stroke-dasharray="4.5 3"/>
<path d="M214.50,761.60 L218.01,756.08 L220.93,760.38 Z" fill="#6b6b6b"/>
<line x1="260.91" y1="836.08" x2="214.67" y2="774.83" stroke="#707070" stroke-width="1" stroke-dasharray="4.5 3"/>
<path d="M211.65,770.84 L217.34,774.06 L213.19,777.20 Z" fill="#6b6b6b"/>
<line x1="259.48" y1="737.78" x2="265.33" y2="764.25" stroke="#707070" stroke-width="1" stroke-dasharray="4.5 3"/>
<path d="M266.41,769.13 L262.58,763.83 L267.66,762.71 Z" fill="#6b6b6b"/>
<line x1="264.79" y1="726.49" x2="286.68" y2="708.17" stroke="#707070" stroke-width="1" stroke-dasharray="4.5 3"/>
<path d="M290.51,704.96 L287.58,710.81 L284.24,706.82 Z" fill="#6b6b6b"/>
<line x1="266.50" y1="732.58" x2="390.01" y2="741.27" stroke="#707070" stroke-width="1" stroke-dasharray="4.5 3"/>
<path d="M395.00,741.62 L388.83,743.79 L389.20,738.61 Z" fill="#6b6b6b"/>
<line x1="266.43" y1="735.69" x2="333.47" y2="765.71" stroke="#707070" stroke-width="1" stroke-dasharray="4.5 3"/>
<path d="M338.03,767.76 L331.49,767.68 L333.62,762.93 Z" fill="#6b6b6b"/>
<line x1="266.48" y1="730.29" x2="326.96" y2="717.77" stroke="#707070" stroke-width="1" stroke-dasharray="4.5 3"/>
<path d="M331.86,716.75 L326.51,720.52 L325.45,715.42 Z" fill="#6b6b6b"/>
<line x1="248.36" y1="709.38" x2="333.87" y2="763.86" stroke="#707070" stroke-width="1"/>
<path d="M338.09,766.55 L331.63,765.52 L334.42,761.13 Z" fill="#6b6b6b"/>
<path d="M244.14,706.70 L250.60,707.73 L247.81,712.11 Z" fill="#6b6b6b"/>
<line x1="337.96" y1="771.03" x2="288.11" y2="773.49" stroke="#707070" stroke-width="1" stroke-dasharray="4.5 3"/>
<path d="M283.11,773.73 L288.98,770.84 L289.23,776.04 Z" fill="#6b6b6b"/>
<line x1="351.23" y1="769.77" x2="475.31" y2="752.42" stroke="#707070" stroke-width="1" stroke-dasharray="4.5 3"/>
<path d="M480.26,751.72 L474.68,755.13 L473.96,749.98 Z" fill="#6b6b6b"/>
<line x1="351.22" y1="772.29" x2="451.57" y2="796.40" stroke="#707070" stroke-width="1" stroke-dasharray="4.5 3"/>
<line x1="331.90" y1="712.83" x2="316.08" y2="706.58" stroke="#707070" stroke-width="1"/>
<path d="M311.43,704.74 L317.97,704.53 L316.06,709.37 Z" fill="#6b6b6b"/>
<line x1="344.92" y1="713.20" x2="359.42" y2="708.30" stroke="#707070" stroke-width="1" stroke-dasharray="4.5 3"/>
<path d="M364.16,706.70 L359.31,711.08 L357.65,706.15 Z" fill="#6b6b6b"/>
<line x1="338.94" y1="720.20" x2="343.50" y2="760.86" stroke="#707070" stroke-width="1"/>
<path d="M344.05,765.82 L340.80,760.15 L345.97,759.57 Z" fill="#6b6b6b"/>
<line x1="344.90" y1="718.14" x2="390.45" y2="737.32" stroke="#707070" stroke-width="1"/>
<path d="M395.06,739.26 L388.52,739.33 L390.54,734.54 Z" fill="#6b6b6b"/>
<line x1="341.10" y1="720.09" x2="380.43" y2="788.52" stroke="#707070" stroke-width="1" stroke-dasharray="4.5 3"/>
<path d="M382.92,792.86 L377.67,788.95 L382.18,786.36 Z" fill="#6b6b6b"/>
<line x1="337.63" y1="710.61" x2="330.26" y2="664.92" stroke="#707070" stroke-width="1" stroke-dasharray="4.5 3"/>
<path d="M329.46,659.98 L332.99,665.49 L327.85,666.32 Z" fill="#6b6b6b"/>
<line x1="346.80" y1="765.89" x2="370.85" y2="713.40" stroke="#707070" stroke-width="1"/>
<path d="M372.93,708.85 L372.79,715.39 L368.07,713.22 Z" fill="#6b6b6b"/>
<line x1="313.20" y1="699.93" x2="360.41" y2="702.10" stroke="#707070" stroke-width="1"/>
<line x1="278.72" y1="767.12" x2="363.76" y2="710.72" stroke="#707070" stroke-width="1"/>
<path d="M367.92,707.96 L364.36,713.44 L361.49,709.11 Z" fill="#6b6b6b"/>
<path d="M274.55,769.89 L278.12,764.40 L280.99,768.74 Z" fill="#6b6b6b"/>
<line x1="324.57" y1="659.71" x2="304.30" y2="689.17" stroke="#707070" stroke-width="1"/>
<path d="M301.47,693.29 L302.72,686.87 L307.01,689.82 Z" fill="#6b6b6b"/>
<line x1="301.31" y1="705.12" x2="338.71" y2="761.78" stroke="#707070" stroke-width="1"/>
<path d="M341.47,765.95 L335.99,762.38 L340.33,759.51 Z" fill="#6b6b6b"/>
<line x1="331.84" y1="714.68" x2="256.37" y2="706.40" stroke="#707070" stroke-width="1"/>
<path d="M251.40,705.86 L257.64,703.93 L257.08,709.09 Z" fill="#6b6b6b"/>
<line x1="385.17" y1="792.71" x2="376.88" y2="713.96" stroke="#707070" stroke-width="1"/>
<path d="M376.35,708.99 L379.57,714.69 L374.40,715.23 Z" fill="#6b6b6b"/>
<line x1="444.34" y1="709.65" x2="391.66" y2="788.74" stroke="#707070" stroke-width="1" stroke-dasharray="4.5 3"/>
<path d="M388.89,792.91 L390.05,786.47 L394.38,789.35 Z" fill="#6b6b6b"/>
<line x1="407.53" y1="737.43" x2="437.99" y2="712.64" stroke="#707070" stroke-width="1" stroke-dasharray="4.5 3"/>
<path d="M441.87,709.49 L438.86,715.29 L435.57,711.26 Z" fill="#6b6b6b"/>
<line x1="375.25" y1="655.09" x2="436.81" y2="697.53" stroke="#707070" stroke-width="1"/>
<path d="M440.92,700.37 L434.51,699.10 L437.46,694.82 Z" fill="#6b6b6b"/>
<line x1="429.05" y1="656.63" x2="443.87" y2="695.40" stroke="#707070" stroke-width="1"/>
<path d="M445.65,700.07 L441.08,695.40 L445.94,693.54 Z" fill="#6b6b6b"/>
<line x1="420.69" y1="654.18" x2="317.22" y2="691.96" stroke="#707070" stroke-width="1"/>
<path d="M312.53,693.68 L317.27,689.18 L319.06,694.06 Z" fill="#6b6b6b"/>
<line x1="367.58" y1="655.36" x2="342.88" y2="706.18" stroke="#707070" stroke-width="1"/>
<path d="M340.69,710.68 L340.98,704.15 L345.65,706.42 Z" fill="#6b6b6b"/>
<line x1="363.17" y1="653.64" x2="251.85" y2="695.81" stroke="#707070" stroke-width="1" stroke-dasharray="4.5 3"/>
<path d="M247.17,697.58 L251.86,693.02 L253.71,697.89 Z" fill="#6b6b6b"/>
<line x1="333.82" y1="659.50" x2="370.23" y2="697.14" stroke="#707070" stroke-width="1"/>
<line x1="237.53" y1="707.67" x2="263.73" y2="835.33" stroke="#707070" stroke-width="1" stroke-dasharray="4.5 3"/>
<line x1="326.00" y1="830.71" x2="238.22" y2="826.24" stroke="#707070" stroke-width="1" stroke-dasharray="4.5 3"/>
<path d="M233.23,825.99 L239.35,823.70 L239.09,828.89 Z" fill="#6b6b6b"/>
<line x1="228.85" y1="829.04" x2="257.47" y2="838.90" stroke="#707070" stroke-width="1" stroke-dasharray="4.5 3"/>
<line x1="272.46" y1="838.79" x2="371.08" y2="803.00" stroke="#707070" stroke-width="1" stroke-dasharray="4.5 3"/>
<path d="M375.78,801.30 L371.03,805.79 L369.26,800.90 Z" fill="#6b6b6b"/>
<line x1="270.34" y1="836.75" x2="335.68" y2="778.63" stroke="#707070" stroke-width="1" stroke-dasharray="4.5 3"/>
<path d="M339.42,775.31 L336.66,781.24 L333.20,777.36 Z" fill="#6b6b6b"/>
<line x1="273.25" y1="779.35" x2="326.75" y2="825.23" stroke="#707070" stroke-width="1" stroke-dasharray="4.5 3"/>
<line x1="379.02" y1="801.98" x2="341.07" y2="826.31" stroke="#707070" stroke-width="1"/>
<line x1="327.19" y1="836.99" x2="299.09" y2="862.81" stroke="#707070" stroke-width="1"/>
<path d="M295.40,866.19 L298.06,860.22 L301.58,864.05 Z" fill="#6b6b6b"/>
<line x1="341.17" y1="833.21" x2="435.16" y2="859.40" stroke="#707070" stroke-width="1" stroke-dasharray="4.5 3"/>
<path d="M439.98,860.74 L433.50,861.63 L434.90,856.62 Z" fill="#6b6b6b"/>
<line x1="390.13" y1="802.34" x2="436.74" y2="851.12" stroke="#707070" stroke-width="1"/>
<path d="M440.20,854.73 L434.17,852.19 L437.93,848.60 Z" fill="#6b6b6b"/>
<line x1="385.23" y1="802.69" x2="379.96" y2="858.43" stroke="#707070" stroke-width="1"/>
<path d="M379.49,863.40 L377.47,857.19 L382.64,857.67 Z" fill="#6b6b6b"/>
<line x1="383.09" y1="802.56" x2="341.80" y2="879.49" stroke="#707070" stroke-width="1"/>
<path d="M339.44,883.90 L339.99,877.38 L344.57,879.84 Z" fill="#6b6b6b"/>
<line x1="269.54" y1="846.70" x2="282.91" y2="862.01" stroke="#707070" stroke-width="1"/>
<path d="M286.20,865.78 L280.30,862.97 L284.22,859.55 Z" fill="#6b6b6b"/>
<line x1="271.21" y1="845.61" x2="326.58" y2="882.30" stroke="#707070" stroke-width="1"/>
<path d="M330.75,885.06 L324.32,883.91 L327.19,879.58 Z" fill="#6b6b6b"/>
<line x1="272.91" y1="843.38" x2="368.08" y2="866.00" stroke="#707070" stroke-width="1"/>
<path d="M372.94,867.16 L366.50,868.30 L367.71,863.24 Z" fill="#6b6b6b"/>
<line x1="263.49" y1="847.64" x2="249.37" y2="904.97" stroke="#707070" stroke-width="1"/>
<path d="M248.17,909.82 L247.08,903.38 L252.13,904.62 Z" fill="#6b6b6b"/>
<line x1="257.46" y1="844.09" x2="192.40" y2="866.47" stroke="#707070" stroke-width="1"/>
<path d="M187.67,868.10 L192.50,863.69 L194.19,868.61 Z" fill="#6b6b6b"/>
<line x1="268.88" y1="779.87" x2="287.92" y2="859.85" stroke="#707070" stroke-width="1" stroke-dasharray="4.5 3"/>
<path d="M289.08,864.72 L285.16,859.48 L290.22,858.28 Z" fill="#6b6b6b"/>
<line x1="264.04" y1="835.25" x2="266.00" y2="784.90" stroke="#707070" stroke-width="1" stroke-dasharray="4.5 3"/>
<path d="M266.19,779.90 L268.56,786.00 L263.36,785.79 Z" fill="#6b6b6b"/>
<line x1="268.59" y1="779.90" x2="266.64" y2="830.26" stroke="#707070" stroke-width="1" stroke-dasharray="4.5 3"/>
<path d="M266.44,835.25 L264.08,829.16 L269.27,829.36 Z" fill="#6b6b6b"/>
<line x1="268.80" y1="835.28" x2="275.27" y2="784.85" stroke="#707070" stroke-width="1" stroke-dasharray="4.5 3"/>
<path d="M275.91,779.89 L277.72,786.17 L272.57,785.51 Z" fill="#6b6b6b"/>
<line x1="266.56" y1="769.18" x2="288.45" y2="709.89" stroke="#707070" stroke-width="1"/>
<path d="M290.18,705.20 L290.55,711.73 L285.67,709.93 Z" fill="#6b6b6b"/>
<line x1="269.47" y1="769.21" x2="296.17" y2="709.74" stroke="#707070" stroke-width="1"/>
<path d="M298.22,705.18 L298.13,711.72 L293.39,709.59 Z" fill="#6b6b6b"/>
<line x1="294.30" y1="705.21" x2="273.61" y2="764.45" stroke="#707070" stroke-width="1" stroke-dasharray="4.5 3"/>
<path d="M271.96,769.17 L271.48,762.65 L276.39,764.36 Z" fill="#6b6b6b"/>
<path d="M251.5,560.1 A17.5,12.6 0 1 1 264.9,560.1" fill="none" stroke="#707070" stroke-width="1"/>
<path d="M219.0,603.5 C217.5,593.0 238.0,593.0 236.0,607.5" fill="none" stroke="#707070" stroke-width="1"/>
<path d="M219.30,608.00 L216.55,603.12 L221.55,602.88 Z" fill="#6b6b6b"/>
<path d="M309.9,593.2 C308.4,582.7 328.9,582.7 326.9,597.2" fill="none" stroke="#707070" stroke-width="1"/>
<path d="M310.20,597.70 L307.45,592.83 L312.45,592.58 Z" fill="#6b6b6b"/>
<path d="M379.5,585.4 C378.0,574.9 398.5,574.9 396.5,589.4" fill="none" stroke="#707070" stroke-width="1" stroke-dasharray="3.5 2.5"/>
<path d="M379.80,589.90 L377.05,585.02 L382.05,584.77 Z" fill="#6b6b6b"/>
<path d="M130.1,638.0 C128.6,627.5 149.1,627.5 147.1,642.0" fill="none" stroke="#707070" stroke-width="1"/>
<path d="M130.40,642.50 L127.65,637.62 L132.65,637.38 Z" fill="#6b6b6b"/>
<path d="M320.0,645.3 C318.5,634.8 339.0,634.8 337.0,649.3" fill="none" stroke="#707070" stroke-width="1"/>
<path d="M320.30,649.80 L317.55,644.92 L322.55,644.67 Z" fill="#6b6b6b"/>
<path d="M361.1,642.9 C359.6,632.4 380.1,632.4 378.1,646.9" fill="none" stroke="#707070" stroke-width="1"/>
<path d="M361.40,647.40 L358.65,642.53 L363.65,642.28 Z" fill="#6b6b6b"/>
<path d="M418.7,642.7 C417.2,632.2 437.7,632.2 435.7,646.7" fill="none" stroke="#707070" stroke-width="1"/>
<path d="M419.00,647.20 L416.25,642.32 L421.25,642.07 Z" fill="#6b6b6b"/>
<path d="M227.8,693.0 C226.3,682.5 246.8,682.5 244.8,697.0" fill="none" stroke="#707070" stroke-width="1"/>
<path d="M228.10,697.50 L225.35,692.62 L230.35,692.38 Z" fill="#6b6b6b"/>
<path d="M288.9,690.5 C287.4,680.0 307.9,680.0 305.9,694.5" fill="none" stroke="#707070" stroke-width="1"/>
<path d="M289.20,694.95 L286.45,690.08 L291.45,689.83 Z" fill="#6b6b6b"/>
<path d="M367.2,693.9 C365.7,683.4 386.2,683.4 384.2,697.9" fill="none" stroke="#707070" stroke-width="1"/>
<path d="M367.50,698.40 L364.75,693.52 L369.75,693.27 Z" fill="#6b6b6b"/>
<path d="M439.0,695.8 C437.5,685.3 458.0,685.3 456.0,699.8" fill="none" stroke="#707070" stroke-width="1"/>
<path d="M439.30,700.30 L436.55,695.42 L441.55,695.17 Z" fill="#6b6b6b"/>
<path d="M329.9,706.4 C328.4,695.9 348.9,695.9 346.9,710.4" fill="none" stroke="#707070" stroke-width="1"/>
<path d="M330.20,710.90 L327.45,706.02 L332.45,705.77 Z" fill="#6b6b6b"/>
<path d="M249.7,723.5 C248.2,713.0 268.7,713.0 266.7,727.5" fill="none" stroke="#707070" stroke-width="1"/>
<path d="M250.00,728.00 L247.25,723.12 L252.25,722.88 Z" fill="#6b6b6b"/>
<path d="M393.3,732.9 C391.8,722.4 412.3,722.4 410.3,736.9" fill="none" stroke="#707070" stroke-width="1"/>
<path d="M393.60,737.40 L390.85,732.52 L395.85,732.27 Z" fill="#6b6b6b"/>
<path d="M199.5,758.2 C198.0,747.7 218.5,747.7 216.5,762.2" fill="none" stroke="#707070" stroke-width="1"/>
<path d="M199.80,762.70 L197.05,757.83 L202.05,757.58 Z" fill="#6b6b6b"/>
<path d="M259.1,766.4 C257.6,755.9 278.1,755.9 276.1,770.4" fill="none" stroke="#707070" stroke-width="1"/>
<path d="M259.40,770.90 L256.65,766.02 L261.65,765.77 Z" fill="#6b6b6b"/>
<path d="M336.1,761.6 C334.6,751.1 355.1,751.1 353.1,765.6" fill="none" stroke="#707070" stroke-width="1"/>
<path d="M336.40,766.10 L333.65,761.23 L338.65,760.98 Z" fill="#6b6b6b"/>
<path d="M479.8,741.5 C478.3,731.0 498.8,731.0 496.8,745.5" fill="none" stroke="#707070" stroke-width="1"/>
<path d="M480.10,746.00 L477.35,741.12 L482.35,740.88 Z" fill="#6b6b6b"/>
<path d="M138.7,785.7 C137.2,775.2 157.7,775.2 155.7,789.7" fill="none" stroke="#707070" stroke-width="1"/>
<path d="M139.00,790.20 L136.25,785.33 L141.25,785.08 Z" fill="#6b6b6b"/>
<path d="M377.2,790.0 C375.7,779.5 396.2,779.5 394.2,794.0" fill="none" stroke="#707070" stroke-width="1"/>
<path d="M377.50,794.50 L374.75,789.62 L379.75,789.38 Z" fill="#6b6b6b"/>
<path d="M453.4,795.2 A17.5,12.6 0 1 1 465.6,795.2" fill="none" stroke="#707070" stroke-width="1"/>
<path d="M209.2,816.7 C207.7,806.2 228.2,806.2 226.2,820.7" fill="none" stroke="#707070" stroke-width="1"/>
<path d="M209.50,821.20 L206.75,816.33 L211.75,816.08 Z" fill="#6b6b6b"/>
<path d="M441.8,860.2 A17.5,12.6 0 1 1 454.5,860.2" fill="none" stroke="#707070" stroke-width="1" stroke-dasharray="4 3"/>
<path d="M441.75,862.25 L437.19,859.15 L441.31,856.75 Z" fill="#6b6b6b"/>
<path d="M64.4,861.5 C62.9,851.0 83.4,851.0 81.4,865.5" fill="none" stroke="#707070" stroke-width="1"/>
<path d="M64.70,866.00 L61.95,861.12 L66.95,860.88 Z" fill="#6b6b6b"/>
<rect x="178.25" y="541.20" width="14.5" height="23.6" fill="#e8c6e0" stroke="#444" stroke-width="0.8" stroke-dasharray="1.2 1"/>
<text x="185.50" y="555.20" text-anchor="middle" font-family='"Liberation Serif", serif' font-weight="bold" font-size="7.1" letter-spacing="0.42" fill="#000" stroke="#000" stroke-width="0.08">KCNA3</text>
<rect x="250.50" y="551.10" width="15.4" height="23.8" fill="#c3e4cf" stroke="#444" stroke-width="0.8" stroke-dasharray="1.2 1"/>
<text x="258.20" y="565.20" text-anchor="middle" font-family='"Liberation Serif", serif' font-weight="bold" font-size="7.1" letter-spacing="0.42" fill="#000" stroke="#000" stroke-width="0.08">KCNA1</text>
<ellipse cx="227.5" cy="612" rx="15.0" ry="5.0" fill="#c3e4cf" stroke="none" stroke-width="0.8"/>
<text x="227.50" y="614.20" text-anchor="middle" font-family='"Liberation Serif", serif' font-weight="bold" font-size="7.1" letter-spacing="0.42" fill="#000" stroke="#000" stroke-width="0.08">DLX3</text>
<ellipse cx="318.4" cy="602.2" rx="15.2" ry="5.5" fill="#e8c6e0" stroke="#333" stroke-width="0.8"/>
<text x="318.40" y="604.40" text-anchor="middle" font-family='"Liberation Serif", serif' font-weight="bold" font-size="7.1" letter-spacing="0.42" fill="#000" stroke="#000" stroke-width="0.08">HDAC2</text>
<ellipse cx="388" cy="594.3" rx="15.0" ry="5.4" fill="#1c9a48" stroke="#222" stroke-width="0.8"/>
<text x="388.00" y="596.50" text-anchor="middle" font-family='"Liberation Serif", serif' font-weight="bold" font-size="7.1" letter-spacing="0.42" fill="#000" stroke="#000" stroke-width="0.08">HOXB7</text>
<ellipse cx="138.6" cy="646.6" rx="15.3" ry="5.1" fill="#c3e4cf" stroke="none" stroke-width="0.8"/>
<text x="138.60" y="648.80" text-anchor="middle" font-family='"Liberation Serif", serif' font-weight="bold" font-size="7.1" letter-spacing="0.42" fill="#000" stroke="#000" stroke-width="0.08">GATA6</text>
<path d="M187.25,652.75 L201.95,652.75 L199.50,664.05 L189.70,664.05 Z" fill="#e8c6e0"/>
<text x="194.60" y="660.60" text-anchor="middle" font-family='"Liberation Serif", serif' font-weight="bold" font-size="7.1" letter-spacing="0.42" fill="#000" stroke="#000" stroke-width="0.08">let-7</text>
<ellipse cx="328.5" cy="654" rx="14.8" ry="5.2" fill="#c3e4cf" stroke="none" stroke-width="0.8"/>
<text x="328.50" y="656.20" text-anchor="middle" font-family='"Liberation Serif", serif' font-weight="bold" font-size="7.1" letter-spacing="0.42" fill="#000" stroke="#000" stroke-width="0.08">GATA3</text>
<path d="M362.50,646.90 L376.70,646.90 L369.60,655.50 Z" fill="#e8c6e0"/>
<text x="369.60" y="653.40" text-anchor="middle" font-family='"Liberation Serif", serif' font-weight="bold" font-size="7.1" letter-spacing="0.42" fill="#000" stroke="#000" stroke-width="0.08">MAP3K7</text>
<path d="M420.00,646.70 L434.40,646.70 L427.20,656.90 Z" fill="#e02020"/>
<text x="427.20" y="654.00" text-anchor="middle" font-family='"Liberation Serif", serif' font-weight="bold" font-size="7.1" letter-spacing="0.42" fill="#000" stroke="#000" stroke-width="0.08">PKN1</text>
<ellipse cx="236.3" cy="701.7" rx="15.0" ry="5.2" fill="#c3e4cf" stroke="none" stroke-width="0.8"/>
<text x="236.30" y="703.90" text-anchor="middle" font-family='"Liberation Serif", serif' font-weight="bold" font-size="7.1" letter-spacing="0.42" fill="#000" stroke="#000" stroke-width="0.08">GATA4</text>
<rect x="282.40" y="693.95" width="30" height="10.5" fill="#ffffff" stroke="#888" stroke-width="0.8"/>
<text x="297.40" y="701.40" text-anchor="middle" font-family='"Liberation Serif", serif' font-weight="bold" font-size="7.1" letter-spacing="0.42" fill="#000" stroke="#000" stroke-width="0.08">AR</text>
<ellipse cx="375.7" cy="702.8" rx="14.6" ry="5.4" fill="#e8c6e0" stroke="none" stroke-width="0.8"/>
<text x="375.70" y="705.00" text-anchor="middle" font-family='"Liberation Serif", serif' font-weight="bold" font-size="7.1" letter-spacing="0.42" fill="#000" stroke="#000" stroke-width="0.08">HDAC3</text>
<path d="M440.10,699.80 L454.90,699.80 L447.50,710.00 Z" fill="#e8c6e0"/>
<text x="447.50" y="707.10" text-anchor="middle" font-family='"Liberation Serif", serif' font-weight="bold" font-size="7.1" letter-spacing="0.42" fill="#000" stroke="#000" stroke-width="0.08">MAP2K3</text>
<path d="M331.20,710.40 L345.60,710.40 L338.40,720.40 Z" fill="#e8c6e0"/>
<text x="338.40" y="717.60" text-anchor="middle" font-family='"Liberation Serif", serif' font-weight="bold" font-size="7.1" letter-spacing="0.42" fill="#000" stroke="#000" stroke-width="0.08">MAPK1</text>
<path d="M163.50,714.20 L178.50,714.20 L175.41,725.00 L166.59,725.00 Z" fill="#1c9a48"/>
<text x="171.00" y="721.80" text-anchor="middle" font-family='"Liberation Serif", serif' font-weight="bold" font-size="7.1" letter-spacing="0.42" fill="#000" stroke="#000" stroke-width="0.08">mir-10b</text>
<rect x="250.70" y="727.00" width="15" height="10" fill="#c3e4cf" stroke="none" stroke-width="0.8"/>
<text x="258.20" y="734.20" text-anchor="middle" font-family='"Liberation Serif", serif' font-weight="bold" font-size="7.1" letter-spacing="0.42" fill="#000" stroke="#000" stroke-width="0.08">EGF</text>
<path d="M394.30,736.90 L409.30,736.90 L401.80,747.30 Z" fill="#c3e4cf"/>
<text x="401.80" y="744.30" text-anchor="middle" font-family='"Liberation Serif", serif' font-weight="bold" font-size="7.1" letter-spacing="0.42" fill="#000" stroke="#000" stroke-width="0.08">ERBB4</text>
<ellipse cx="89" cy="742.1" rx="15.4" ry="5.8" fill="#1c9a48" stroke="#222" stroke-width="0.8"/>
<text x="89.00" y="744.30" text-anchor="middle" font-family='"Liberation Serif", serif' font-weight="bold" font-size="7.1" letter-spacing="0.42" fill="#000" stroke="#000" stroke-width="0.08">HOXB9</text>
<ellipse cx="208" cy="766" rx="14.9" ry="4.3" fill="#ffffff" stroke="#888" stroke-width="0.8"/>
<text x="208.00" y="768.20" text-anchor="middle" font-family='"Liberation Serif", serif' font-weight="bold" font-size="7.1" letter-spacing="0.42" fill="#000" stroke="#000" stroke-width="0.08">CDX2</text>
<ellipse cx="267.6" cy="774.5" rx="14.9" ry="4.6" fill="#ffffff" stroke="#888" stroke-width="0.8"/>
<text x="267.60" y="776.70" text-anchor="middle" font-family='"Liberation Serif", serif' font-weight="bold" font-size="7.1" letter-spacing="0.42" fill="#000" stroke="#000" stroke-width="0.08">RUNX2</text>
<path d="M337.30,765.60 L351.90,765.60 L344.60,775.80 Z" fill="#e8c6e0"/>
<text x="344.60" y="772.90" text-anchor="middle" font-family='"Liberation Serif", serif' font-weight="bold" font-size="7.1" letter-spacing="0.42" fill="#000" stroke="#000" stroke-width="0.08">GSK3B</text>
<path d="M483.77,745.00 L492.83,745.00 L495.55,756.20 L481.05,756.20 Z" fill="#e8c6e0"/>
<text x="488.30" y="752.80" text-anchor="middle" font-family='"Liberation Serif", serif' font-weight="bold" font-size="7.1" letter-spacing="0.42" fill="#000" stroke="#000" stroke-width="0.08">SYN1</text>
<ellipse cx="147.2" cy="793.6" rx="15.0" ry="4.4" fill="#ffffff" stroke="#888" stroke-width="0.8"/>
<text x="147.20" y="795.80" text-anchor="middle" font-family='"Liberation Serif", serif' font-weight="bold" font-size="7.1" letter-spacing="0.42" fill="#000" stroke="#000" stroke-width="0.08">HAND2</text>
<ellipse cx="385.7" cy="797.7" rx="15.0" ry="4.2" fill="#ffffff" stroke="#888" stroke-width="0.8"/>
<text x="385.70" y="799.90" text-anchor="middle" font-family='"Liberation Serif", serif' font-weight="bold" font-size="7.1" letter-spacing="0.42" fill="#000" stroke="#000" stroke-width="0.08">PITX2</text>
<rect x="452.35" y="786.20" width="14.3" height="24.2" fill="#e8c6e0" stroke="#666" stroke-width="0.8"/>
<text x="459.50" y="800.50" text-anchor="middle" font-family='"Liberation Serif", serif' font-weight="bold" font-size="7.1" letter-spacing="0.42" fill="#000" stroke="#000" stroke-width="0.08">HTR1A</text>
<ellipse cx="69.5" cy="804.1" rx="15.3" ry="5.0" fill="#c3e4cf" stroke="none" stroke-width="0.8"/>
<text x="69.50" y="806.30" text-anchor="middle" font-family='"Liberation Serif", serif' font-weight="bold" font-size="7.1" letter-spacing="0.42" fill="#000" stroke="#000" stroke-width="0.08">HOXD13</text>
<ellipse cx="217.7" cy="825.2" rx="14.9" ry="5.0" fill="#c3e4cf" stroke="none" stroke-width="0.8"/>
<text x="217.70" y="827.40" text-anchor="middle" font-family='"Liberation Serif", serif' font-weight="bold" font-size="7.1" letter-spacing="0.42" fill="#000" stroke="#000" stroke-width="0.08">DLX5</text>
<path d="M326.80,825.75 L340.40,825.75 L338.13,836.45 L329.07,836.45 Z" fill="#c3e4cf"/>
<text x="333.60" y="833.30" text-anchor="middle" font-family='"Liberation Serif", serif' font-weight="bold" font-size="7.1" letter-spacing="0.42" fill="#000" stroke="#000" stroke-width="0.08">mir-124</text>
<ellipse cx="265" cy="841.5" rx="7.5" ry="5.45" fill="#1c9a48" stroke="none" stroke-width="0.8"/>
<text x="265.00" y="843.70" text-anchor="middle" font-family='"Liberation Serif", serif' font-weight="bold" font-size="7.1" letter-spacing="0.42" fill="#000" stroke="#000" stroke-width="0.08">Wnt</text>
<rect x="440.75" y="851.25" width="14.7" height="23.5" fill="#e8c6e0" stroke="#444" stroke-width="0.8" stroke-dasharray="1.2 1"/>
<text x="448.10" y="865.20" text-anchor="middle" font-family='"Liberation Serif", serif' font-weight="bold" font-size="7.1" letter-spacing="0.42" fill="#000" stroke="#000" stroke-width="0.08">KCNJ11</text>
<ellipse cx="72.9" cy="870" rx="15.3" ry="5.0" fill="#c3e4cf" stroke="none" stroke-width="0.8"/>
<text x="72.90" y="872.20" text-anchor="middle" font-family='"Liberation Serif", serif' font-weight="bold" font-size="7.1" letter-spacing="0.42" fill="#000" stroke="#000" stroke-width="0.08">HOXD9</text>
<ellipse cx="180.7" cy="870.5" rx="6.75" ry="5.5" fill="#1c9a48" stroke="none" stroke-width="0.8"/>
<text x="180.70" y="872.70" text-anchor="middle" font-family='"Liberation Serif", serif' font-weight="bold" font-size="7.1" letter-spacing="0.42" fill="#000" stroke="#000" stroke-width="0.08">WNT9B</text>
<ellipse cx="290.5" cy="870.7" rx="6.5" ry="5.3" fill="#e8c6e0" stroke="none" stroke-width="0.8"/>
<text x="290.50" y="872.90" text-anchor="middle" font-family='"Liberation Serif", serif' font-weight="bold" font-size="7.1" letter-spacing="0.42" fill="#000" stroke="#000" stroke-width="0.08">WNT6</text>
<path d="M379.00,863.10 L385.60,867.10 L385.60,870.10 L379.00,874.10 L372.40,870.10 L372.40,867.10 Z" fill="#c3e4cf" stroke-linejoin="round"/>
<text x="379.00" y="870.80" text-anchor="middle" font-family='"Liberation Serif", serif' font-weight="bold" font-size="7.1" letter-spacing="0.42" fill="#000" stroke="#000" stroke-width="0.08">WNT2B</text>
<path d="M336.70,883.50 L343.30,887.50 L343.30,890.50 L336.70,894.50 L330.10,890.50 L330.10,887.50 Z" fill="#c3e4cf" stroke-linejoin="round"/>
<text x="336.70" y="891.20" text-anchor="middle" font-family='"Liberation Serif", serif' font-weight="bold" font-size="7.1" letter-spacing="0.42" fill="#000" stroke="#000" stroke-width="0.08">WNT9A</text>
<path d="M246.90,909.50 L253.50,913.50 L253.50,916.50 L246.90,920.50 L240.30,916.50 L240.30,913.50 Z" fill="#c3e4cf" stroke-linejoin="round"/>
<text x="246.90" y="917.20" text-anchor="middle" font-family='"Liberation Serif", serif' font-weight="bold" font-size="7.1" letter-spacing="0.42" fill="#000" stroke="#000" stroke-width="0.08">WNT10A</text>
</svg>
</body></html>
